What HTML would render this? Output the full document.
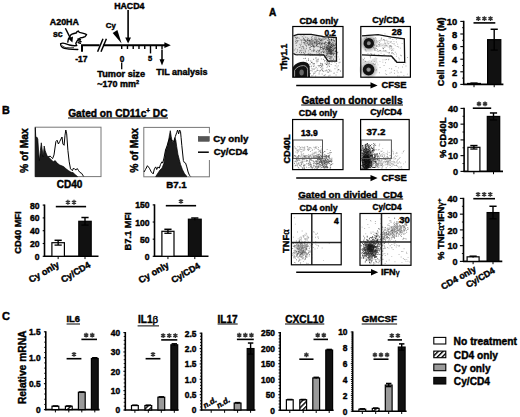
<!DOCTYPE html>
<html><head><meta charset="utf-8"><style>html,body{margin:0;padding:0;background:#fff;}svg{display:block;}text{stroke:#000;stroke-width:0.42px;}</style></head><body>
<svg width="520" height="417" viewBox="0 0 520 417" font-family="&quot;Liberation Sans&quot;, sans-serif" font-weight="bold" fill="#000"><defs>
<radialGradient id="gb"><stop offset="0" stop-color="#000" stop-opacity="0.95"/><stop offset="0.5" stop-color="#000" stop-opacity="0.75"/><stop offset="0.78" stop-color="#000" stop-opacity="0.3"/><stop offset="1" stop-color="#000" stop-opacity="0"/></radialGradient>
<radialGradient id="gh"><stop offset="0" stop-color="#000" stop-opacity="0.55"/><stop offset="0.5" stop-color="#000" stop-opacity="0.35"/><stop offset="1" stop-color="#000" stop-opacity="0"/></radialGradient>
<radialGradient id="gg"><stop offset="0" stop-color="#000" stop-opacity="0.4"/><stop offset="1" stop-color="#000" stop-opacity="0"/></radialGradient>
<pattern id="hatch" patternUnits="userSpaceOnUse" width="3.4" height="3.4" patternTransform="rotate(45)"><rect width="3.4" height="3.4" fill="#fff"/><rect width="1.4" height="3.4" fill="#000"/></pattern>
</defs>
<rect width="520" height="417" fill="#fff"/>
<text id="t_a20ha" x="49.85" y="25.17" font-size="8.88" text-anchor="start">A20HA</text>
<text id="t_sc" x="52.91" y="36.66" font-size="8.70" text-anchor="start">sc</text>
<text id="t_hacd4" x="114.15" y="8.53" font-size="8.82" text-anchor="start">HACD4</text>
<text id="t_cy" x="105.82" y="27.83" font-size="7.81" text-anchor="start">Cy</text>
<text id="t_m17" x="75.28" y="62.08" font-size="8.54" text-anchor="start">-17</text>
<text id="t_z0" x="119.71" y="61.60" font-size="8.23" text-anchor="start">0</text>
<text id="t_z5" x="148.02" y="61.40" font-size="7.47" text-anchor="start">5</text>
<text id="t_tumor" x="97.28" y="76.78" font-size="9.19" text-anchor="start">Tumor size</text>
<text id="t_mm2" x="97.34" y="87.09" font-size="8.99" text-anchor="start">~170 mm<tspan font-size="0.62em" dy="-0.55em">2</tspan></text>
<text id="t_til" x="156.23" y="75.35" font-size="8.98" text-anchor="start">TIL analysis</text>
<path d="M82 51.8 V45.2 H99.6 M103.2 45.2 H166" stroke="#000" stroke-width="2" fill="none"/>
<path d="M164.4 42.3 L170.8 45.2 L164.4 48.1 Z" fill="#000"/>
<line x1="97.60" y1="51.80" x2="103.00" y2="38.80" stroke="#000" stroke-width="1.5"/>
<line x1="101.00" y1="51.80" x2="106.40" y2="38.80" stroke="#000" stroke-width="1.5"/>
<line x1="121.70" y1="45.20" x2="121.70" y2="49.00" stroke="#000" stroke-width="1.4"/>
<line x1="127.46" y1="45.20" x2="127.46" y2="49.00" stroke="#000" stroke-width="1.4"/>
<line x1="133.22" y1="45.20" x2="133.22" y2="49.00" stroke="#000" stroke-width="1.4"/>
<line x1="138.98" y1="45.20" x2="138.98" y2="49.00" stroke="#000" stroke-width="1.4"/>
<line x1="144.74" y1="45.20" x2="144.74" y2="49.00" stroke="#000" stroke-width="1.4"/>
<line x1="150.50" y1="45.20" x2="150.50" y2="53.40" stroke="#000" stroke-width="1.4"/>
<line x1="156.26" y1="45.20" x2="156.26" y2="49.00" stroke="#000" stroke-width="1.4"/>
<line x1="162.02" y1="45.20" x2="162.02" y2="49.00" stroke="#000" stroke-width="1.4"/>
<line x1="121.70" y1="62.60" x2="121.70" y2="69.20" stroke="#000" stroke-width="1.3"/>
<path d="M112.7 33.1 L117.4 30.0 L121.6 43.6 Z" fill="#000"/>
<line x1="128.10" y1="10.00" x2="128.10" y2="38.50" stroke="#000" stroke-width="1.6"/>
<path d="M125.2 37.6 L131.0 37.6 L128.1 43.6 Z" fill="#000"/>
<line x1="162.00" y1="49.50" x2="162.00" y2="60.50" stroke="#000" stroke-width="1.5"/>
<path d="M159.5 59.2 L164.5 59.2 L162 65.6 Z" fill="#000"/>
<line x1="65.40" y1="28.20" x2="70.60" y2="38.60" stroke="#000" stroke-width="1.4"/>
<path d="M68.2 38.4 L73.0 36.4 L72.4 42.4 Z" fill="#000"/>
<g fill="none" stroke="#000" stroke-width="1.35" stroke-linejoin="round" stroke-linecap="round"><path d="M71.2 34.5 C73 33.6 75 33.2 76.6 32.8 L76.9 31.6 L78.3 31.0 L79.3 32.3 C81.2 32.6 83.4 33.1 85.1 33.8 L86.6 34.6 L85.1 36.6 L82.6 37.5 L80.2 37.9 L77.2 40.8 L75.8 43.4 L76.5 45.4"/><path d="M71.2 34.5 L68.4 38.8 L67.8 42.2"/><path d="M60.6 43.8 C60.6 46.2 62.2 47.8 64.4 48.4 C67 49.2 71 49.3 77.8 49.5"/><path d="M60.6 43.8 C61.8 43.0 63.2 43.0 64.4 43.4 C66.4 44.0 68 44.7 69.4 45.0 C71.6 45.6 74 46.0 76.8 45.6"/><path d="M62.6 45.9 C63.8 47.0 65 47.5 66.4 47.7 C68.8 48.0 71 47.9 73.6 47.8" stroke-width="0.9"/></g>
<path d="M78.0 39.0 L80.4 39.8 M78.6 40.9 L81.0 41.6 M78.2 42.6 L80.4 43.3" stroke="#000" stroke-width="1.5" stroke-linecap="round"/>
<text id="t_B" x="1.89" y="113.74" font-size="10.82" text-anchor="start">B</text>
<text id="t_gcd11" x="68.18" y="116.58" font-size="10.20" text-anchor="start">Gated on CD11c<tspan font-size="0.62em" dy="-0.55em">+</tspan><tspan dy="0.34em"> DC</tspan></text>
<line x1="68.00" y1="118.00" x2="168.00" y2="118.00" stroke="#000" stroke-width="1.0"/>
<rect x="35.2" y="127.2" width="65.8" height="49.4" fill="none" stroke="#777" stroke-width="1"/>
<rect x="143.8" y="127.4" width="65.6" height="49.4" fill="none" stroke="#777" stroke-width="1"/>
<path d="M35.3 176.6 L35.3 127.5 L35.8 137.7 L36.8 137 L37.8 139 L38.7 153 L39.4 160.6 L40.4 150.4 L41.3 142.8 L42.1 149 L43.2 156.8 L44.2 146 L45.1 150.4 L46 153 L47 155.5 L48.9 157.4 L50.8 159.3 L53.3 161.8 L55.2 160.6 L57.1 163.1 L59.7 165 L62.9 166.3 L64.1 167 L66 168.8 L68.6 170.7 L71.1 172.3 L73 172.6 L75 174.5 L77.5 176.6 Z" fill="#1c1c1c" stroke="#000" stroke-width="0.7"/>
<path d="M48 157 L50.2 156.1 L51.4 157.4 L52.6 158.6 L54 154.9 L55.9 141.5 L57.1 140.2 L58.4 144 L59.7 141.5 L61 139 L62 137 L62.9 144 L64.1 145.3 L65 135.2 L65.8 130 L66.7 133.9 L67.9 150.4 L69.2 161.8 L70.5 168.8 L72.4 170.7 L73.5 168 L75 169.5 L76.2 169.8 L77.2 168.5 L78.5 170.5 L80 172.5 L81.5 173.2 L83.6 176.4" fill="none" stroke="#000" stroke-width="1"/>
<path d="M155.7 176.6 L158 173 L160 170 L162 168.2 L164 163.1 L165.9 150.4 L167.8 145.3 L169 137.7 L170.3 130.7 L171.2 136.4 L172.2 141.5 L173.5 142.8 L174.8 137.7 L175.8 140.2 L176.7 146.6 L177.9 154.2 L179.2 159.3 L180.5 164.4 L182.4 169.5 L184.3 173.3 L186.2 175.8 L187 176.6 Z" fill="#1c1c1c" stroke="#000" stroke-width="0.7"/>
<path d="M144 172 L145.5 169.5 L147.4 165.7 L149.4 168.2 L151.3 172 L153.2 173.9 L154.4 168.8 L155.7 166.9 L156.7 169.5 L158 166.9 L159.3 168.2 L160.5 164.4 L162 161.8 L162.7 163.1 L164 158 L165.5 150 L167 146 L168.5 141 L170 138 L171.5 140.5 L173 141 L174.1 141.5 L175.4 136.4 L176.7 132.6 L177.6 130 L178.6 133.9 L179.6 130 L180.5 131.4 L181.1 137.7 L181.8 145.3 L182.6 153 L183.4 160.6 L184.3 162.5 L185.6 163.1 L186.8 166.9 L188.1 172 L189.4 175.2 L190.6 176.4" fill="none" stroke="#000" stroke-width="1"/>
<text id="t_pom1" x="28.36" y="150.61" font-size="10.34" text-anchor="middle" transform="rotate(-90 28.36 150.61)">% of Max</text>
<text id="t_pom2" x="137.72" y="150.45" font-size="10.34" text-anchor="middle" transform="rotate(-90 137.72 150.45)">% of Max</text>
<text id="t_cd40" x="69.50" y="187.93" font-size="10.04" text-anchor="middle">CD40</text>
<text id="t_b71" x="176.44" y="188.47" font-size="9.73" text-anchor="middle">B7.1</text>
<rect x="196.5" y="133.2" width="56" height="26.8" fill="#fff"/>
<rect x="198.2" y="136.4" width="11.2" height="5" fill="#555" stroke="#333" stroke-width="0.4"/>
<line x1="198.00" y1="152.20" x2="208.80" y2="152.20" stroke="#000" stroke-width="1.5"/>
<text id="t_lcyo" x="213.26" y="141.71" font-size="9.71" text-anchor="start">Cy only</text>
<text id="t_lcyc" x="213.71" y="155.32" font-size="9.53" text-anchor="start">Cy/CD4</text>
<line x1="44.50" y1="256.90" x2="44.50" y2="204.50" stroke="#000" stroke-width="1.6"/>
<line x1="42.70" y1="256.30" x2="44.50" y2="256.30" stroke="#000" stroke-width="1.1"/>
<text x="39.60" y="259.78" font-size="8.6" text-anchor="end">0</text>
<line x1="42.70" y1="243.50" x2="44.50" y2="243.50" stroke="#000" stroke-width="1.1"/>
<text x="39.60" y="246.98" font-size="8.6" text-anchor="end">20</text>
<line x1="42.70" y1="230.70" x2="44.50" y2="230.70" stroke="#000" stroke-width="1.1"/>
<text x="39.60" y="234.18" font-size="8.6" text-anchor="end">40</text>
<line x1="42.70" y1="217.90" x2="44.50" y2="217.90" stroke="#000" stroke-width="1.1"/>
<text x="39.60" y="221.38" font-size="8.6" text-anchor="end">60</text>
<line x1="42.70" y1="205.10" x2="44.50" y2="205.10" stroke="#000" stroke-width="1.1"/>
<text x="39.60" y="208.58" font-size="8.6" text-anchor="end">80</text>
<line x1="43.90" y1="256.30" x2="98.50" y2="256.30" stroke="#000" stroke-width="1.6"/>
<line x1="58.15" y1="256.30" x2="58.15" y2="259.10" stroke="#000" stroke-width="1"/>
<rect x="51.90" y="242.70" width="12.50" height="13.60" fill="#fff" stroke="#000" stroke-width="1.2"/>
<line x1="58.15" y1="245.10" x2="58.15" y2="240.30" stroke="#000" stroke-width="1.4"/>
<line x1="54.55" y1="240.30" x2="61.75" y2="240.30" stroke="#000" stroke-width="1.5"/>
<line x1="54.55" y1="245.10" x2="61.75" y2="245.10" stroke="#000" stroke-width="1.3"/>
<line x1="85.00" y1="256.30" x2="85.00" y2="259.10" stroke="#000" stroke-width="1"/>
<rect x="78.80" y="221.29" width="12.40" height="35.01" fill="#111" stroke="#000" stroke-width="1.2"/>
<line x1="85.00" y1="225.07" x2="85.00" y2="217.52" stroke="#000" stroke-width="1.4"/>
<line x1="81.40" y1="217.52" x2="88.60" y2="217.52" stroke="#000" stroke-width="1.5"/>
<line x1="81.40" y1="225.07" x2="88.60" y2="225.07" stroke="#000" stroke-width="1.3"/>
<line x1="55.80" y1="206.60" x2="86.10" y2="206.60" stroke="#000" stroke-width="1.6"/>
<path d="M67.90 199.85L67.90 204.75M65.78 201.07L70.02 203.52M65.78 203.52L70.02 201.07M74.00 199.85L74.00 204.75M71.88 201.07L76.12 203.52M71.88 203.52L76.12 201.07" stroke="#333" stroke-width="1.35" fill="none"/>
<text id="t_cd40mfi" x="20.78" y="232.52" font-size="9.28" text-anchor="middle" transform="rotate(-90 20.78 232.52)">CD40 MFI</text>
<text id="t_xb1" x="59.84" y="266.42" font-size="9.22" text-anchor="end" transform="rotate(-30 59.84 266.42)">Cy only</text>
<text id="t_xb2" x="91.09" y="266.82" font-size="9.05" text-anchor="end" transform="rotate(-30 91.09 266.82)">Cy/CD4</text>
<line x1="154.50" y1="256.90" x2="154.50" y2="204.30" stroke="#000" stroke-width="1.6"/>
<line x1="152.70" y1="256.30" x2="154.50" y2="256.30" stroke="#000" stroke-width="1.1"/>
<text x="149.60" y="259.78" font-size="8.6" text-anchor="end">0</text>
<line x1="152.70" y1="239.17" x2="154.50" y2="239.17" stroke="#000" stroke-width="1.1"/>
<text x="149.60" y="242.65" font-size="8.6" text-anchor="end">50</text>
<line x1="152.70" y1="222.03" x2="154.50" y2="222.03" stroke="#000" stroke-width="1.1"/>
<text x="149.60" y="225.51" font-size="8.6" text-anchor="end">100</text>
<line x1="152.70" y1="204.90" x2="154.50" y2="204.90" stroke="#000" stroke-width="1.1"/>
<text x="149.60" y="208.38" font-size="8.6" text-anchor="end">150</text>
<line x1="153.90" y1="256.30" x2="208.50" y2="256.30" stroke="#000" stroke-width="1.6"/>
<line x1="167.95" y1="256.30" x2="167.95" y2="259.10" stroke="#000" stroke-width="1"/>
<rect x="161.90" y="231.29" width="12.10" height="25.01" fill="#fff" stroke="#000" stroke-width="1.2"/>
<line x1="167.95" y1="233.27" x2="167.95" y2="229.30" stroke="#000" stroke-width="1.4"/>
<line x1="164.35" y1="229.30" x2="171.55" y2="229.30" stroke="#000" stroke-width="1.5"/>
<line x1="164.35" y1="233.27" x2="171.55" y2="233.27" stroke="#000" stroke-width="1.3"/>
<line x1="194.80" y1="256.30" x2="194.80" y2="259.10" stroke="#000" stroke-width="1"/>
<rect x="188.40" y="219.19" width="12.80" height="37.11" fill="#111" stroke="#000" stroke-width="1.2"/>
<line x1="194.80" y1="220.35" x2="194.80" y2="218.02" stroke="#000" stroke-width="1.4"/>
<line x1="191.20" y1="218.02" x2="198.40" y2="218.02" stroke="#000" stroke-width="1.5"/>
<line x1="165.80" y1="205.70" x2="196.10" y2="205.70" stroke="#000" stroke-width="1.6"/>
<path d="M180.95 198.95L180.95 203.85M178.83 200.17L183.07 202.62M178.83 202.62L183.07 200.17" stroke="#333" stroke-width="1.35" fill="none"/>
<text id="t_b71mfi" x="131.43" y="231.42" font-size="9.28" text-anchor="middle" transform="rotate(-90 131.43 231.42)">B7.1 MFI</text>
<text id="t_xb3" x="169.67" y="266.84" font-size="9.24" text-anchor="end" transform="rotate(-30 169.67 266.84)">Cy only</text>
<text id="t_xb4" x="200.76" y="267.58" font-size="8.90" text-anchor="end" transform="rotate(-30 200.76 267.58)">Cy/CD4</text>
<text id="t_A" x="268.92" y="15.65" font-size="10.10" text-anchor="start">A</text>
<text id="t_r1a" x="318.82" y="23.82" font-size="8.96" text-anchor="middle">CD4 only</text>
<text id="t_r1b" x="388.18" y="23.22" font-size="9.02" text-anchor="middle">Cy/CD4</text>
<path d="M293.4 35.8 L297.8 34.3 L311.2 34.3 L323.7 36.7 L336.3 37.7 L336.5 61.2 L328 61.2 L323.8 55.0 L295.5 54.6 L293.4 53.5 Z" fill="#e4e4e4"/>
<ellipse cx="330" cy="50" rx="5.5" ry="9" fill="url(#gg)"/>
<ellipse cx="314" cy="42" rx="12" ry="5" fill="url(#gg)" opacity="0.6"/>
<path d="M320.6 42.2h0.9v0.9h-0.9zM331.8 49.7h0.9v0.9h-0.9zM326.8 52.5h0.9v0.9h-0.9zM304.2 53.0h0.9v0.9h-0.9zM307.3 39.1h0.9v0.9h-0.9zM330.8 36.5h0.9v0.9h-0.9zM295.2 48.4h0.9v0.9h-0.9zM328.7 40.1h0.9v0.9h-0.9zM327.7 46.7h0.9v0.9h-0.9zM314.2 54.0h0.9v0.9h-0.9zM307.4 43.2h0.9v0.9h-0.9zM306.4 40.8h0.9v0.9h-0.9zM305.4 44.7h0.9v0.9h-0.9zM313.2 48.5h0.9v0.9h-0.9zM315.7 37.9h0.9v0.9h-0.9zM317.7 43.2h0.9v0.9h-0.9zM335.8 38.5h0.9v0.9h-0.9zM327.5 48.6h0.9v0.9h-0.9zM320.5 51.8h0.9v0.9h-0.9zM335.5 43.2h0.9v0.9h-0.9zM303.8 43.1h0.9v0.9h-0.9zM301.6 46.3h0.9v0.9h-0.9zM320.1 40.1h0.9v0.9h-0.9zM296.8 40.7h0.9v0.9h-0.9zM296.5 42.3h0.9v0.9h-0.9zM316.1 44.7h0.9v0.9h-0.9zM314.1 37.5h0.9v0.9h-0.9zM332.6 50.3h0.9v0.9h-0.9zM320.8 47.0h0.9v0.9h-0.9zM316.1 41.7h0.9v0.9h-0.9zM315.4 37.5h0.9v0.9h-0.9zM305.1 50.5h0.9v0.9h-0.9zM295.5 38.5h0.9v0.9h-0.9zM302.9 38.5h0.9v0.9h-0.9zM323.4 38.5h0.9v0.9h-0.9zM303.2 37.5h0.9v0.9h-0.9zM310.2 53.2h0.9v0.9h-0.9zM295.2 41.1h0.9v0.9h-0.9zM329.0 41.8h0.9v0.9h-0.9zM301.3 51.8h0.9v0.9h-0.9zM306.0 47.8h0.9v0.9h-0.9zM331.1 39.6h0.9v0.9h-0.9zM315.9 44.3h0.9v0.9h-0.9zM329.7 52.8h0.9v0.9h-0.9zM321.2 43.1h0.9v0.9h-0.9zM325.4 49.5h0.9v0.9h-0.9zM298.8 37.8h0.9v0.9h-0.9zM317.2 49.8h0.9v0.9h-0.9zM315.8 50.8h0.9v0.9h-0.9zM330.7 51.7h0.9v0.9h-0.9zM309.8 48.8h0.9v0.9h-0.9zM319.5 43.0h0.9v0.9h-0.9zM297.4 37.2h0.9v0.9h-0.9zM310.9 45.9h0.9v0.9h-0.9zM308.2 50.4h0.9v0.9h-0.9zM301.2 39.6h0.9v0.9h-0.9zM328.5 41.1h0.9v0.9h-0.9zM310.6 46.2h0.9v0.9h-0.9zM335.1 50.2h0.9v0.9h-0.9zM319.2 53.0h0.9v0.9h-0.9zM319.8 38.4h0.9v0.9h-0.9zM321.2 39.5h0.9v0.9h-0.9zM322.7 51.2h0.9v0.9h-0.9zM301.2 48.2h0.9v0.9h-0.9zM313.1 49.7h0.9v0.9h-0.9zM304.8 54.9h0.9v0.9h-0.9zM311.5 53.8h0.9v0.9h-0.9zM299.0 52.0h0.9v0.9h-0.9zM334.7 50.8h0.9v0.9h-0.9zM303.8 43.5h0.9v0.9h-0.9zM322.5 48.2h0.9v0.9h-0.9zM307.3 39.5h0.9v0.9h-0.9zM330.8 50.4h0.9v0.9h-0.9zM322.2 50.4h0.9v0.9h-0.9zM300.4 49.7h0.9v0.9h-0.9zM329.6 44.5h0.9v0.9h-0.9zM333.7 43.2h0.9v0.9h-0.9zM332.1 44.0h0.9v0.9h-0.9zM318.4 36.6h0.9v0.9h-0.9zM301.0 52.0h0.9v0.9h-0.9zM302.9 46.3h0.9v0.9h-0.9zM333.0 43.4h0.9v0.9h-0.9zM317.6 46.4h0.9v0.9h-0.9zM302.4 49.7h0.9v0.9h-0.9zM331.2 43.2h0.9v0.9h-0.9zM321.3 51.8h0.9v0.9h-0.9zM318.4 53.5h0.9v0.9h-0.9zM310.4 43.4h0.9v0.9h-0.9zM311.8 38.6h0.9v0.9h-0.9zM304.8 50.4h0.9v0.9h-0.9zM296.6 54.9h0.9v0.9h-0.9zM330.9 38.8h0.9v0.9h-0.9zM314.2 49.5h0.9v0.9h-0.9zM317.5 51.7h0.9v0.9h-0.9zM308.2 53.5h0.9v0.9h-0.9zM325.8 38.3h0.9v0.9h-0.9zM296.0 37.7h0.9v0.9h-0.9zM310.3 54.8h0.9v0.9h-0.9zM296.2 38.2h0.9v0.9h-0.9zM300.0 39.4h0.9v0.9h-0.9zM334.7 46.9h0.9v0.9h-0.9zM322.0 44.5h0.9v0.9h-0.9zM312.6 50.3h0.9v0.9h-0.9zM316.5 39.6h0.9v0.9h-0.9zM330.8 53.4h0.9v0.9h-0.9zM309.1 40.1h0.9v0.9h-0.9zM319.2 50.6h0.9v0.9h-0.9zM323.0 37.3h0.9v0.9h-0.9zM309.6 45.0h0.9v0.9h-0.9zM316.3 36.6h0.9v0.9h-0.9zM326.4 42.0h0.9v0.9h-0.9zM332.3 41.9h0.9v0.9h-0.9zM301.2 49.7h0.9v0.9h-0.9zM333.3 44.6h0.9v0.9h-0.9zM295.2 37.1h0.9v0.9h-0.9zM325.9 54.9h0.9v0.9h-0.9zM328.2 52.9h0.9v0.9h-0.9zM300.6 53.4h0.9v0.9h-0.9zM312.2 40.7h0.9v0.9h-0.9zM328.4 43.5h0.9v0.9h-0.9zM295.6 40.3h0.9v0.9h-0.9zM320.8 38.4h0.9v0.9h-0.9zM327.5 36.6h0.9v0.9h-0.9zM316.0 45.6h0.9v0.9h-0.9zM324.8 38.3h0.9v0.9h-0.9zM304.3 39.3h0.9v0.9h-0.9zM303.1 52.3h0.9v0.9h-0.9zM309.9 45.2h0.9v0.9h-0.9zM302.4 39.5h0.9v0.9h-0.9zM309.2 48.7h0.9v0.9h-0.9zM333.9 41.1h0.9v0.9h-0.9zM318.5 46.0h0.9v0.9h-0.9zM308.9 41.4h0.9v0.9h-0.9zM306.1 45.8h0.9v0.9h-0.9zM334.0 47.9h0.9v0.9h-0.9zM313.2 46.2h0.9v0.9h-0.9zM335.2 43.5h0.9v0.9h-0.9zM316.1 51.0h0.9v0.9h-0.9zM316.4 52.6h0.9v0.9h-0.9zM331.8 39.4h0.9v0.9h-0.9zM325.5 38.6h0.9v0.9h-0.9zM318.8 38.2h0.9v0.9h-0.9zM312.5 54.6h0.9v0.9h-0.9zM331.0 53.9h0.9v0.9h-0.9zM311.9 40.4h0.9v0.9h-0.9zM332.8 54.4h0.9v0.9h-0.9zM297.8 39.9h0.9v0.9h-0.9zM312.6 45.6h0.9v0.9h-0.9zM316.3 45.5h0.9v0.9h-0.9zM334.0 53.4h0.9v0.9h-0.9zM305.3 36.8h0.9v0.9h-0.9zM328.0 42.0h0.9v0.9h-0.9zM322.7 47.4h0.9v0.9h-0.9zM324.4 37.3h0.9v0.9h-0.9zM320.8 40.5h0.9v0.9h-0.9zM334.8 44.8h0.9v0.9h-0.9zM308.6 52.7h0.9v0.9h-0.9zM311.3 50.5h0.9v0.9h-0.9zM303.3 51.8h0.9v0.9h-0.9zM297.1 50.5h0.9v0.9h-0.9zM303.7 49.4h0.9v0.9h-0.9zM332.5 52.1h0.9v0.9h-0.9zM329.4 48.9h0.9v0.9h-0.9zM299.6 50.0h0.9v0.9h-0.9zM319.8 41.7h0.9v0.9h-0.9zM314.6 39.2h0.9v0.9h-0.9zM319.4 50.4h0.9v0.9h-0.9zM322.0 39.2h0.9v0.9h-0.9zM307.6 53.5h0.9v0.9h-0.9zM334.4 47.3h0.9v0.9h-0.9zM314.1 42.3h0.9v0.9h-0.9zM320.8 53.8h0.9v0.9h-0.9zM321.0 38.9h0.9v0.9h-0.9zM302.5 45.8h0.9v0.9h-0.9zM297.5 37.7h0.9v0.9h-0.9zM311.9 54.3h0.9v0.9h-0.9zM326.3 46.9h0.9v0.9h-0.9zM328.4 51.3h0.9v0.9h-0.9zM324.9 41.4h0.9v0.9h-0.9zM299.6 51.2h0.9v0.9h-0.9zM332.4 49.4h0.9v0.9h-0.9zM327.9 48.2h0.9v0.9h-0.9zM331.0 54.1h0.9v0.9h-0.9zM316.5 44.2h0.9v0.9h-0.9zM332.5 43.9h0.9v0.9h-0.9zM296.9 49.2h0.9v0.9h-0.9zM296.2 51.9h0.9v0.9h-0.9zM295.8 42.4h0.9v0.9h-0.9zM305.4 48.7h0.9v0.9h-0.9zM305.2 40.0h0.9v0.9h-0.9zM302.7 46.5h0.9v0.9h-0.9zM318.2 50.6h0.9v0.9h-0.9zM296.6 37.2h0.9v0.9h-0.9zM319.2 49.8h0.9v0.9h-0.9zM301.8 36.3h0.9v0.9h-0.9zM322.8 54.2h0.9v0.9h-0.9zM295.9 44.9h0.9v0.9h-0.9zM307.7 43.8h0.9v0.9h-0.9zM333.5 49.7h0.9v0.9h-0.9zM317.1 45.9h0.9v0.9h-0.9zM328.3 49.9h0.9v0.9h-0.9zM322.0 37.6h0.9v0.9h-0.9zM320.0 46.7h0.9v0.9h-0.9zM302.8 46.6h0.9v0.9h-0.9zM318.6 53.7h0.9v0.9h-0.9zM296.6 36.8h0.9v0.9h-0.9zM327.9 44.6h0.9v0.9h-0.9zM334.4 48.0h0.9v0.9h-0.9zM330.0 46.5h0.9v0.9h-0.9zM297.1 37.4h0.9v0.9h-0.9zM308.9 47.3h0.9v0.9h-0.9zM308.0 40.2h0.9v0.9h-0.9zM299.6 39.7h0.9v0.9h-0.9zM320.7 52.7h0.9v0.9h-0.9zM327.7 39.8h0.9v0.9h-0.9zM307.9 44.6h0.9v0.9h-0.9zM330.4 50.3h0.9v0.9h-0.9zM327.7 49.4h0.9v0.9h-0.9zM300.3 46.5h0.9v0.9h-0.9zM326.4 51.3h0.9v0.9h-0.9zM331.2 44.9h0.9v0.9h-0.9zM303.1 47.8h0.9v0.9h-0.9zM318.5 51.6h0.9v0.9h-0.9zM321.2 48.9h0.9v0.9h-0.9zM320.0 48.2h0.9v0.9h-0.9zM298.9 43.7h0.9v0.9h-0.9zM322.1 46.6h0.9v0.9h-0.9zM320.9 43.5h0.9v0.9h-0.9zM328.8 50.1h0.9v0.9h-0.9zM327.9 43.2h0.9v0.9h-0.9z" fill="#000" fill-opacity="0.45"/>
<path d="M325.7 44.0h0.9v0.9h-0.9zM329.1 39.1h0.9v0.9h-0.9zM329.7 40.4h0.9v0.9h-0.9zM332.9 53.0h0.9v0.9h-0.9zM326.3 44.4h0.9v0.9h-0.9zM329.4 48.2h0.9v0.9h-0.9zM323.5 50.3h0.9v0.9h-0.9zM331.8 52.7h0.9v0.9h-0.9zM325.7 47.0h0.9v0.9h-0.9zM323.2 52.0h0.9v0.9h-0.9zM329.3 43.7h0.9v0.9h-0.9zM333.4 46.8h0.9v0.9h-0.9zM324.2 42.9h0.9v0.9h-0.9zM325.7 55.8h0.9v0.9h-0.9zM326.9 48.8h0.9v0.9h-0.9zM325.5 44.6h0.9v0.9h-0.9zM330.8 46.9h0.9v0.9h-0.9zM326.7 47.7h0.9v0.9h-0.9zM327.0 53.2h0.9v0.9h-0.9zM331.5 39.4h0.9v0.9h-0.9zM326.9 42.8h0.9v0.9h-0.9zM331.0 46.7h0.9v0.9h-0.9zM326.1 64.2h0.9v0.9h-0.9zM325.3 54.7h0.9v0.9h-0.9zM323.1 48.3h0.9v0.9h-0.9zM336.0 53.3h0.9v0.9h-0.9zM328.4 61.3h0.9v0.9h-0.9zM330.4 47.6h0.9v0.9h-0.9zM329.4 46.8h0.9v0.9h-0.9zM330.1 56.3h0.9v0.9h-0.9zM329.7 52.0h0.9v0.9h-0.9zM336.2 53.0h0.9v0.9h-0.9zM325.9 46.0h0.9v0.9h-0.9zM324.0 60.5h0.9v0.9h-0.9zM326.0 59.3h0.9v0.9h-0.9zM324.8 52.4h0.9v0.9h-0.9zM332.1 53.1h0.9v0.9h-0.9zM332.4 36.8h0.9v0.9h-0.9zM326.1 52.8h0.9v0.9h-0.9zM324.6 47.8h0.9v0.9h-0.9zM328.3 51.6h0.9v0.9h-0.9zM334.4 53.1h0.9v0.9h-0.9zM319.6 47.0h0.9v0.9h-0.9zM331.3 38.9h0.9v0.9h-0.9zM325.7 51.2h0.9v0.9h-0.9zM333.1 44.6h0.9v0.9h-0.9zM325.7 47.0h0.9v0.9h-0.9zM328.5 45.4h0.9v0.9h-0.9zM324.2 47.0h0.9v0.9h-0.9zM326.1 35.1h0.9v0.9h-0.9zM334.4 56.3h0.9v0.9h-0.9zM332.4 50.5h0.9v0.9h-0.9zM328.1 55.7h0.9v0.9h-0.9zM326.5 60.9h0.9v0.9h-0.9zM322.9 49.1h0.9v0.9h-0.9zM328.1 38.2h0.9v0.9h-0.9zM329.4 43.6h0.9v0.9h-0.9zM329.2 41.8h0.9v0.9h-0.9zM329.2 46.0h0.9v0.9h-0.9zM325.6 49.5h0.9v0.9h-0.9zM329.3 37.0h0.9v0.9h-0.9zM329.4 51.1h0.9v0.9h-0.9zM334.0 39.9h0.9v0.9h-0.9zM336.0 50.8h0.9v0.9h-0.9zM329.0 48.3h0.9v0.9h-0.9zM326.8 47.1h0.9v0.9h-0.9zM329.3 48.6h0.9v0.9h-0.9zM327.4 45.8h0.9v0.9h-0.9zM326.9 45.3h0.9v0.9h-0.9zM329.3 38.9h0.9v0.9h-0.9zM325.8 48.8h0.9v0.9h-0.9zM331.6 60.1h0.9v0.9h-0.9zM329.1 60.9h0.9v0.9h-0.9zM330.4 56.9h0.9v0.9h-0.9zM328.9 53.2h0.9v0.9h-0.9zM327.0 44.9h0.9v0.9h-0.9zM326.2 57.7h0.9v0.9h-0.9zM328.7 48.7h0.9v0.9h-0.9zM327.6 48.6h0.9v0.9h-0.9zM330.3 47.3h0.9v0.9h-0.9zM329.5 49.6h0.9v0.9h-0.9zM324.7 46.4h0.9v0.9h-0.9zM329.7 48.5h0.9v0.9h-0.9zM324.8 42.5h0.9v0.9h-0.9zM327.3 46.8h0.9v0.9h-0.9zM328.5 62.7h0.9v0.9h-0.9zM322.2 48.6h0.9v0.9h-0.9zM329.8 47.6h0.9v0.9h-0.9zM330.0 52.2h0.9v0.9h-0.9zM328.9 53.2h0.9v0.9h-0.9zM328.0 42.3h0.9v0.9h-0.9zM328.2 47.8h0.9v0.9h-0.9zM326.1 54.5h0.9v0.9h-0.9zM328.6 50.6h0.9v0.9h-0.9zM327.6 49.7h0.9v0.9h-0.9zM329.8 58.3h0.9v0.9h-0.9zM325.3 44.9h0.9v0.9h-0.9zM330.3 49.5h0.9v0.9h-0.9zM330.0 45.9h0.9v0.9h-0.9zM329.0 57.9h0.9v0.9h-0.9zM328.0 37.3h0.9v0.9h-0.9zM331.4 45.0h0.9v0.9h-0.9zM323.7 45.8h0.9v0.9h-0.9zM331.1 53.0h0.9v0.9h-0.9zM330.4 52.6h0.9v0.9h-0.9zM330.5 57.4h0.9v0.9h-0.9zM330.8 39.6h0.9v0.9h-0.9zM327.2 53.5h0.9v0.9h-0.9zM328.6 47.2h0.9v0.9h-0.9zM331.7 45.0h0.9v0.9h-0.9zM331.0 52.2h0.9v0.9h-0.9zM330.2 43.5h0.9v0.9h-0.9zM324.2 36.5h0.9v0.9h-0.9zM331.4 46.8h0.9v0.9h-0.9zM333.6 40.0h0.9v0.9h-0.9zM333.0 45.1h0.9v0.9h-0.9zM330.3 51.2h0.9v0.9h-0.9zM324.0 50.9h0.9v0.9h-0.9zM332.8 58.5h0.9v0.9h-0.9zM329.0 47.8h0.9v0.9h-0.9zM320.6 39.8h0.9v0.9h-0.9zM330.8 44.5h0.9v0.9h-0.9zM324.3 43.5h0.9v0.9h-0.9zM325.0 41.7h0.9v0.9h-0.9zM327.3 51.6h0.9v0.9h-0.9zM334.0 45.1h0.9v0.9h-0.9zM328.2 37.1h0.9v0.9h-0.9zM330.4 53.2h0.9v0.9h-0.9zM335.6 48.3h0.9v0.9h-0.9zM335.1 51.1h0.9v0.9h-0.9zM329.1 49.6h0.9v0.9h-0.9zM328.7 52.8h0.9v0.9h-0.9zM325.1 49.2h0.9v0.9h-0.9zM327.1 56.4h0.9v0.9h-0.9zM331.0 51.5h0.9v0.9h-0.9zM330.9 51.4h0.9v0.9h-0.9zM329.9 51.5h0.9v0.9h-0.9zM333.0 40.3h0.9v0.9h-0.9zM326.8 48.0h0.9v0.9h-0.9zM329.3 47.4h0.9v0.9h-0.9zM332.1 50.2h0.9v0.9h-0.9zM331.5 40.8h0.9v0.9h-0.9zM333.2 58.8h0.9v0.9h-0.9zM330.9 49.6h0.9v0.9h-0.9zM328.4 41.7h0.9v0.9h-0.9zM330.8 38.7h0.9v0.9h-0.9zM326.0 47.3h0.9v0.9h-0.9zM323.8 48.5h0.9v0.9h-0.9zM331.5 44.7h0.9v0.9h-0.9zM329.3 49.6h0.9v0.9h-0.9zM330.6 45.2h0.9v0.9h-0.9zM323.6 52.3h0.9v0.9h-0.9zM328.2 44.7h0.9v0.9h-0.9zM327.4 48.8h0.9v0.9h-0.9zM326.5 54.9h0.9v0.9h-0.9zM321.6 64.4h0.9v0.9h-0.9zM328.3 43.0h0.9v0.9h-0.9zM332.6 46.2h0.9v0.9h-0.9zM330.8 44.0h0.9v0.9h-0.9zM327.4 53.7h0.9v0.9h-0.9zM329.4 42.1h0.9v0.9h-0.9zM332.1 46.1h0.9v0.9h-0.9zM319.8 48.8h0.9v0.9h-0.9zM329.1 43.1h0.9v0.9h-0.9zM331.4 43.3h0.9v0.9h-0.9zM331.9 46.1h0.9v0.9h-0.9zM335.5 36.4h0.9v0.9h-0.9zM333.5 40.3h0.9v0.9h-0.9zM330.6 46.5h0.9v0.9h-0.9zM330.6 49.9h0.9v0.9h-0.9zM332.3 47.9h0.9v0.9h-0.9zM327.6 38.4h0.9v0.9h-0.9zM329.4 46.2h0.9v0.9h-0.9zM332.7 53.8h0.9v0.9h-0.9zM336.4 52.3h0.9v0.9h-0.9zM328.9 48.5h0.9v0.9h-0.9zM329.3 43.7h0.9v0.9h-0.9zM330.2 52.8h0.9v0.9h-0.9zM334.2 45.5h0.9v0.9h-0.9zM329.4 42.0h0.9v0.9h-0.9zM334.6 44.2h0.9v0.9h-0.9zM326.1 57.7h0.9v0.9h-0.9zM328.8 50.3h0.9v0.9h-0.9zM328.8 56.0h0.9v0.9h-0.9zM332.3 46.1h0.9v0.9h-0.9zM333.2 54.6h0.9v0.9h-0.9zM324.2 45.4h0.9v0.9h-0.9zM326.3 48.1h0.9v0.9h-0.9zM330.7 63.9h0.9v0.9h-0.9zM327.2 53.6h0.9v0.9h-0.9zM324.2 46.0h0.9v0.9h-0.9zM333.1 48.5h0.9v0.9h-0.9zM331.2 51.0h0.9v0.9h-0.9zM331.2 56.3h0.9v0.9h-0.9zM327.8 46.1h0.9v0.9h-0.9zM333.1 38.6h0.9v0.9h-0.9zM328.7 47.3h0.9v0.9h-0.9zM333.3 49.1h0.9v0.9h-0.9zM326.3 49.7h0.9v0.9h-0.9zM326.5 56.9h0.9v0.9h-0.9zM330.2 50.9h0.9v0.9h-0.9zM327.0 53.9h0.9v0.9h-0.9zM331.9 42.4h0.9v0.9h-0.9zM330.4 54.2h0.9v0.9h-0.9zM326.3 61.6h0.9v0.9h-0.9zM329.8 53.6h0.9v0.9h-0.9zM328.3 50.5h0.9v0.9h-0.9zM332.7 49.9h0.9v0.9h-0.9zM327.3 59.7h0.9v0.9h-0.9zM328.0 43.4h0.9v0.9h-0.9zM333.7 48.3h0.9v0.9h-0.9zM337.3 51.8h0.9v0.9h-0.9zM336.5 53.5h0.9v0.9h-0.9zM329.7 46.4h0.9v0.9h-0.9zM330.3 50.8h0.9v0.9h-0.9zM334.9 47.3h0.9v0.9h-0.9zM329.1 49.7h0.9v0.9h-0.9zM326.1 48.2h0.9v0.9h-0.9zM329.9 42.2h0.9v0.9h-0.9zM331.1 48.9h0.9v0.9h-0.9z" fill="#000" fill-opacity="0.55"/>
<path d="M320.9 36.1h0.9v0.9h-0.9zM304.3 42.0h0.9v0.9h-0.9zM310.8 46.1h0.9v0.9h-0.9zM319.0 41.8h0.9v0.9h-0.9zM303.4 40.2h0.9v0.9h-0.9zM314.6 42.1h0.9v0.9h-0.9zM303.5 38.2h0.9v0.9h-0.9zM323.2 43.4h0.9v0.9h-0.9zM333.8 51.5h0.9v0.9h-0.9zM331.2 47.0h0.9v0.9h-0.9zM311.0 39.1h0.9v0.9h-0.9zM319.7 39.9h0.9v0.9h-0.9zM314.1 41.6h0.9v0.9h-0.9zM313.9 46.5h0.9v0.9h-0.9zM326.9 40.1h0.9v0.9h-0.9zM301.1 40.6h0.9v0.9h-0.9zM322.5 46.1h0.9v0.9h-0.9zM312.6 46.0h0.9v0.9h-0.9zM325.7 41.7h0.9v0.9h-0.9zM314.7 39.1h0.9v0.9h-0.9zM306.9 37.6h0.9v0.9h-0.9zM315.5 40.6h0.9v0.9h-0.9zM319.6 35.2h0.9v0.9h-0.9zM313.3 45.6h0.9v0.9h-0.9zM317.4 40.8h0.9v0.9h-0.9zM308.3 44.7h0.9v0.9h-0.9zM293.8 49.5h0.9v0.9h-0.9zM321.1 47.1h0.9v0.9h-0.9zM319.3 39.0h0.9v0.9h-0.9zM314.3 46.0h0.9v0.9h-0.9zM313.6 47.1h0.9v0.9h-0.9zM322.3 40.4h0.9v0.9h-0.9zM308.9 39.7h0.9v0.9h-0.9zM306.6 42.6h0.9v0.9h-0.9zM311.3 37.4h0.9v0.9h-0.9zM323.7 48.1h0.9v0.9h-0.9zM300.5 34.6h0.9v0.9h-0.9zM323.7 39.1h0.9v0.9h-0.9zM307.2 42.1h0.9v0.9h-0.9zM303.1 42.2h0.9v0.9h-0.9zM324.3 43.6h0.9v0.9h-0.9zM312.1 44.0h0.9v0.9h-0.9zM301.3 42.3h0.9v0.9h-0.9zM309.8 47.0h0.9v0.9h-0.9zM321.4 35.5h0.9v0.9h-0.9zM323.7 43.0h0.9v0.9h-0.9zM309.2 40.5h0.9v0.9h-0.9zM316.7 43.5h0.9v0.9h-0.9zM319.4 43.8h0.9v0.9h-0.9zM307.2 39.8h0.9v0.9h-0.9zM316.2 40.8h0.9v0.9h-0.9zM312.7 45.8h0.9v0.9h-0.9zM308.2 44.2h0.9v0.9h-0.9zM308.6 40.6h0.9v0.9h-0.9zM313.6 50.1h0.9v0.9h-0.9zM313.3 51.1h0.9v0.9h-0.9zM307.9 37.9h0.9v0.9h-0.9zM309.2 44.1h0.9v0.9h-0.9zM323.0 51.8h0.9v0.9h-0.9zM314.9 45.7h0.9v0.9h-0.9zM321.0 43.8h0.9v0.9h-0.9zM323.8 42.3h0.9v0.9h-0.9zM318.3 41.1h0.9v0.9h-0.9zM333.4 42.3h0.9v0.9h-0.9zM305.6 41.1h0.9v0.9h-0.9zM320.3 45.6h0.9v0.9h-0.9zM310.1 41.6h0.9v0.9h-0.9zM329.7 41.5h0.9v0.9h-0.9zM328.3 38.8h0.9v0.9h-0.9zM295.4 42.8h0.9v0.9h-0.9zM304.3 39.9h0.9v0.9h-0.9zM319.0 42.4h0.9v0.9h-0.9zM320.1 46.6h0.9v0.9h-0.9zM319.6 44.3h0.9v0.9h-0.9zM312.4 44.8h0.9v0.9h-0.9zM317.1 44.2h0.9v0.9h-0.9zM318.9 43.2h0.9v0.9h-0.9zM312.3 42.6h0.9v0.9h-0.9zM322.2 41.9h0.9v0.9h-0.9zM318.7 39.2h0.9v0.9h-0.9zM303.7 47.7h0.9v0.9h-0.9zM321.6 43.1h0.9v0.9h-0.9zM310.9 40.4h0.9v0.9h-0.9zM305.0 41.3h0.9v0.9h-0.9zM316.4 40.6h0.9v0.9h-0.9zM304.8 43.6h0.9v0.9h-0.9zM304.8 40.5h0.9v0.9h-0.9zM298.9 47.0h0.9v0.9h-0.9zM312.8 40.3h0.9v0.9h-0.9zM317.5 35.0h0.9v0.9h-0.9zM322.2 40.4h0.9v0.9h-0.9zM311.7 36.0h0.9v0.9h-0.9zM322.4 42.9h0.9v0.9h-0.9zM313.2 46.7h0.9v0.9h-0.9zM312.2 45.3h0.9v0.9h-0.9zM318.2 38.3h0.9v0.9h-0.9zM322.5 40.3h0.9v0.9h-0.9zM309.9 49.2h0.9v0.9h-0.9zM310.8 44.1h0.9v0.9h-0.9zM311.6 43.0h0.9v0.9h-0.9zM313.7 46.7h0.9v0.9h-0.9zM304.9 51.6h0.9v0.9h-0.9zM322.3 47.5h0.9v0.9h-0.9zM309.4 43.5h0.9v0.9h-0.9zM317.2 44.2h0.9v0.9h-0.9zM305.6 45.2h0.9v0.9h-0.9zM316.2 40.9h0.9v0.9h-0.9zM316.5 39.3h0.9v0.9h-0.9zM309.2 43.2h0.9v0.9h-0.9zM331.2 39.7h0.9v0.9h-0.9zM316.3 42.8h0.9v0.9h-0.9zM329.0 43.3h0.9v0.9h-0.9zM321.6 51.2h0.9v0.9h-0.9zM307.0 40.0h0.9v0.9h-0.9zM309.6 42.6h0.9v0.9h-0.9zM316.9 42.4h0.9v0.9h-0.9zM313.6 44.5h0.9v0.9h-0.9zM313.4 46.7h0.9v0.9h-0.9zM310.4 41.3h0.9v0.9h-0.9zM296.7 40.1h0.9v0.9h-0.9zM311.0 37.3h0.9v0.9h-0.9zM316.3 44.9h0.9v0.9h-0.9zM306.5 43.2h0.9v0.9h-0.9zM306.6 39.4h0.9v0.9h-0.9zM311.0 41.7h0.9v0.9h-0.9zM315.5 43.1h0.9v0.9h-0.9zM300.1 44.8h0.9v0.9h-0.9zM297.3 40.9h0.9v0.9h-0.9zM303.4 42.1h0.9v0.9h-0.9zM294.6 36.6h0.9v0.9h-0.9zM304.3 39.0h0.9v0.9h-0.9zM327.3 48.7h0.9v0.9h-0.9zM303.5 35.3h0.9v0.9h-0.9zM318.9 41.8h0.9v0.9h-0.9zM300.7 43.8h0.9v0.9h-0.9zM315.7 41.7h0.9v0.9h-0.9zM310.1 40.2h0.9v0.9h-0.9zM312.5 42.8h0.9v0.9h-0.9zM318.1 43.0h0.9v0.9h-0.9zM328.8 42.7h0.9v0.9h-0.9zM314.8 36.4h0.9v0.9h-0.9zM314.1 42.5h0.9v0.9h-0.9zM304.2 40.0h0.9v0.9h-0.9zM318.3 41.1h0.9v0.9h-0.9zM310.8 43.8h0.9v0.9h-0.9zM320.5 45.2h0.9v0.9h-0.9zM312.6 46.1h0.9v0.9h-0.9zM328.7 41.3h0.9v0.9h-0.9z" fill="#000" fill-opacity="0.45"/>
<path d="M333.7 72.6h0.9v0.9h-0.9zM314.3 73.0h0.9v0.9h-0.9zM304.0 70.0h0.9v0.9h-0.9zM329.1 62.8h0.9v0.9h-0.9zM305.5 69.8h0.9v0.9h-0.9zM315.4 57.8h0.9v0.9h-0.9zM339.8 69.9h0.9v0.9h-0.9zM322.4 68.1h0.9v0.9h-0.9zM320.9 69.0h0.9v0.9h-0.9zM337.9 65.4h0.9v0.9h-0.9zM311.4 60.7h0.9v0.9h-0.9zM340.0 71.2h0.9v0.9h-0.9zM336.5 65.7h0.9v0.9h-0.9zM314.6 71.7h0.9v0.9h-0.9zM313.1 63.6h0.9v0.9h-0.9zM305.1 57.8h0.9v0.9h-0.9zM336.6 67.4h0.9v0.9h-0.9zM307.4 69.1h0.9v0.9h-0.9zM300.4 75.4h0.9v0.9h-0.9zM335.6 74.6h0.9v0.9h-0.9zM323.9 57.2h0.9v0.9h-0.9zM326.9 72.2h0.9v0.9h-0.9zM329.3 61.5h0.9v0.9h-0.9zM301.7 70.6h0.9v0.9h-0.9zM303.7 64.0h0.9v0.9h-0.9zM320.0 62.8h0.9v0.9h-0.9zM302.0 66.3h0.9v0.9h-0.9zM320.2 67.1h0.9v0.9h-0.9zM329.5 70.6h0.9v0.9h-0.9zM326.3 69.4h0.9v0.9h-0.9zM324.7 70.2h0.9v0.9h-0.9zM301.9 64.1h0.9v0.9h-0.9zM309.5 70.2h0.9v0.9h-0.9zM335.9 63.3h0.9v0.9h-0.9zM304.9 68.8h0.9v0.9h-0.9zM321.3 65.7h0.9v0.9h-0.9zM302.0 67.8h0.9v0.9h-0.9zM337.6 56.4h0.9v0.9h-0.9zM306.9 66.5h0.9v0.9h-0.9zM316.4 60.6h0.9v0.9h-0.9zM321.9 64.1h0.9v0.9h-0.9zM328.7 57.5h0.9v0.9h-0.9zM337.5 69.8h0.9v0.9h-0.9zM329.5 74.8h0.9v0.9h-0.9zM313.9 63.4h0.9v0.9h-0.9zM303.0 58.2h0.9v0.9h-0.9zM328.3 69.0h0.9v0.9h-0.9zM338.9 58.7h0.9v0.9h-0.9zM300.7 74.7h0.9v0.9h-0.9zM331.0 58.6h0.9v0.9h-0.9zM307.0 63.6h0.9v0.9h-0.9zM318.4 66.4h0.9v0.9h-0.9zM320.9 58.5h0.9v0.9h-0.9zM324.6 62.7h0.9v0.9h-0.9zM339.6 61.8h0.9v0.9h-0.9zM327.5 71.0h0.9v0.9h-0.9zM328.6 63.6h0.9v0.9h-0.9zM318.7 72.6h0.9v0.9h-0.9zM316.5 58.9h0.9v0.9h-0.9zM314.6 68.2h0.9v0.9h-0.9zM319.7 65.1h0.9v0.9h-0.9zM311.2 62.1h0.9v0.9h-0.9zM309.7 73.3h0.9v0.9h-0.9zM305.9 71.7h0.9v0.9h-0.9zM317.6 58.8h0.9v0.9h-0.9zM311.7 62.1h0.9v0.9h-0.9zM333.5 73.2h0.9v0.9h-0.9zM313.8 68.8h0.9v0.9h-0.9zM324.8 74.3h0.9v0.9h-0.9zM314.4 71.6h0.9v0.9h-0.9zM322.2 69.5h0.9v0.9h-0.9zM317.7 60.6h0.9v0.9h-0.9zM326.0 63.8h0.9v0.9h-0.9zM338.4 69.1h0.9v0.9h-0.9zM305.5 75.5h0.9v0.9h-0.9zM338.6 62.3h0.9v0.9h-0.9zM326.6 64.3h0.9v0.9h-0.9zM331.8 56.5h0.9v0.9h-0.9zM325.4 70.6h0.9v0.9h-0.9zM334.8 65.3h0.9v0.9h-0.9zM313.0 72.8h0.9v0.9h-0.9zM328.3 60.9h0.9v0.9h-0.9zM310.6 69.9h0.9v0.9h-0.9zM320.3 70.1h0.9v0.9h-0.9zM327.3 65.8h0.9v0.9h-0.9zM308.0 60.0h0.9v0.9h-0.9zM302.4 64.5h0.9v0.9h-0.9z" fill="#000" fill-opacity="0.4"/>
<path d="M322.0 62.9h0.9v0.9h-0.9zM313.5 63.1h0.9v0.9h-0.9zM322.4 70.5h0.9v0.9h-0.9zM322.0 69.9h0.9v0.9h-0.9zM305.5 62.5h0.9v0.9h-0.9zM315.8 60.6h0.9v0.9h-0.9zM320.9 67.7h0.9v0.9h-0.9zM314.0 65.4h0.9v0.9h-0.9zM303.0 72.2h0.9v0.9h-0.9zM323.3 71.1h0.9v0.9h-0.9zM329.1 65.8h0.9v0.9h-0.9zM302.7 65.0h0.9v0.9h-0.9zM336.3 60.9h0.9v0.9h-0.9zM310.1 60.6h0.9v0.9h-0.9zM324.7 60.0h0.9v0.9h-0.9zM326.6 63.6h0.9v0.9h-0.9zM324.9 63.4h0.9v0.9h-0.9zM319.0 70.5h0.9v0.9h-0.9zM309.9 63.6h0.9v0.9h-0.9zM322.4 64.8h0.9v0.9h-0.9zM313.0 58.7h0.9v0.9h-0.9zM337.8 69.0h0.9v0.9h-0.9zM330.7 70.8h0.9v0.9h-0.9zM311.6 74.9h0.9v0.9h-0.9zM328.3 64.5h0.9v0.9h-0.9zM329.1 70.3h0.9v0.9h-0.9zM317.9 58.7h0.9v0.9h-0.9zM309.6 73.1h0.9v0.9h-0.9zM302.6 68.5h0.9v0.9h-0.9zM306.1 70.6h0.9v0.9h-0.9zM318.6 73.7h0.9v0.9h-0.9zM311.1 62.0h0.9v0.9h-0.9zM316.8 68.5h0.9v0.9h-0.9zM317.2 60.7h0.9v0.9h-0.9zM331.5 61.9h0.9v0.9h-0.9zM327.1 62.2h0.9v0.9h-0.9zM317.7 65.1h0.9v0.9h-0.9zM326.5 66.9h0.9v0.9h-0.9zM312.5 68.8h0.9v0.9h-0.9zM315.6 57.3h0.9v0.9h-0.9zM309.3 73.1h0.9v0.9h-0.9zM316.0 70.5h0.9v0.9h-0.9zM308.8 63.8h0.9v0.9h-0.9zM318.8 65.5h0.9v0.9h-0.9zM329.4 69.4h0.9v0.9h-0.9zM312.7 68.5h0.9v0.9h-0.9zM319.6 55.7h0.9v0.9h-0.9zM311.7 70.6h0.9v0.9h-0.9zM309.3 54.6h0.9v0.9h-0.9zM328.2 72.1h0.9v0.9h-0.9zM334.5 68.3h0.9v0.9h-0.9zM321.4 65.3h0.9v0.9h-0.9zM313.0 74.4h0.9v0.9h-0.9zM322.9 58.7h0.9v0.9h-0.9zM315.7 67.0h0.9v0.9h-0.9zM323.6 75.0h0.9v0.9h-0.9zM320.0 64.8h0.9v0.9h-0.9zM320.0 63.4h0.9v0.9h-0.9zM322.3 66.7h0.9v0.9h-0.9zM313.9 63.3h0.9v0.9h-0.9zM315.2 75.5h0.9v0.9h-0.9zM306.0 60.4h0.9v0.9h-0.9zM314.9 71.4h0.9v0.9h-0.9zM308.0 58.3h0.9v0.9h-0.9zM317.0 70.1h0.9v0.9h-0.9zM311.3 65.4h0.9v0.9h-0.9zM318.7 50.1h0.9v0.9h-0.9zM321.2 66.0h0.9v0.9h-0.9zM308.1 59.4h0.9v0.9h-0.9zM312.3 63.3h0.9v0.9h-0.9zM311.4 75.5h0.9v0.9h-0.9zM323.2 59.1h0.9v0.9h-0.9zM329.9 59.5h0.9v0.9h-0.9zM324.0 74.9h0.9v0.9h-0.9zM315.6 66.7h0.9v0.9h-0.9zM328.3 75.5h0.9v0.9h-0.9zM307.4 68.0h0.9v0.9h-0.9zM328.5 60.6h0.9v0.9h-0.9zM313.4 65.6h0.9v0.9h-0.9zM298.5 73.6h0.9v0.9h-0.9zM336.6 71.8h0.9v0.9h-0.9zM329.0 66.0h0.9v0.9h-0.9zM310.8 66.3h0.9v0.9h-0.9zM319.2 65.3h0.9v0.9h-0.9zM316.5 62.4h0.9v0.9h-0.9zM307.6 66.0h0.9v0.9h-0.9zM313.2 59.0h0.9v0.9h-0.9zM321.3 63.1h0.9v0.9h-0.9zM319.6 70.5h0.9v0.9h-0.9zM326.4 70.0h0.9v0.9h-0.9zM318.6 65.2h0.9v0.9h-0.9zM334.4 61.9h0.9v0.9h-0.9zM313.0 66.1h0.9v0.9h-0.9zM319.8 55.7h0.9v0.9h-0.9zM304.6 58.0h0.9v0.9h-0.9zM309.2 70.9h0.9v0.9h-0.9zM327.3 63.0h0.9v0.9h-0.9zM311.4 68.3h0.9v0.9h-0.9zM321.7 73.5h0.9v0.9h-0.9zM317.6 70.0h0.9v0.9h-0.9zM310.7 66.1h0.9v0.9h-0.9z" fill="#000" fill-opacity="0.4"/>
<path d="M293 66.8 C295.8 63.4 299.8 61.6 303.8 61.8 C306.8 62.0 309.0 63.6 309.6 66.2 L310 77 L293 77 Z" fill="#111"/>
<path d="M294.6 77 L294.6 70.4 C296.4 67.4 299.6 65.6 303.4 65.6 C305.8 65.8 307.4 67.2 307.6 69.6 L307.6 77" fill="none" stroke="#999" stroke-width="1.0"/>
<ellipse cx="301.6" cy="72.6" rx="2.2" ry="3" fill="#666"/>
<path d="M293.4 35.8 L297.8 34.3 L311.2 34.3 L323.7 36.7 L336.3 37.7 L336.5 61.2 L328 61.2 L323.8 55.0 L295.5 54.6 L293.4 53.5" fill="none" stroke="#111" stroke-width="1.3"/>
<path d="M394.8 51.8h0.9v0.9h-0.9zM389.4 45.8h0.9v0.9h-0.9zM391.4 46.4h0.9v0.9h-0.9zM370.0 46.3h0.9v0.9h-0.9zM390.6 45.6h0.9v0.9h-0.9zM373.7 44.7h0.9v0.9h-0.9zM373.8 40.1h0.9v0.9h-0.9zM368.6 42.6h0.9v0.9h-0.9zM379.1 42.0h0.9v0.9h-0.9zM364.8 41.7h0.9v0.9h-0.9zM389.0 51.9h0.9v0.9h-0.9zM392.4 39.2h0.9v0.9h-0.9zM393.5 40.9h0.9v0.9h-0.9zM368.9 47.0h0.9v0.9h-0.9zM388.4 42.9h0.9v0.9h-0.9zM395.9 41.6h0.9v0.9h-0.9zM365.4 44.1h0.9v0.9h-0.9zM371.3 46.5h0.9v0.9h-0.9zM374.2 49.8h0.9v0.9h-0.9zM381.6 55.5h0.9v0.9h-0.9zM370.5 53.2h0.9v0.9h-0.9zM384.5 45.2h0.9v0.9h-0.9zM377.1 45.6h0.9v0.9h-0.9zM388.9 44.9h0.9v0.9h-0.9zM384.2 41.5h0.9v0.9h-0.9zM390.1 55.1h0.9v0.9h-0.9zM373.4 38.3h0.9v0.9h-0.9zM390.9 40.9h0.9v0.9h-0.9zM391.9 49.6h0.9v0.9h-0.9zM391.4 48.2h0.9v0.9h-0.9zM366.6 42.3h0.9v0.9h-0.9zM400.0 54.8h0.9v0.9h-0.9zM385.9 44.8h0.9v0.9h-0.9zM374.3 48.3h0.9v0.9h-0.9zM380.5 38.7h0.9v0.9h-0.9zM383.7 53.9h0.9v0.9h-0.9zM383.7 39.0h0.9v0.9h-0.9zM373.4 44.5h0.9v0.9h-0.9zM374.1 53.8h0.9v0.9h-0.9zM377.8 55.0h0.9v0.9h-0.9zM393.7 54.2h0.9v0.9h-0.9zM380.6 52.7h0.9v0.9h-0.9zM365.5 41.4h0.9v0.9h-0.9zM381.2 37.6h0.9v0.9h-0.9zM371.7 45.6h0.9v0.9h-0.9zM364.5 38.2h0.9v0.9h-0.9zM401.1 55.3h0.9v0.9h-0.9zM375.2 37.2h0.9v0.9h-0.9zM384.4 43.2h0.9v0.9h-0.9zM377.6 40.9h0.9v0.9h-0.9zM366.0 37.3h0.9v0.9h-0.9zM398.2 46.5h0.9v0.9h-0.9zM399.6 38.4h0.9v0.9h-0.9zM371.1 54.1h0.9v0.9h-0.9zM379.9 50.1h0.9v0.9h-0.9zM378.2 44.0h0.9v0.9h-0.9zM370.4 53.0h0.9v0.9h-0.9zM389.1 52.1h0.9v0.9h-0.9zM393.7 43.2h0.9v0.9h-0.9zM392.9 53.1h0.9v0.9h-0.9zM389.7 54.7h0.9v0.9h-0.9zM364.7 48.8h0.9v0.9h-0.9zM372.7 43.7h0.9v0.9h-0.9zM383.6 54.1h0.9v0.9h-0.9zM390.7 54.9h0.9v0.9h-0.9zM378.7 43.6h0.9v0.9h-0.9zM381.1 38.6h0.9v0.9h-0.9zM395.9 53.5h0.9v0.9h-0.9zM364.9 49.6h0.9v0.9h-0.9zM374.2 41.4h0.9v0.9h-0.9zM375.0 47.8h0.9v0.9h-0.9zM401.7 42.9h0.9v0.9h-0.9zM372.6 54.5h0.9v0.9h-0.9zM365.8 43.5h0.9v0.9h-0.9zM379.8 40.7h0.9v0.9h-0.9zM388.7 37.8h0.9v0.9h-0.9zM369.8 43.5h0.9v0.9h-0.9zM395.9 55.8h0.9v0.9h-0.9zM371.5 41.1h0.9v0.9h-0.9zM390.8 45.7h0.9v0.9h-0.9zM370.1 55.5h0.9v0.9h-0.9zM397.5 37.1h0.9v0.9h-0.9zM371.7 42.6h0.9v0.9h-0.9zM391.8 52.6h0.9v0.9h-0.9zM395.9 38.8h0.9v0.9h-0.9zM373.7 54.6h0.9v0.9h-0.9zM367.5 52.9h0.9v0.9h-0.9zM386.3 39.7h0.9v0.9h-0.9zM383.0 48.3h0.9v0.9h-0.9zM382.2 47.6h0.9v0.9h-0.9z" fill="#000" fill-opacity="0.35"/>
<path d="M375.8 41.7h0.9v0.9h-0.9zM390.1 38.2h0.9v0.9h-0.9zM383.1 39.1h0.9v0.9h-0.9zM373.2 46.8h0.9v0.9h-0.9zM379.0 40.2h0.9v0.9h-0.9zM376.0 45.3h0.9v0.9h-0.9zM384.4 50.3h0.9v0.9h-0.9zM382.9 50.2h0.9v0.9h-0.9zM391.2 52.8h0.9v0.9h-0.9zM387.7 43.5h0.9v0.9h-0.9zM369.5 39.6h0.9v0.9h-0.9zM385.3 50.1h0.9v0.9h-0.9zM389.2 46.5h0.9v0.9h-0.9zM385.6 50.6h0.9v0.9h-0.9zM390.2 45.1h0.9v0.9h-0.9zM377.6 51.0h0.9v0.9h-0.9zM374.4 49.2h0.9v0.9h-0.9zM389.4 48.6h0.9v0.9h-0.9zM373.5 47.5h0.9v0.9h-0.9zM364.7 47.0h0.9v0.9h-0.9zM390.2 46.2h0.9v0.9h-0.9zM376.2 46.1h0.9v0.9h-0.9zM379.6 50.0h0.9v0.9h-0.9zM370.8 42.4h0.9v0.9h-0.9zM371.4 53.7h0.9v0.9h-0.9zM372.7 44.5h0.9v0.9h-0.9zM379.1 49.9h0.9v0.9h-0.9zM385.0 44.5h0.9v0.9h-0.9zM363.6 43.8h0.9v0.9h-0.9zM388.0 55.2h0.9v0.9h-0.9zM372.5 43.5h0.9v0.9h-0.9zM373.5 38.6h0.9v0.9h-0.9zM387.4 41.4h0.9v0.9h-0.9zM381.4 43.4h0.9v0.9h-0.9zM369.7 55.8h0.9v0.9h-0.9zM396.8 46.0h0.9v0.9h-0.9zM375.1 49.7h0.9v0.9h-0.9zM384.0 40.0h0.9v0.9h-0.9zM383.6 46.8h0.9v0.9h-0.9zM393.3 48.4h0.9v0.9h-0.9zM378.4 54.0h0.9v0.9h-0.9zM390.1 41.5h0.9v0.9h-0.9zM376.1 48.0h0.9v0.9h-0.9zM391.0 46.5h0.9v0.9h-0.9zM375.9 39.9h0.9v0.9h-0.9zM379.1 44.9h0.9v0.9h-0.9zM397.2 43.7h0.9v0.9h-0.9zM384.5 33.4h0.9v0.9h-0.9zM382.9 48.0h0.9v0.9h-0.9zM399.9 47.7h0.9v0.9h-0.9zM384.9 42.8h0.9v0.9h-0.9zM375.5 38.3h0.9v0.9h-0.9zM387.9 52.4h0.9v0.9h-0.9zM372.5 46.3h0.9v0.9h-0.9zM391.0 50.1h0.9v0.9h-0.9zM391.6 52.1h0.9v0.9h-0.9zM377.4 42.4h0.9v0.9h-0.9zM377.0 49.1h0.9v0.9h-0.9zM383.4 43.8h0.9v0.9h-0.9zM382.1 44.7h0.9v0.9h-0.9zM374.2 44.6h0.9v0.9h-0.9zM386.5 45.0h0.9v0.9h-0.9zM365.7 50.6h0.9v0.9h-0.9zM378.5 45.6h0.9v0.9h-0.9zM378.8 44.2h0.9v0.9h-0.9zM379.8 43.6h0.9v0.9h-0.9zM384.5 46.7h0.9v0.9h-0.9zM372.2 40.5h0.9v0.9h-0.9zM386.7 42.5h0.9v0.9h-0.9zM380.6 44.7h0.9v0.9h-0.9z" fill="#000" fill-opacity="0.35"/>
<path d="M369.6 64.6h0.9v0.9h-0.9zM397.2 75.5h0.9v0.9h-0.9zM376.1 68.9h0.9v0.9h-0.9zM388.9 67.9h0.9v0.9h-0.9zM384.9 73.4h0.9v0.9h-0.9zM368.7 69.5h0.9v0.9h-0.9zM396.7 70.5h0.9v0.9h-0.9zM396.1 60.2h0.9v0.9h-0.9zM368.7 69.1h0.9v0.9h-0.9zM373.9 64.1h0.9v0.9h-0.9zM398.8 58.5h0.9v0.9h-0.9zM404.0 59.7h0.9v0.9h-0.9zM402.0 66.6h0.9v0.9h-0.9zM385.1 62.3h0.9v0.9h-0.9zM378.9 72.3h0.9v0.9h-0.9zM382.5 59.4h0.9v0.9h-0.9zM370.1 57.3h0.9v0.9h-0.9zM372.6 63.3h0.9v0.9h-0.9zM369.4 67.2h0.9v0.9h-0.9zM379.5 61.2h0.9v0.9h-0.9zM364.9 61.2h0.9v0.9h-0.9zM383.6 65.0h0.9v0.9h-0.9zM394.0 72.8h0.9v0.9h-0.9zM392.0 57.8h0.9v0.9h-0.9zM406.9 73.7h0.9v0.9h-0.9zM391.2 68.2h0.9v0.9h-0.9zM403.3 64.2h0.9v0.9h-0.9zM382.4 61.7h0.9v0.9h-0.9zM398.7 60.7h0.9v0.9h-0.9zM375.1 63.5h0.9v0.9h-0.9zM386.2 74.0h0.9v0.9h-0.9zM407.1 57.1h0.9v0.9h-0.9zM389.5 72.7h0.9v0.9h-0.9zM385.3 70.3h0.9v0.9h-0.9zM398.2 57.4h0.9v0.9h-0.9zM376.4 58.4h0.9v0.9h-0.9zM400.2 71.7h0.9v0.9h-0.9zM362.9 70.5h0.9v0.9h-0.9zM373.0 63.3h0.9v0.9h-0.9zM370.2 74.2h0.9v0.9h-0.9zM373.8 61.2h0.9v0.9h-0.9zM405.5 65.5h0.9v0.9h-0.9zM363.1 59.3h0.9v0.9h-0.9zM375.7 69.9h0.9v0.9h-0.9zM388.4 58.7h0.9v0.9h-0.9zM394.3 60.6h0.9v0.9h-0.9zM397.6 72.3h0.9v0.9h-0.9zM379.6 67.0h0.9v0.9h-0.9zM372.1 70.2h0.9v0.9h-0.9zM401.2 71.7h0.9v0.9h-0.9zM367.6 69.1h0.9v0.9h-0.9zM365.0 61.0h0.9v0.9h-0.9zM372.7 71.0h0.9v0.9h-0.9zM384.7 59.3h0.9v0.9h-0.9zM405.3 62.4h0.9v0.9h-0.9zM395.5 66.0h0.9v0.9h-0.9zM387.9 59.3h0.9v0.9h-0.9zM386.0 59.1h0.9v0.9h-0.9zM393.9 70.0h0.9v0.9h-0.9zM390.8 71.8h0.9v0.9h-0.9zM377.5 64.4h0.9v0.9h-0.9zM366.3 64.8h0.9v0.9h-0.9zM371.2 61.2h0.9v0.9h-0.9zM398.0 67.4h0.9v0.9h-0.9zM391.2 68.6h0.9v0.9h-0.9zM398.7 75.7h0.9v0.9h-0.9zM364.0 57.8h0.9v0.9h-0.9zM403.4 75.2h0.9v0.9h-0.9z" fill="#000" fill-opacity="0.35"/>
<path d="M376 42 C382 38 390 41 396 46 M378 47 C384 44 390 47 394 51 M374 50 C380 52 386 50 390 54" fill="none" stroke="#bbb" stroke-width="0.6"/>
<ellipse cx="368.8" cy="43.2" rx="9.5" ry="9.5" fill="url(#gh)"/>
<circle cx="368.8" cy="43.2" r="3.6" fill="none" stroke="#111" stroke-width="3.2"/>
<circle cx="369" cy="43.2" r="1.3" fill="#888"/>
<path d="M362 58 L368 62 L376 57 L378 64 L370 60 L362 64 Z" fill="#000" fill-opacity="0.12"/>
<ellipse cx="368.6" cy="69.6" rx="10" ry="9.5" fill="url(#gh)"/>
<circle cx="368.6" cy="69.6" r="4.0" fill="none" stroke="#111" stroke-width="3.6"/>
<circle cx="368.6" cy="69.8" r="1.4" fill="#999"/>
<path d="M362 35.8 L378.1 34.7 L391.6 37.2 L404.3 38.8 L404.7 62.3 L396.9 62.3 L391.6 56.2 L362 54.9" fill="none" stroke="#111" stroke-width="1.3"/>
<rect x="292.8" y="26.5" width="50.2" height="50.7" fill="none" stroke="#000" stroke-width="1.2"/>
<rect x="360.8" y="26.5" width="49.6" height="50.7" fill="none" stroke="#000" stroke-width="1.2"/>
<text id="t_v02" x="330.20" y="36.26" font-size="8.32" text-anchor="middle">0.2</text>
<text id="t_v28" x="396.77" y="35.38" font-size="9.13" text-anchor="middle">28</text>
<text id="t_thy" x="286.56" y="57.22" font-size="8.40" text-anchor="middle" transform="rotate(-90 286.56 57.22)">Thy1.1</text>
<line x1="296.20" y1="85.40" x2="372.00" y2="85.40" stroke="#000" stroke-width="1.5"/>
<path d="M370.5 82.2 L377.6 85.4 L370.5 88.6 Z" fill="#000"/>
<text id="t_cfse1" x="381.47" y="88.22" font-size="9.38" text-anchor="start">CFSE</text>
<line x1="463.70" y1="85.00" x2="463.70" y2="20.80" stroke="#000" stroke-width="1.6"/>
<line x1="462.10" y1="78.10" x2="463.70" y2="78.10" stroke="#000" stroke-width="0.9"/>
<line x1="462.10" y1="65.50" x2="463.70" y2="65.50" stroke="#000" stroke-width="0.9"/>
<line x1="462.10" y1="52.90" x2="463.70" y2="52.90" stroke="#000" stroke-width="0.9"/>
<line x1="462.10" y1="40.30" x2="463.70" y2="40.30" stroke="#000" stroke-width="0.9"/>
<line x1="462.10" y1="27.70" x2="463.70" y2="27.70" stroke="#000" stroke-width="0.9"/>
<line x1="460.30" y1="84.40" x2="463.70" y2="84.40" stroke="#000" stroke-width="1.1"/>
<text x="457.30" y="88.27" font-size="9.4" text-anchor="end">0</text>
<line x1="460.30" y1="71.80" x2="463.70" y2="71.80" stroke="#000" stroke-width="1.1"/>
<text x="457.30" y="75.67" font-size="9.4" text-anchor="end">2</text>
<line x1="460.30" y1="59.20" x2="463.70" y2="59.20" stroke="#000" stroke-width="1.1"/>
<text x="457.30" y="63.07" font-size="9.4" text-anchor="end">4</text>
<line x1="460.30" y1="46.60" x2="463.70" y2="46.60" stroke="#000" stroke-width="1.1"/>
<text x="457.30" y="50.47" font-size="9.4" text-anchor="end">6</text>
<line x1="460.30" y1="34.00" x2="463.70" y2="34.00" stroke="#000" stroke-width="1.1"/>
<text x="457.30" y="37.87" font-size="9.4" text-anchor="end">8</text>
<line x1="460.30" y1="21.40" x2="463.70" y2="21.40" stroke="#000" stroke-width="1.1"/>
<text x="457.30" y="25.27" font-size="9.4" text-anchor="end">10</text>
<line x1="463.10" y1="84.40" x2="503.40" y2="84.40" stroke="#000" stroke-width="1.6"/>
<line x1="474.00" y1="84.40" x2="474.00" y2="87.20" stroke="#000" stroke-width="1"/>
<rect x="467.60" y="83.46" width="12.80" height="0.94" fill="#fff" stroke="#000" stroke-width="1.2"/>
<line x1="474.00" y1="83.60" x2="474.00" y2="83.14" stroke="#000" stroke-width="1.4"/>
<line x1="470.40" y1="83.14" x2="477.60" y2="83.14" stroke="#000" stroke-width="1.5"/>
<line x1="494.20" y1="84.40" x2="494.20" y2="87.20" stroke="#000" stroke-width="1"/>
<rect x="487.60" y="39.67" width="13.20" height="44.73" fill="#111" stroke="#000" stroke-width="1.2"/>
<line x1="494.20" y1="50.07" x2="494.20" y2="29.27" stroke="#000" stroke-width="1.4"/>
<line x1="490.60" y1="29.27" x2="497.80" y2="29.27" stroke="#000" stroke-width="1.5"/>
<line x1="490.60" y1="50.07" x2="497.80" y2="50.07" stroke="#000" stroke-width="1.3"/>
<line x1="473.50" y1="22.90" x2="495.30" y2="22.90" stroke="#000" stroke-width="1.6"/>
<path d="M478.30 16.15L478.30 21.05M476.18 17.37L480.42 19.82M476.18 19.82L480.42 17.37M484.40 16.15L484.40 21.05M482.28 17.37L486.52 19.82M482.28 19.82L486.52 17.37M490.50 16.15L490.50 21.05M488.38 17.37L492.62 19.82M488.38 19.82L492.62 17.37" stroke="#333" stroke-width="1.35" fill="none"/>
<text id="t_cellno" x="443.61" y="51.78" font-size="9.12" text-anchor="middle" transform="rotate(-90 443.61 51.78)">Cell number (M)</text>
<text id="t_gdon" x="301.39" y="103.84" font-size="10.19" text-anchor="start">Gated on donor cells</text>
<line x1="301.20" y1="105.00" x2="403.00" y2="105.00" stroke="#000" stroke-width="1.0"/>
<text id="t_r2a" x="317.96" y="116.17" font-size="8.85" text-anchor="middle">CD4 only</text>
<text id="t_r2b" x="385.92" y="115.03" font-size="8.88" text-anchor="middle">Cy/CD4</text>
<path d="M321.7 157.6h0.9v0.9h-0.9zM303.7 156.4h0.9v0.9h-0.9zM314.3 152.9h0.9v0.9h-0.9zM317.1 154.2h0.9v0.9h-0.9zM312.2 149.3h0.9v0.9h-0.9zM302.1 157.3h0.9v0.9h-0.9zM311.4 153.7h0.9v0.9h-0.9zM318.6 156.7h0.9v0.9h-0.9zM297.0 149.5h0.9v0.9h-0.9zM307.4 157.8h0.9v0.9h-0.9zM294.6 147.3h0.9v0.9h-0.9zM317.7 152.4h0.9v0.9h-0.9zM315.8 147.3h0.9v0.9h-0.9zM295.3 148.3h0.9v0.9h-0.9zM314.9 155.2h0.9v0.9h-0.9zM313.4 146.8h0.9v0.9h-0.9zM297.5 150.6h0.9v0.9h-0.9zM308.7 148.3h0.9v0.9h-0.9zM313.3 156.2h0.9v0.9h-0.9zM303.4 147.0h0.9v0.9h-0.9zM308.1 150.0h0.9v0.9h-0.9zM321.3 156.3h0.9v0.9h-0.9zM311.8 154.2h0.9v0.9h-0.9zM308.1 154.4h0.9v0.9h-0.9zM295.8 157.9h0.9v0.9h-0.9zM297.4 146.3h0.9v0.9h-0.9zM317.8 154.0h0.9v0.9h-0.9zM314.8 154.9h0.9v0.9h-0.9zM317.4 155.0h0.9v0.9h-0.9zM310.2 154.6h0.9v0.9h-0.9zM310.1 146.9h0.9v0.9h-0.9zM308.9 147.0h0.9v0.9h-0.9zM314.6 155.3h0.9v0.9h-0.9zM303.2 153.3h0.9v0.9h-0.9zM307.9 149.2h0.9v0.9h-0.9zM307.2 146.1h0.9v0.9h-0.9zM312.5 152.4h0.9v0.9h-0.9zM300.1 147.1h0.9v0.9h-0.9zM294.7 155.0h0.9v0.9h-0.9zM296.5 150.1h0.9v0.9h-0.9zM299.0 155.7h0.9v0.9h-0.9zM318.0 147.1h0.9v0.9h-0.9zM314.1 151.9h0.9v0.9h-0.9zM315.0 147.2h0.9v0.9h-0.9zM306.4 155.4h0.9v0.9h-0.9zM296.9 152.7h0.9v0.9h-0.9zM307.0 148.8h0.9v0.9h-0.9zM318.2 157.6h0.9v0.9h-0.9zM308.3 154.2h0.9v0.9h-0.9zM311.7 150.0h0.9v0.9h-0.9zM304.5 156.3h0.9v0.9h-0.9zM298.2 150.6h0.9v0.9h-0.9zM311.5 157.3h0.9v0.9h-0.9zM307.6 149.6h0.9v0.9h-0.9zM303.7 157.8h0.9v0.9h-0.9zM301.2 146.7h0.9v0.9h-0.9zM313.5 154.8h0.9v0.9h-0.9zM302.9 149.5h0.9v0.9h-0.9zM310.1 151.1h0.9v0.9h-0.9zM301.3 153.6h0.9v0.9h-0.9zM315.1 146.5h0.9v0.9h-0.9zM304.5 148.7h0.9v0.9h-0.9zM307.4 147.2h0.9v0.9h-0.9zM320.0 154.9h0.9v0.9h-0.9zM314.1 148.7h0.9v0.9h-0.9zM314.6 152.0h0.9v0.9h-0.9zM303.5 149.9h0.9v0.9h-0.9zM317.5 148.8h0.9v0.9h-0.9zM304.8 157.2h0.9v0.9h-0.9zM321.7 152.1h0.9v0.9h-0.9zM319.1 153.8h0.9v0.9h-0.9zM312.5 154.5h0.9v0.9h-0.9zM317.3 155.9h0.9v0.9h-0.9zM309.2 149.2h0.9v0.9h-0.9zM314.5 146.9h0.9v0.9h-0.9zM297.5 151.6h0.9v0.9h-0.9zM321.7 148.0h0.9v0.9h-0.9zM316.4 146.2h0.9v0.9h-0.9zM298.0 157.0h0.9v0.9h-0.9zM300.8 153.5h0.9v0.9h-0.9zM310.1 151.0h0.9v0.9h-0.9zM315.4 147.6h0.9v0.9h-0.9zM298.2 155.1h0.9v0.9h-0.9zM320.9 152.4h0.9v0.9h-0.9zM303.7 148.1h0.9v0.9h-0.9zM321.9 157.8h0.9v0.9h-0.9zM315.1 157.4h0.9v0.9h-0.9zM307.6 157.1h0.9v0.9h-0.9zM304.2 155.9h0.9v0.9h-0.9zM296.7 152.4h0.9v0.9h-0.9zM296.5 149.6h0.9v0.9h-0.9zM311.6 153.8h0.9v0.9h-0.9zM315.7 147.8h0.9v0.9h-0.9zM319.4 153.4h0.9v0.9h-0.9zM304.2 146.8h0.9v0.9h-0.9zM320.3 146.2h0.9v0.9h-0.9zM302.3 154.6h0.9v0.9h-0.9zM320.3 150.1h0.9v0.9h-0.9zM319.7 154.4h0.9v0.9h-0.9zM298.3 155.4h0.9v0.9h-0.9zM318.1 156.0h0.9v0.9h-0.9zM313.7 153.4h0.9v0.9h-0.9zM313.7 156.2h0.9v0.9h-0.9zM317.5 153.9h0.9v0.9h-0.9zM309.0 157.1h0.9v0.9h-0.9zM308.2 156.8h0.9v0.9h-0.9zM304.3 146.5h0.9v0.9h-0.9zM318.2 149.2h0.9v0.9h-0.9zM319.2 150.7h0.9v0.9h-0.9zM298.5 149.0h0.9v0.9h-0.9zM315.6 148.1h0.9v0.9h-0.9zM301.7 156.5h0.9v0.9h-0.9zM299.1 146.3h0.9v0.9h-0.9zM299.5 148.2h0.9v0.9h-0.9zM310.1 155.1h0.9v0.9h-0.9zM301.8 148.7h0.9v0.9h-0.9zM300.8 149.1h0.9v0.9h-0.9zM296.8 157.6h0.9v0.9h-0.9zM303.1 155.2h0.9v0.9h-0.9zM315.7 151.4h0.9v0.9h-0.9zM294.6 147.6h0.9v0.9h-0.9zM307.5 149.2h0.9v0.9h-0.9zM310.9 157.8h0.9v0.9h-0.9zM295.4 155.5h0.9v0.9h-0.9zM302.2 146.8h0.9v0.9h-0.9zM319.4 154.5h0.9v0.9h-0.9zM321.8 150.5h0.9v0.9h-0.9zM317.8 154.6h0.9v0.9h-0.9zM298.8 149.5h0.9v0.9h-0.9zM315.4 147.6h0.9v0.9h-0.9zM306.6 146.2h0.9v0.9h-0.9zM298.8 149.5h0.9v0.9h-0.9zM307.5 156.3h0.9v0.9h-0.9zM319.8 156.7h0.9v0.9h-0.9zM318.6 154.2h0.9v0.9h-0.9zM305.0 155.0h0.9v0.9h-0.9zM295.8 148.3h0.9v0.9h-0.9zM319.2 150.3h0.9v0.9h-0.9zM321.6 156.8h0.9v0.9h-0.9zM308.3 157.8h0.9v0.9h-0.9zM300.3 151.3h0.9v0.9h-0.9zM309.2 155.3h0.9v0.9h-0.9zM313.5 157.2h0.9v0.9h-0.9zM307.5 158.0h0.9v0.9h-0.9zM303.9 149.5h0.9v0.9h-0.9zM300.9 153.8h0.9v0.9h-0.9zM302.3 150.7h0.9v0.9h-0.9zM295.4 151.6h0.9v0.9h-0.9zM301.1 151.5h0.9v0.9h-0.9zM320.7 149.3h0.9v0.9h-0.9zM294.2 146.2h0.9v0.9h-0.9zM314.4 155.2h0.9v0.9h-0.9zM316.1 154.4h0.9v0.9h-0.9zM305.3 156.1h0.9v0.9h-0.9zM310.7 147.8h0.9v0.9h-0.9zM300.2 148.8h0.9v0.9h-0.9zM312.7 153.2h0.9v0.9h-0.9zM313.8 157.2h0.9v0.9h-0.9zM314.6 151.7h0.9v0.9h-0.9zM307.8 148.4h0.9v0.9h-0.9z" fill="#000" fill-opacity="0.35"/>
<path d="M329.4 161.0h0.9v0.9h-0.9zM326.1 167.1h0.9v0.9h-0.9zM327.3 161.1h0.9v0.9h-0.9zM309.2 159.9h0.9v0.9h-0.9zM303.7 159.0h0.9v0.9h-0.9zM326.2 158.1h0.9v0.9h-0.9zM323.2 161.3h0.9v0.9h-0.9zM325.5 157.3h0.9v0.9h-0.9zM308.5 167.0h0.9v0.9h-0.9zM302.9 156.4h0.9v0.9h-0.9zM326.2 155.8h0.9v0.9h-0.9zM328.0 155.1h0.9v0.9h-0.9zM326.4 156.1h0.9v0.9h-0.9zM308.1 164.9h0.9v0.9h-0.9zM310.6 159.4h0.9v0.9h-0.9zM315.0 157.9h0.9v0.9h-0.9zM302.2 158.6h0.9v0.9h-0.9zM303.9 165.0h0.9v0.9h-0.9zM303.9 155.3h0.9v0.9h-0.9zM303.6 167.5h0.9v0.9h-0.9zM313.1 163.2h0.9v0.9h-0.9zM297.7 158.4h0.9v0.9h-0.9zM322.9 158.0h0.9v0.9h-0.9zM300.5 164.5h0.9v0.9h-0.9zM310.4 164.1h0.9v0.9h-0.9zM317.7 159.6h0.9v0.9h-0.9zM299.1 159.8h0.9v0.9h-0.9zM309.1 161.7h0.9v0.9h-0.9zM314.4 162.8h0.9v0.9h-0.9zM327.0 167.2h0.9v0.9h-0.9zM323.0 164.3h0.9v0.9h-0.9zM298.5 163.2h0.9v0.9h-0.9zM324.8 162.1h0.9v0.9h-0.9zM314.3 164.9h0.9v0.9h-0.9zM319.1 162.1h0.9v0.9h-0.9zM299.9 165.5h0.9v0.9h-0.9zM311.5 157.6h0.9v0.9h-0.9zM319.9 159.7h0.9v0.9h-0.9zM323.5 167.7h0.9v0.9h-0.9zM323.8 160.7h0.9v0.9h-0.9zM302.0 167.2h0.9v0.9h-0.9zM315.0 163.4h0.9v0.9h-0.9zM318.7 156.5h0.9v0.9h-0.9zM325.5 166.0h0.9v0.9h-0.9zM309.0 164.7h0.9v0.9h-0.9zM328.0 159.2h0.9v0.9h-0.9zM326.6 167.5h0.9v0.9h-0.9zM323.9 162.0h0.9v0.9h-0.9zM308.1 155.8h0.9v0.9h-0.9zM313.5 156.0h0.9v0.9h-0.9zM300.4 158.3h0.9v0.9h-0.9zM322.1 163.8h0.9v0.9h-0.9zM327.0 166.8h0.9v0.9h-0.9zM300.0 156.4h0.9v0.9h-0.9zM321.6 155.3h0.9v0.9h-0.9zM319.7 164.0h0.9v0.9h-0.9zM295.4 160.9h0.9v0.9h-0.9zM327.9 161.4h0.9v0.9h-0.9zM311.7 166.9h0.9v0.9h-0.9zM322.9 166.3h0.9v0.9h-0.9zM306.5 155.0h0.9v0.9h-0.9zM313.0 157.2h0.9v0.9h-0.9zM301.2 163.5h0.9v0.9h-0.9zM308.7 156.2h0.9v0.9h-0.9zM323.8 162.5h0.9v0.9h-0.9zM318.7 160.7h0.9v0.9h-0.9zM320.7 160.9h0.9v0.9h-0.9zM303.3 158.9h0.9v0.9h-0.9zM296.4 158.9h0.9v0.9h-0.9zM326.6 158.5h0.9v0.9h-0.9zM328.6 156.5h0.9v0.9h-0.9zM317.8 163.0h0.9v0.9h-0.9zM328.1 161.5h0.9v0.9h-0.9zM320.1 165.3h0.9v0.9h-0.9zM316.4 164.3h0.9v0.9h-0.9zM307.2 159.9h0.9v0.9h-0.9zM312.1 167.8h0.9v0.9h-0.9zM302.2 160.6h0.9v0.9h-0.9zM309.8 164.6h0.9v0.9h-0.9zM312.8 166.7h0.9v0.9h-0.9zM295.2 160.8h0.9v0.9h-0.9zM308.6 161.5h0.9v0.9h-0.9zM304.5 164.2h0.9v0.9h-0.9zM317.5 156.6h0.9v0.9h-0.9zM324.0 162.7h0.9v0.9h-0.9zM316.7 156.4h0.9v0.9h-0.9zM318.6 158.3h0.9v0.9h-0.9zM316.7 164.0h0.9v0.9h-0.9zM325.2 158.8h0.9v0.9h-0.9zM329.0 157.1h0.9v0.9h-0.9zM300.7 162.5h0.9v0.9h-0.9zM294.4 161.4h0.9v0.9h-0.9zM329.6 160.5h0.9v0.9h-0.9zM325.8 166.1h0.9v0.9h-0.9zM316.5 165.3h0.9v0.9h-0.9zM324.2 163.1h0.9v0.9h-0.9zM316.0 164.0h0.9v0.9h-0.9zM327.5 163.4h0.9v0.9h-0.9zM303.0 164.8h0.9v0.9h-0.9zM320.4 167.5h0.9v0.9h-0.9zM303.7 156.5h0.9v0.9h-0.9zM320.3 161.5h0.9v0.9h-0.9zM323.8 166.3h0.9v0.9h-0.9zM309.7 159.3h0.9v0.9h-0.9zM330.6 163.8h0.9v0.9h-0.9zM317.4 155.8h0.9v0.9h-0.9zM322.0 158.0h0.9v0.9h-0.9zM294.8 160.8h0.9v0.9h-0.9zM298.2 156.0h0.9v0.9h-0.9zM320.3 161.2h0.9v0.9h-0.9zM328.9 158.3h0.9v0.9h-0.9zM317.2 167.5h0.9v0.9h-0.9zM327.8 159.6h0.9v0.9h-0.9zM296.2 160.5h0.9v0.9h-0.9zM327.0 166.6h0.9v0.9h-0.9zM326.5 163.1h0.9v0.9h-0.9zM317.3 155.7h0.9v0.9h-0.9zM309.9 158.2h0.9v0.9h-0.9zM320.1 163.9h0.9v0.9h-0.9zM303.0 157.9h0.9v0.9h-0.9zM318.7 158.6h0.9v0.9h-0.9zM319.7 164.0h0.9v0.9h-0.9zM314.0 162.2h0.9v0.9h-0.9zM303.6 158.9h0.9v0.9h-0.9zM294.1 163.1h0.9v0.9h-0.9zM301.2 164.2h0.9v0.9h-0.9zM324.8 155.6h0.9v0.9h-0.9zM301.9 159.0h0.9v0.9h-0.9zM296.8 159.5h0.9v0.9h-0.9zM303.1 167.7h0.9v0.9h-0.9zM313.2 155.7h0.9v0.9h-0.9zM315.7 160.0h0.9v0.9h-0.9zM326.5 157.8h0.9v0.9h-0.9zM325.6 165.1h0.9v0.9h-0.9zM329.8 166.8h0.9v0.9h-0.9zM326.7 155.8h0.9v0.9h-0.9zM310.7 167.5h0.9v0.9h-0.9zM299.2 165.1h0.9v0.9h-0.9zM329.4 158.1h0.9v0.9h-0.9zM317.0 159.2h0.9v0.9h-0.9zM303.8 166.4h0.9v0.9h-0.9zM324.2 156.1h0.9v0.9h-0.9zM301.4 161.6h0.9v0.9h-0.9zM309.6 162.3h0.9v0.9h-0.9zM302.1 168.0h0.9v0.9h-0.9zM325.8 167.1h0.9v0.9h-0.9zM316.9 162.9h0.9v0.9h-0.9zM317.3 155.7h0.9v0.9h-0.9zM305.6 161.2h0.9v0.9h-0.9zM300.5 160.4h0.9v0.9h-0.9zM322.3 164.9h0.9v0.9h-0.9zM321.2 160.9h0.9v0.9h-0.9zM330.9 160.3h0.9v0.9h-0.9zM314.7 166.1h0.9v0.9h-0.9zM300.6 156.4h0.9v0.9h-0.9zM316.6 166.8h0.9v0.9h-0.9zM304.6 164.7h0.9v0.9h-0.9zM313.0 161.3h0.9v0.9h-0.9zM311.0 165.3h0.9v0.9h-0.9zM314.9 160.8h0.9v0.9h-0.9zM328.1 157.1h0.9v0.9h-0.9zM324.0 161.0h0.9v0.9h-0.9zM309.4 155.7h0.9v0.9h-0.9zM324.2 156.3h0.9v0.9h-0.9zM325.8 161.4h0.9v0.9h-0.9zM322.6 167.0h0.9v0.9h-0.9zM314.4 158.0h0.9v0.9h-0.9zM327.3 162.3h0.9v0.9h-0.9zM297.9 167.0h0.9v0.9h-0.9zM304.1 168.1h0.9v0.9h-0.9zM318.3 164.8h0.9v0.9h-0.9zM308.0 163.5h0.9v0.9h-0.9zM309.6 163.4h0.9v0.9h-0.9zM308.9 163.7h0.9v0.9h-0.9zM301.1 161.7h0.9v0.9h-0.9zM297.5 160.2h0.9v0.9h-0.9zM295.8 158.5h0.9v0.9h-0.9zM318.9 155.9h0.9v0.9h-0.9zM306.0 160.4h0.9v0.9h-0.9zM310.9 166.2h0.9v0.9h-0.9zM328.6 163.0h0.9v0.9h-0.9zM317.2 157.4h0.9v0.9h-0.9zM324.0 166.8h0.9v0.9h-0.9zM322.2 155.6h0.9v0.9h-0.9zM296.5 164.5h0.9v0.9h-0.9zM308.2 163.1h0.9v0.9h-0.9zM329.1 161.0h0.9v0.9h-0.9zM311.2 167.0h0.9v0.9h-0.9zM329.1 155.1h0.9v0.9h-0.9zM300.8 155.2h0.9v0.9h-0.9zM296.2 162.5h0.9v0.9h-0.9zM327.1 159.3h0.9v0.9h-0.9zM309.2 160.8h0.9v0.9h-0.9zM312.8 162.8h0.9v0.9h-0.9zM328.6 155.6h0.9v0.9h-0.9zM329.8 164.8h0.9v0.9h-0.9zM308.7 156.4h0.9v0.9h-0.9zM303.2 165.7h0.9v0.9h-0.9zM302.6 162.7h0.9v0.9h-0.9zM313.2 165.0h0.9v0.9h-0.9zM311.3 165.7h0.9v0.9h-0.9zM295.9 156.7h0.9v0.9h-0.9zM299.7 161.9h0.9v0.9h-0.9zM316.4 157.9h0.9v0.9h-0.9zM322.9 160.4h0.9v0.9h-0.9zM311.8 160.3h0.9v0.9h-0.9zM316.7 168.0h0.9v0.9h-0.9zM317.8 162.6h0.9v0.9h-0.9zM294.7 156.0h0.9v0.9h-0.9zM303.1 165.4h0.9v0.9h-0.9zM330.9 162.2h0.9v0.9h-0.9zM306.2 166.8h0.9v0.9h-0.9zM329.0 155.7h0.9v0.9h-0.9zM312.2 167.5h0.9v0.9h-0.9zM302.2 167.9h0.9v0.9h-0.9zM294.1 155.1h0.9v0.9h-0.9zM302.0 161.9h0.9v0.9h-0.9zM305.9 156.8h0.9v0.9h-0.9zM310.3 162.7h0.9v0.9h-0.9zM310.5 156.3h0.9v0.9h-0.9zM314.3 167.9h0.9v0.9h-0.9zM311.5 157.7h0.9v0.9h-0.9zM295.2 164.7h0.9v0.9h-0.9zM303.9 164.5h0.9v0.9h-0.9zM329.6 159.7h0.9v0.9h-0.9zM295.0 158.1h0.9v0.9h-0.9zM311.6 155.6h0.9v0.9h-0.9zM320.2 158.7h0.9v0.9h-0.9zM306.3 159.7h0.9v0.9h-0.9zM307.7 163.5h0.9v0.9h-0.9zM313.1 160.4h0.9v0.9h-0.9zM327.7 156.6h0.9v0.9h-0.9zM306.2 163.3h0.9v0.9h-0.9zM297.2 165.5h0.9v0.9h-0.9zM295.4 165.2h0.9v0.9h-0.9zM326.6 162.1h0.9v0.9h-0.9zM305.6 159.4h0.9v0.9h-0.9zM298.4 155.1h0.9v0.9h-0.9zM316.1 162.7h0.9v0.9h-0.9zM325.3 164.1h0.9v0.9h-0.9zM316.2 161.4h0.9v0.9h-0.9zM309.0 157.9h0.9v0.9h-0.9zM303.9 166.8h0.9v0.9h-0.9zM294.6 165.4h0.9v0.9h-0.9zM329.7 168.0h0.9v0.9h-0.9zM299.0 158.4h0.9v0.9h-0.9zM330.4 160.8h0.9v0.9h-0.9zM324.2 164.8h0.9v0.9h-0.9zM301.1 163.6h0.9v0.9h-0.9zM313.4 163.5h0.9v0.9h-0.9zM315.6 156.0h0.9v0.9h-0.9zM326.5 163.7h0.9v0.9h-0.9zM329.8 158.5h0.9v0.9h-0.9zM327.7 160.6h0.9v0.9h-0.9zM306.7 160.5h0.9v0.9h-0.9zM298.6 164.2h0.9v0.9h-0.9zM313.2 165.5h0.9v0.9h-0.9zM296.6 157.5h0.9v0.9h-0.9zM298.1 159.4h0.9v0.9h-0.9zM298.5 167.7h0.9v0.9h-0.9zM305.2 156.7h0.9v0.9h-0.9zM320.1 161.2h0.9v0.9h-0.9zM296.8 160.7h0.9v0.9h-0.9zM298.1 162.5h0.9v0.9h-0.9zM318.3 161.4h0.9v0.9h-0.9zM318.9 161.8h0.9v0.9h-0.9zM320.3 161.1h0.9v0.9h-0.9zM320.6 165.2h0.9v0.9h-0.9zM318.5 159.0h0.9v0.9h-0.9zM314.4 157.4h0.9v0.9h-0.9zM321.4 161.3h0.9v0.9h-0.9zM297.0 156.3h0.9v0.9h-0.9zM301.8 161.5h0.9v0.9h-0.9zM321.4 162.2h0.9v0.9h-0.9zM301.1 166.4h0.9v0.9h-0.9zM313.6 156.6h0.9v0.9h-0.9zM303.6 160.8h0.9v0.9h-0.9zM310.0 166.3h0.9v0.9h-0.9zM324.9 159.9h0.9v0.9h-0.9zM318.4 167.1h0.9v0.9h-0.9zM310.5 165.4h0.9v0.9h-0.9zM304.1 155.6h0.9v0.9h-0.9zM323.8 160.6h0.9v0.9h-0.9zM318.3 166.1h0.9v0.9h-0.9zM310.3 162.6h0.9v0.9h-0.9zM326.2 164.8h0.9v0.9h-0.9zM330.3 164.8h0.9v0.9h-0.9zM318.6 162.9h0.9v0.9h-0.9zM327.3 167.3h0.9v0.9h-0.9zM314.4 161.2h0.9v0.9h-0.9zM320.3 155.2h0.9v0.9h-0.9zM325.2 159.0h0.9v0.9h-0.9zM297.3 163.6h0.9v0.9h-0.9zM316.4 163.8h0.9v0.9h-0.9zM296.1 159.1h0.9v0.9h-0.9zM320.5 160.8h0.9v0.9h-0.9zM328.6 158.3h0.9v0.9h-0.9zM307.8 163.0h0.9v0.9h-0.9zM311.4 160.0h0.9v0.9h-0.9z" fill="#000" fill-opacity="0.45"/>
<path d="M326.5 162.3h0.9v0.9h-0.9zM318.5 150.8h0.9v0.9h-0.9zM316.9 161.1h0.9v0.9h-0.9zM319.3 164.3h0.9v0.9h-0.9zM321.5 161.8h0.9v0.9h-0.9zM325.2 156.2h0.9v0.9h-0.9zM324.8 167.4h0.9v0.9h-0.9zM321.9 157.5h0.9v0.9h-0.9zM326.2 154.9h0.9v0.9h-0.9zM322.4 155.6h0.9v0.9h-0.9zM326.0 160.9h0.9v0.9h-0.9zM315.7 165.9h0.9v0.9h-0.9zM314.9 166.8h0.9v0.9h-0.9zM325.5 162.1h0.9v0.9h-0.9zM315.7 155.0h0.9v0.9h-0.9zM320.6 157.7h0.9v0.9h-0.9zM321.6 156.5h0.9v0.9h-0.9zM319.8 160.1h0.9v0.9h-0.9zM320.0 152.1h0.9v0.9h-0.9zM328.3 161.6h0.9v0.9h-0.9zM310.6 164.2h0.9v0.9h-0.9zM326.0 160.3h0.9v0.9h-0.9zM332.3 163.3h0.9v0.9h-0.9zM322.1 156.3h0.9v0.9h-0.9zM321.9 153.7h0.9v0.9h-0.9zM325.3 157.8h0.9v0.9h-0.9zM330.2 166.8h0.9v0.9h-0.9zM316.7 166.2h0.9v0.9h-0.9zM322.4 158.7h0.9v0.9h-0.9zM321.2 167.0h0.9v0.9h-0.9zM324.5 159.4h0.9v0.9h-0.9zM325.0 163.4h0.9v0.9h-0.9zM320.1 158.7h0.9v0.9h-0.9zM322.2 165.0h0.9v0.9h-0.9zM319.0 157.1h0.9v0.9h-0.9zM319.0 156.3h0.9v0.9h-0.9zM321.4 153.7h0.9v0.9h-0.9zM321.4 162.3h0.9v0.9h-0.9zM316.7 160.7h0.9v0.9h-0.9zM329.1 160.6h0.9v0.9h-0.9zM321.4 159.0h0.9v0.9h-0.9zM327.0 158.9h0.9v0.9h-0.9zM318.6 157.4h0.9v0.9h-0.9zM324.3 167.2h0.9v0.9h-0.9zM323.1 162.7h0.9v0.9h-0.9zM322.8 152.3h0.9v0.9h-0.9zM319.4 158.0h0.9v0.9h-0.9zM322.2 164.1h0.9v0.9h-0.9zM331.1 161.1h0.9v0.9h-0.9zM322.3 154.2h0.9v0.9h-0.9zM324.0 164.4h0.9v0.9h-0.9zM317.3 157.9h0.9v0.9h-0.9zM315.8 167.6h0.9v0.9h-0.9zM331.7 160.6h0.9v0.9h-0.9zM320.3 166.2h0.9v0.9h-0.9zM331.4 157.8h0.9v0.9h-0.9zM324.4 154.0h0.9v0.9h-0.9zM322.3 155.4h0.9v0.9h-0.9zM324.1 158.0h0.9v0.9h-0.9zM324.9 155.9h0.9v0.9h-0.9zM327.3 167.0h0.9v0.9h-0.9zM324.0 167.7h0.9v0.9h-0.9zM322.7 162.4h0.9v0.9h-0.9zM322.8 155.8h0.9v0.9h-0.9zM328.1 160.4h0.9v0.9h-0.9zM325.7 157.6h0.9v0.9h-0.9zM319.1 162.6h0.9v0.9h-0.9zM323.5 163.4h0.9v0.9h-0.9zM319.2 159.0h0.9v0.9h-0.9zM320.3 150.9h0.9v0.9h-0.9zM317.7 157.1h0.9v0.9h-0.9zM320.8 155.4h0.9v0.9h-0.9zM323.9 162.9h0.9v0.9h-0.9zM326.5 161.5h0.9v0.9h-0.9zM322.0 157.0h0.9v0.9h-0.9zM331.3 159.1h0.9v0.9h-0.9zM326.5 156.4h0.9v0.9h-0.9zM324.2 159.9h0.9v0.9h-0.9zM319.8 157.5h0.9v0.9h-0.9zM309.3 158.9h0.9v0.9h-0.9zM321.3 163.7h0.9v0.9h-0.9zM330.7 152.1h0.9v0.9h-0.9zM315.8 160.9h0.9v0.9h-0.9zM330.6 161.2h0.9v0.9h-0.9zM320.9 160.6h0.9v0.9h-0.9zM325.3 160.1h0.9v0.9h-0.9zM310.6 159.3h0.9v0.9h-0.9zM322.6 166.0h0.9v0.9h-0.9zM320.5 158.7h0.9v0.9h-0.9zM325.1 160.4h0.9v0.9h-0.9zM322.4 161.0h0.9v0.9h-0.9zM316.9 161.5h0.9v0.9h-0.9zM326.3 160.1h0.9v0.9h-0.9zM325.1 166.0h0.9v0.9h-0.9zM324.7 161.0h0.9v0.9h-0.9zM326.5 161.9h0.9v0.9h-0.9zM327.0 160.7h0.9v0.9h-0.9zM321.9 156.0h0.9v0.9h-0.9zM315.9 156.9h0.9v0.9h-0.9zM315.8 155.7h0.9v0.9h-0.9zM328.1 162.0h0.9v0.9h-0.9zM325.2 157.4h0.9v0.9h-0.9zM322.5 155.7h0.9v0.9h-0.9zM320.0 162.2h0.9v0.9h-0.9zM322.1 163.6h0.9v0.9h-0.9zM322.1 152.2h0.9v0.9h-0.9zM318.9 161.2h0.9v0.9h-0.9zM331.7 160.5h0.9v0.9h-0.9zM323.0 166.3h0.9v0.9h-0.9zM319.3 161.3h0.9v0.9h-0.9zM316.1 158.0h0.9v0.9h-0.9zM325.2 155.6h0.9v0.9h-0.9zM325.4 160.5h0.9v0.9h-0.9zM321.0 165.2h0.9v0.9h-0.9zM322.2 155.7h0.9v0.9h-0.9zM320.6 160.5h0.9v0.9h-0.9zM317.0 162.9h0.9v0.9h-0.9zM323.7 156.5h0.9v0.9h-0.9zM318.6 164.3h0.9v0.9h-0.9zM321.4 161.4h0.9v0.9h-0.9zM326.0 155.0h0.9v0.9h-0.9zM320.9 163.0h0.9v0.9h-0.9zM315.8 161.5h0.9v0.9h-0.9zM317.7 163.2h0.9v0.9h-0.9zM322.5 166.7h0.9v0.9h-0.9zM323.5 166.1h0.9v0.9h-0.9zM321.6 163.0h0.9v0.9h-0.9zM326.5 162.6h0.9v0.9h-0.9zM326.5 155.5h0.9v0.9h-0.9zM323.5 160.3h0.9v0.9h-0.9zM322.1 162.1h0.9v0.9h-0.9zM320.9 159.0h0.9v0.9h-0.9zM324.5 161.5h0.9v0.9h-0.9zM326.1 156.9h0.9v0.9h-0.9zM320.5 159.1h0.9v0.9h-0.9zM315.6 163.0h0.9v0.9h-0.9zM317.5 159.8h0.9v0.9h-0.9zM325.4 167.3h0.9v0.9h-0.9zM324.0 163.2h0.9v0.9h-0.9zM329.2 161.4h0.9v0.9h-0.9zM322.3 159.9h0.9v0.9h-0.9zM325.9 161.6h0.9v0.9h-0.9zM328.0 156.0h0.9v0.9h-0.9zM326.5 164.4h0.9v0.9h-0.9zM319.3 157.4h0.9v0.9h-0.9zM321.2 163.7h0.9v0.9h-0.9zM322.6 161.6h0.9v0.9h-0.9zM317.6 166.5h0.9v0.9h-0.9zM324.1 160.9h0.9v0.9h-0.9zM326.6 166.1h0.9v0.9h-0.9zM319.8 156.4h0.9v0.9h-0.9zM330.9 164.0h0.9v0.9h-0.9zM320.7 159.9h0.9v0.9h-0.9zM321.1 162.0h0.9v0.9h-0.9zM320.9 161.4h0.9v0.9h-0.9zM318.8 165.7h0.9v0.9h-0.9zM323.9 150.9h0.9v0.9h-0.9zM322.1 162.6h0.9v0.9h-0.9zM329.5 153.5h0.9v0.9h-0.9zM324.7 167.0h0.9v0.9h-0.9zM324.4 151.1h0.9v0.9h-0.9zM321.0 156.0h0.9v0.9h-0.9zM315.6 152.6h0.9v0.9h-0.9zM318.2 154.6h0.9v0.9h-0.9zM326.3 161.6h0.9v0.9h-0.9zM321.9 158.3h0.9v0.9h-0.9zM329.5 152.0h0.9v0.9h-0.9zM325.3 159.3h0.9v0.9h-0.9zM325.8 164.3h0.9v0.9h-0.9zM323.0 160.1h0.9v0.9h-0.9zM322.9 165.7h0.9v0.9h-0.9zM324.9 159.2h0.9v0.9h-0.9zM326.2 161.0h0.9v0.9h-0.9zM318.8 159.1h0.9v0.9h-0.9zM324.2 162.7h0.9v0.9h-0.9zM321.6 162.8h0.9v0.9h-0.9zM320.9 162.0h0.9v0.9h-0.9zM318.9 157.9h0.9v0.9h-0.9zM315.5 157.2h0.9v0.9h-0.9zM322.3 155.4h0.9v0.9h-0.9zM323.3 156.4h0.9v0.9h-0.9zM330.3 160.5h0.9v0.9h-0.9zM326.7 149.2h0.9v0.9h-0.9zM324.8 162.8h0.9v0.9h-0.9zM323.8 164.6h0.9v0.9h-0.9zM324.2 155.4h0.9v0.9h-0.9zM321.9 157.8h0.9v0.9h-0.9zM329.2 163.2h0.9v0.9h-0.9zM323.6 156.4h0.9v0.9h-0.9zM327.6 153.1h0.9v0.9h-0.9zM326.0 165.9h0.9v0.9h-0.9zM323.5 159.3h0.9v0.9h-0.9zM329.9 149.9h0.9v0.9h-0.9zM321.6 160.0h0.9v0.9h-0.9zM318.2 166.6h0.9v0.9h-0.9zM320.5 160.8h0.9v0.9h-0.9zM317.3 159.1h0.9v0.9h-0.9zM322.5 158.7h0.9v0.9h-0.9z" fill="#000" fill-opacity="0.5"/>
<path d="M371.3 165.5h0.9v0.9h-0.9zM371.2 163.2h0.9v0.9h-0.9zM362.6 149.9h0.9v0.9h-0.9zM372.4 151.4h0.9v0.9h-0.9zM364.7 157.2h0.9v0.9h-0.9zM366.0 165.2h0.9v0.9h-0.9zM365.6 157.6h0.9v0.9h-0.9zM364.9 165.8h0.9v0.9h-0.9zM364.4 157.1h0.9v0.9h-0.9zM367.2 164.6h0.9v0.9h-0.9zM363.1 166.1h0.9v0.9h-0.9zM365.0 152.0h0.9v0.9h-0.9zM365.5 162.6h0.9v0.9h-0.9zM370.7 165.3h0.9v0.9h-0.9zM367.3 161.6h0.9v0.9h-0.9zM367.5 153.8h0.9v0.9h-0.9zM369.9 160.9h0.9v0.9h-0.9zM367.8 153.7h0.9v0.9h-0.9zM372.5 164.3h0.9v0.9h-0.9zM370.8 153.5h0.9v0.9h-0.9zM365.9 166.9h0.9v0.9h-0.9zM364.5 162.9h0.9v0.9h-0.9zM369.2 167.3h0.9v0.9h-0.9zM367.9 158.9h0.9v0.9h-0.9zM365.7 149.1h0.9v0.9h-0.9zM368.8 163.2h0.9v0.9h-0.9zM368.9 165.1h0.9v0.9h-0.9zM369.7 162.6h0.9v0.9h-0.9zM367.4 148.9h0.9v0.9h-0.9zM367.5 166.5h0.9v0.9h-0.9zM363.1 158.2h0.9v0.9h-0.9zM363.9 159.0h0.9v0.9h-0.9zM362.7 162.6h0.9v0.9h-0.9zM367.6 146.1h0.9v0.9h-0.9zM366.2 160.3h0.9v0.9h-0.9zM369.3 154.6h0.9v0.9h-0.9zM363.7 156.8h0.9v0.9h-0.9zM367.2 163.4h0.9v0.9h-0.9zM364.6 157.0h0.9v0.9h-0.9zM368.2 165.0h0.9v0.9h-0.9zM367.1 167.6h0.9v0.9h-0.9zM362.4 157.0h0.9v0.9h-0.9zM366.0 160.4h0.9v0.9h-0.9zM366.2 149.3h0.9v0.9h-0.9zM364.9 162.3h0.9v0.9h-0.9zM369.2 166.4h0.9v0.9h-0.9zM372.2 155.8h0.9v0.9h-0.9zM364.7 144.5h0.9v0.9h-0.9zM365.5 149.6h0.9v0.9h-0.9zM364.4 156.4h0.9v0.9h-0.9zM367.0 159.4h0.9v0.9h-0.9zM368.1 159.5h0.9v0.9h-0.9zM363.4 165.4h0.9v0.9h-0.9zM364.7 156.5h0.9v0.9h-0.9zM362.5 150.5h0.9v0.9h-0.9zM368.7 150.7h0.9v0.9h-0.9zM373.0 158.7h0.9v0.9h-0.9zM367.7 163.6h0.9v0.9h-0.9zM365.5 153.8h0.9v0.9h-0.9zM361.8 160.0h0.9v0.9h-0.9zM365.9 166.5h0.9v0.9h-0.9zM362.3 153.3h0.9v0.9h-0.9zM367.2 165.7h0.9v0.9h-0.9zM370.5 161.9h0.9v0.9h-0.9zM362.5 157.4h0.9v0.9h-0.9zM369.9 163.0h0.9v0.9h-0.9zM368.5 165.1h0.9v0.9h-0.9zM362.8 161.7h0.9v0.9h-0.9zM366.3 152.2h0.9v0.9h-0.9zM366.4 166.8h0.9v0.9h-0.9zM362.9 155.7h0.9v0.9h-0.9zM366.5 160.4h0.9v0.9h-0.9zM368.3 160.7h0.9v0.9h-0.9zM362.3 153.0h0.9v0.9h-0.9zM365.1 148.1h0.9v0.9h-0.9zM366.6 163.7h0.9v0.9h-0.9zM365.1 156.6h0.9v0.9h-0.9zM364.5 163.2h0.9v0.9h-0.9zM363.5 152.0h0.9v0.9h-0.9zM368.6 157.3h0.9v0.9h-0.9zM365.8 167.8h0.9v0.9h-0.9zM366.4 158.7h0.9v0.9h-0.9zM362.5 164.7h0.9v0.9h-0.9zM363.8 164.0h0.9v0.9h-0.9zM366.6 157.4h0.9v0.9h-0.9zM362.4 148.3h0.9v0.9h-0.9zM361.5 167.4h0.9v0.9h-0.9zM364.8 161.3h0.9v0.9h-0.9zM370.3 167.4h0.9v0.9h-0.9zM366.7 144.9h0.9v0.9h-0.9zM371.3 147.6h0.9v0.9h-0.9zM365.5 143.9h0.9v0.9h-0.9zM364.9 153.4h0.9v0.9h-0.9zM363.9 164.2h0.9v0.9h-0.9zM371.2 159.7h0.9v0.9h-0.9zM367.2 161.0h0.9v0.9h-0.9zM368.6 165.7h0.9v0.9h-0.9zM368.5 157.7h0.9v0.9h-0.9zM366.0 163.0h0.9v0.9h-0.9zM365.3 161.0h0.9v0.9h-0.9zM366.4 143.6h0.9v0.9h-0.9zM368.4 157.1h0.9v0.9h-0.9zM367.8 157.0h0.9v0.9h-0.9zM366.6 158.9h0.9v0.9h-0.9zM363.2 155.4h0.9v0.9h-0.9zM365.1 156.4h0.9v0.9h-0.9zM369.6 158.0h0.9v0.9h-0.9zM374.6 155.7h0.9v0.9h-0.9zM364.8 145.2h0.9v0.9h-0.9zM361.9 146.3h0.9v0.9h-0.9zM365.9 166.0h0.9v0.9h-0.9zM370.6 165.3h0.9v0.9h-0.9zM365.4 145.6h0.9v0.9h-0.9zM368.2 166.4h0.9v0.9h-0.9zM366.4 163.4h0.9v0.9h-0.9zM364.7 154.1h0.9v0.9h-0.9zM377.3 165.5h0.9v0.9h-0.9zM366.3 147.8h0.9v0.9h-0.9zM364.1 151.0h0.9v0.9h-0.9zM364.2 149.2h0.9v0.9h-0.9zM367.4 151.7h0.9v0.9h-0.9zM367.5 166.6h0.9v0.9h-0.9zM368.8 150.0h0.9v0.9h-0.9zM366.5 151.4h0.9v0.9h-0.9zM367.9 161.5h0.9v0.9h-0.9zM364.9 157.5h0.9v0.9h-0.9zM365.0 166.5h0.9v0.9h-0.9zM363.9 150.3h0.9v0.9h-0.9zM363.4 156.2h0.9v0.9h-0.9zM365.9 160.3h0.9v0.9h-0.9zM366.2 162.1h0.9v0.9h-0.9zM362.0 155.6h0.9v0.9h-0.9zM363.8 160.3h0.9v0.9h-0.9zM369.3 155.1h0.9v0.9h-0.9zM364.8 151.7h0.9v0.9h-0.9zM364.4 163.8h0.9v0.9h-0.9zM369.0 158.8h0.9v0.9h-0.9zM363.7 160.2h0.9v0.9h-0.9zM363.0 166.4h0.9v0.9h-0.9zM373.0 149.3h0.9v0.9h-0.9zM369.3 159.8h0.9v0.9h-0.9zM370.1 160.6h0.9v0.9h-0.9zM361.2 165.2h0.9v0.9h-0.9zM362.0 158.2h0.9v0.9h-0.9zM369.9 155.0h0.9v0.9h-0.9zM365.3 156.4h0.9v0.9h-0.9zM365.1 146.5h0.9v0.9h-0.9zM367.2 159.6h0.9v0.9h-0.9zM361.5 155.3h0.9v0.9h-0.9zM368.8 163.3h0.9v0.9h-0.9zM366.1 152.1h0.9v0.9h-0.9zM367.7 156.5h0.9v0.9h-0.9zM363.6 152.4h0.9v0.9h-0.9zM367.8 151.8h0.9v0.9h-0.9zM363.5 165.0h0.9v0.9h-0.9zM369.4 156.3h0.9v0.9h-0.9zM370.1 163.1h0.9v0.9h-0.9zM369.3 151.3h0.9v0.9h-0.9zM367.9 160.5h0.9v0.9h-0.9zM368.3 147.1h0.9v0.9h-0.9zM369.0 155.9h0.9v0.9h-0.9zM365.0 164.1h0.9v0.9h-0.9zM366.3 161.1h0.9v0.9h-0.9zM365.0 158.4h0.9v0.9h-0.9zM364.1 161.1h0.9v0.9h-0.9zM368.4 163.7h0.9v0.9h-0.9zM371.1 165.4h0.9v0.9h-0.9zM363.8 159.2h0.9v0.9h-0.9zM362.7 157.5h0.9v0.9h-0.9zM371.2 162.1h0.9v0.9h-0.9zM362.8 156.5h0.9v0.9h-0.9zM373.5 162.6h0.9v0.9h-0.9zM366.2 168.0h0.9v0.9h-0.9zM362.8 166.1h0.9v0.9h-0.9zM369.5 156.8h0.9v0.9h-0.9zM372.1 150.0h0.9v0.9h-0.9zM371.6 158.7h0.9v0.9h-0.9zM365.0 167.9h0.9v0.9h-0.9zM371.4 156.8h0.9v0.9h-0.9zM364.6 158.1h0.9v0.9h-0.9zM367.8 156.1h0.9v0.9h-0.9zM369.3 158.5h0.9v0.9h-0.9zM368.5 164.4h0.9v0.9h-0.9zM365.1 161.7h0.9v0.9h-0.9zM364.1 152.4h0.9v0.9h-0.9zM364.9 163.8h0.9v0.9h-0.9zM363.0 160.1h0.9v0.9h-0.9zM365.0 161.3h0.9v0.9h-0.9zM366.6 159.6h0.9v0.9h-0.9zM365.9 158.3h0.9v0.9h-0.9zM375.2 162.0h0.9v0.9h-0.9zM364.3 162.4h0.9v0.9h-0.9zM368.0 147.2h0.9v0.9h-0.9zM361.6 152.4h0.9v0.9h-0.9zM363.8 147.8h0.9v0.9h-0.9zM371.2 163.8h0.9v0.9h-0.9zM368.1 162.6h0.9v0.9h-0.9zM361.8 155.2h0.9v0.9h-0.9zM365.8 161.6h0.9v0.9h-0.9zM369.4 154.0h0.9v0.9h-0.9zM367.8 149.0h0.9v0.9h-0.9zM367.4 149.1h0.9v0.9h-0.9zM362.9 153.2h0.9v0.9h-0.9zM366.3 149.6h0.9v0.9h-0.9zM362.0 158.3h0.9v0.9h-0.9zM370.1 159.3h0.9v0.9h-0.9zM362.7 155.0h0.9v0.9h-0.9zM369.9 159.4h0.9v0.9h-0.9zM366.9 164.6h0.9v0.9h-0.9zM369.2 159.7h0.9v0.9h-0.9zM372.3 167.1h0.9v0.9h-0.9zM368.8 162.2h0.9v0.9h-0.9zM362.7 162.1h0.9v0.9h-0.9zM363.5 159.2h0.9v0.9h-0.9zM368.3 162.2h0.9v0.9h-0.9zM371.5 151.3h0.9v0.9h-0.9zM371.0 162.6h0.9v0.9h-0.9zM374.3 161.2h0.9v0.9h-0.9zM367.1 153.2h0.9v0.9h-0.9zM369.6 152.3h0.9v0.9h-0.9zM366.1 153.1h0.9v0.9h-0.9zM365.8 161.7h0.9v0.9h-0.9zM362.2 145.1h0.9v0.9h-0.9zM369.6 153.7h0.9v0.9h-0.9zM362.1 148.2h0.9v0.9h-0.9zM367.8 152.4h0.9v0.9h-0.9zM369.9 162.0h0.9v0.9h-0.9zM362.3 167.9h0.9v0.9h-0.9zM369.0 165.6h0.9v0.9h-0.9zM364.4 164.0h0.9v0.9h-0.9zM370.2 156.1h0.9v0.9h-0.9zM363.1 167.9h0.9v0.9h-0.9zM366.2 155.9h0.9v0.9h-0.9zM364.3 155.0h0.9v0.9h-0.9zM367.1 165.5h0.9v0.9h-0.9zM367.6 161.2h0.9v0.9h-0.9zM362.0 165.2h0.9v0.9h-0.9zM368.1 166.2h0.9v0.9h-0.9zM363.1 149.4h0.9v0.9h-0.9zM362.4 158.9h0.9v0.9h-0.9zM366.0 150.8h0.9v0.9h-0.9zM363.5 160.5h0.9v0.9h-0.9zM374.3 154.6h0.9v0.9h-0.9zM368.7 163.5h0.9v0.9h-0.9zM369.6 153.5h0.9v0.9h-0.9zM368.0 159.9h0.9v0.9h-0.9zM364.3 163.7h0.9v0.9h-0.9zM367.4 161.6h0.9v0.9h-0.9zM370.1 145.1h0.9v0.9h-0.9zM364.7 157.1h0.9v0.9h-0.9zM362.2 163.4h0.9v0.9h-0.9zM362.7 149.9h0.9v0.9h-0.9zM367.1 163.5h0.9v0.9h-0.9zM366.8 154.7h0.9v0.9h-0.9zM372.2 162.6h0.9v0.9h-0.9zM369.9 164.7h0.9v0.9h-0.9zM369.1 155.2h0.9v0.9h-0.9zM361.7 161.0h0.9v0.9h-0.9zM364.5 150.8h0.9v0.9h-0.9zM364.0 149.0h0.9v0.9h-0.9zM364.5 163.7h0.9v0.9h-0.9zM362.0 159.2h0.9v0.9h-0.9zM367.6 147.4h0.9v0.9h-0.9zM366.8 153.2h0.9v0.9h-0.9zM367.3 159.7h0.9v0.9h-0.9zM370.6 167.4h0.9v0.9h-0.9zM366.7 165.6h0.9v0.9h-0.9zM363.7 158.8h0.9v0.9h-0.9zM365.8 163.1h0.9v0.9h-0.9zM369.5 162.5h0.9v0.9h-0.9zM364.9 162.7h0.9v0.9h-0.9zM365.1 157.8h0.9v0.9h-0.9zM364.4 158.9h0.9v0.9h-0.9zM363.8 152.2h0.9v0.9h-0.9zM368.0 155.4h0.9v0.9h-0.9zM368.2 152.5h0.9v0.9h-0.9zM363.5 161.7h0.9v0.9h-0.9zM367.3 157.0h0.9v0.9h-0.9zM367.3 163.4h0.9v0.9h-0.9zM370.3 162.0h0.9v0.9h-0.9zM363.9 164.0h0.9v0.9h-0.9zM365.4 159.5h0.9v0.9h-0.9zM361.4 168.0h0.9v0.9h-0.9zM372.0 157.5h0.9v0.9h-0.9zM367.6 156.8h0.9v0.9h-0.9zM364.9 153.4h0.9v0.9h-0.9zM371.5 159.9h0.9v0.9h-0.9zM366.3 151.6h0.9v0.9h-0.9zM366.5 143.7h0.9v0.9h-0.9zM366.2 167.5h0.9v0.9h-0.9zM368.3 153.7h0.9v0.9h-0.9zM367.9 155.5h0.9v0.9h-0.9zM369.9 152.2h0.9v0.9h-0.9zM364.1 151.5h0.9v0.9h-0.9zM364.3 160.8h0.9v0.9h-0.9zM369.3 165.1h0.9v0.9h-0.9zM364.8 165.2h0.9v0.9h-0.9zM366.6 159.4h0.9v0.9h-0.9zM367.9 150.7h0.9v0.9h-0.9zM365.7 165.3h0.9v0.9h-0.9zM361.5 157.8h0.9v0.9h-0.9zM363.2 159.8h0.9v0.9h-0.9zM361.5 158.9h0.9v0.9h-0.9zM366.8 155.2h0.9v0.9h-0.9zM368.9 148.1h0.9v0.9h-0.9zM369.7 163.9h0.9v0.9h-0.9zM363.4 149.2h0.9v0.9h-0.9zM366.8 150.7h0.9v0.9h-0.9zM368.0 157.3h0.9v0.9h-0.9zM364.2 154.3h0.9v0.9h-0.9zM365.5 161.5h0.9v0.9h-0.9zM373.6 167.1h0.9v0.9h-0.9zM366.7 161.4h0.9v0.9h-0.9zM369.2 161.0h0.9v0.9h-0.9zM364.4 159.7h0.9v0.9h-0.9zM366.2 166.0h0.9v0.9h-0.9zM365.9 162.3h0.9v0.9h-0.9zM370.3 152.6h0.9v0.9h-0.9zM373.6 150.3h0.9v0.9h-0.9zM370.3 159.6h0.9v0.9h-0.9zM368.5 156.7h0.9v0.9h-0.9zM366.2 163.9h0.9v0.9h-0.9zM363.8 167.8h0.9v0.9h-0.9zM368.2 159.0h0.9v0.9h-0.9zM369.4 166.1h0.9v0.9h-0.9zM362.4 148.8h0.9v0.9h-0.9zM370.1 166.7h0.9v0.9h-0.9zM365.3 154.1h0.9v0.9h-0.9zM366.8 157.5h0.9v0.9h-0.9zM370.2 161.5h0.9v0.9h-0.9zM370.5 146.4h0.9v0.9h-0.9zM364.2 156.9h0.9v0.9h-0.9zM366.0 158.7h0.9v0.9h-0.9zM363.2 153.5h0.9v0.9h-0.9zM368.2 166.7h0.9v0.9h-0.9zM364.7 156.8h0.9v0.9h-0.9zM369.5 162.0h0.9v0.9h-0.9zM371.1 161.0h0.9v0.9h-0.9zM368.8 146.0h0.9v0.9h-0.9zM364.5 156.8h0.9v0.9h-0.9zM364.9 158.4h0.9v0.9h-0.9zM367.1 143.0h0.9v0.9h-0.9zM364.9 166.5h0.9v0.9h-0.9zM364.2 167.0h0.9v0.9h-0.9zM371.9 155.0h0.9v0.9h-0.9zM365.3 160.3h0.9v0.9h-0.9zM362.5 162.5h0.9v0.9h-0.9zM367.8 166.8h0.9v0.9h-0.9zM372.6 160.4h0.9v0.9h-0.9zM370.4 157.8h0.9v0.9h-0.9zM364.4 155.0h0.9v0.9h-0.9zM364.2 156.1h0.9v0.9h-0.9zM365.5 153.5h0.9v0.9h-0.9zM372.6 167.1h0.9v0.9h-0.9zM361.8 161.6h0.9v0.9h-0.9zM371.9 153.4h0.9v0.9h-0.9zM362.4 162.2h0.9v0.9h-0.9zM365.2 144.4h0.9v0.9h-0.9zM369.0 157.4h0.9v0.9h-0.9zM368.3 163.5h0.9v0.9h-0.9zM367.0 164.8h0.9v0.9h-0.9zM367.3 166.4h0.9v0.9h-0.9zM375.2 156.4h0.9v0.9h-0.9zM365.2 165.2h0.9v0.9h-0.9zM366.7 147.9h0.9v0.9h-0.9zM361.9 144.9h0.9v0.9h-0.9zM364.3 164.2h0.9v0.9h-0.9zM361.4 159.9h0.9v0.9h-0.9zM369.5 161.1h0.9v0.9h-0.9zM365.1 155.2h0.9v0.9h-0.9zM368.0 157.4h0.9v0.9h-0.9zM363.5 165.7h0.9v0.9h-0.9zM370.6 158.0h0.9v0.9h-0.9zM362.5 147.2h0.9v0.9h-0.9zM367.5 164.1h0.9v0.9h-0.9zM361.9 164.7h0.9v0.9h-0.9zM364.4 161.0h0.9v0.9h-0.9zM363.1 160.2h0.9v0.9h-0.9zM369.2 163.5h0.9v0.9h-0.9zM363.5 145.7h0.9v0.9h-0.9zM371.4 155.3h0.9v0.9h-0.9zM370.8 154.5h0.9v0.9h-0.9zM364.3 159.4h0.9v0.9h-0.9zM365.2 162.2h0.9v0.9h-0.9zM363.0 154.0h0.9v0.9h-0.9zM370.1 151.6h0.9v0.9h-0.9zM369.3 161.4h0.9v0.9h-0.9zM361.2 150.2h0.9v0.9h-0.9zM362.9 163.9h0.9v0.9h-0.9zM373.6 157.4h0.9v0.9h-0.9zM366.9 160.2h0.9v0.9h-0.9zM363.6 161.7h0.9v0.9h-0.9zM369.8 152.4h0.9v0.9h-0.9zM366.1 154.9h0.9v0.9h-0.9zM373.9 157.2h0.9v0.9h-0.9zM364.6 156.2h0.9v0.9h-0.9zM366.1 165.4h0.9v0.9h-0.9zM363.1 151.1h0.9v0.9h-0.9zM366.1 145.9h0.9v0.9h-0.9zM366.7 155.4h0.9v0.9h-0.9zM367.3 155.8h0.9v0.9h-0.9zM364.7 151.3h0.9v0.9h-0.9zM367.1 166.4h0.9v0.9h-0.9zM366.2 156.5h0.9v0.9h-0.9zM371.2 161.3h0.9v0.9h-0.9zM368.6 144.3h0.9v0.9h-0.9zM368.6 163.8h0.9v0.9h-0.9zM362.7 158.2h0.9v0.9h-0.9zM361.9 165.0h0.9v0.9h-0.9zM369.3 162.8h0.9v0.9h-0.9zM362.2 157.8h0.9v0.9h-0.9zM364.3 160.0h0.9v0.9h-0.9zM366.8 155.8h0.9v0.9h-0.9zM370.4 165.0h0.9v0.9h-0.9zM365.9 166.6h0.9v0.9h-0.9zM365.6 159.7h0.9v0.9h-0.9zM371.9 148.1h0.9v0.9h-0.9zM369.8 157.9h0.9v0.9h-0.9zM363.2 147.6h0.9v0.9h-0.9zM363.4 163.7h0.9v0.9h-0.9zM369.2 150.7h0.9v0.9h-0.9zM367.3 165.5h0.9v0.9h-0.9zM367.1 152.0h0.9v0.9h-0.9zM368.4 149.6h0.9v0.9h-0.9zM367.8 158.5h0.9v0.9h-0.9zM362.9 156.0h0.9v0.9h-0.9zM364.8 151.4h0.9v0.9h-0.9zM374.4 156.9h0.9v0.9h-0.9zM361.7 152.1h0.9v0.9h-0.9zM364.3 160.1h0.9v0.9h-0.9zM369.8 159.5h0.9v0.9h-0.9zM365.4 165.2h0.9v0.9h-0.9zM363.1 156.2h0.9v0.9h-0.9zM361.2 149.6h0.9v0.9h-0.9zM367.9 149.7h0.9v0.9h-0.9zM369.7 157.8h0.9v0.9h-0.9zM366.2 166.0h0.9v0.9h-0.9zM369.8 154.8h0.9v0.9h-0.9zM362.3 166.7h0.9v0.9h-0.9zM366.6 150.9h0.9v0.9h-0.9zM363.6 167.3h0.9v0.9h-0.9zM366.6 156.8h0.9v0.9h-0.9zM368.7 165.4h0.9v0.9h-0.9zM369.9 164.3h0.9v0.9h-0.9zM362.4 157.6h0.9v0.9h-0.9zM370.6 162.1h0.9v0.9h-0.9zM364.3 151.6h0.9v0.9h-0.9zM362.3 159.1h0.9v0.9h-0.9zM365.4 167.8h0.9v0.9h-0.9zM366.0 164.9h0.9v0.9h-0.9zM367.0 160.3h0.9v0.9h-0.9zM365.3 152.0h0.9v0.9h-0.9zM367.9 167.6h0.9v0.9h-0.9zM364.9 147.2h0.9v0.9h-0.9zM366.0 153.6h0.9v0.9h-0.9zM366.2 150.6h0.9v0.9h-0.9zM364.4 167.9h0.9v0.9h-0.9zM365.7 155.4h0.9v0.9h-0.9zM366.7 155.5h0.9v0.9h-0.9zM364.9 163.0h0.9v0.9h-0.9zM367.7 164.3h0.9v0.9h-0.9zM367.3 162.3h0.9v0.9h-0.9zM369.2 161.7h0.9v0.9h-0.9zM370.7 155.4h0.9v0.9h-0.9zM367.8 162.4h0.9v0.9h-0.9zM365.9 148.6h0.9v0.9h-0.9zM362.3 159.7h0.9v0.9h-0.9zM367.0 156.2h0.9v0.9h-0.9zM366.8 157.1h0.9v0.9h-0.9zM368.3 148.4h0.9v0.9h-0.9zM366.7 156.4h0.9v0.9h-0.9zM367.1 161.4h0.9v0.9h-0.9zM364.0 153.3h0.9v0.9h-0.9zM362.3 164.5h0.9v0.9h-0.9zM367.8 157.4h0.9v0.9h-0.9zM365.2 162.9h0.9v0.9h-0.9zM364.5 158.6h0.9v0.9h-0.9zM374.2 157.1h0.9v0.9h-0.9zM363.3 167.6h0.9v0.9h-0.9zM365.2 164.8h0.9v0.9h-0.9zM367.0 151.5h0.9v0.9h-0.9zM361.8 161.3h0.9v0.9h-0.9zM366.4 149.6h0.9v0.9h-0.9zM372.5 154.0h0.9v0.9h-0.9zM369.4 149.9h0.9v0.9h-0.9zM368.3 149.7h0.9v0.9h-0.9zM368.1 154.5h0.9v0.9h-0.9zM366.4 152.3h0.9v0.9h-0.9zM369.5 163.6h0.9v0.9h-0.9zM365.4 165.7h0.9v0.9h-0.9zM364.5 157.9h0.9v0.9h-0.9zM366.4 151.2h0.9v0.9h-0.9zM369.3 165.7h0.9v0.9h-0.9zM367.2 144.4h0.9v0.9h-0.9zM368.4 145.1h0.9v0.9h-0.9zM370.3 164.6h0.9v0.9h-0.9zM374.4 167.0h0.9v0.9h-0.9zM370.8 158.0h0.9v0.9h-0.9zM364.9 150.2h0.9v0.9h-0.9zM362.9 155.8h0.9v0.9h-0.9zM367.0 163.9h0.9v0.9h-0.9zM362.4 153.9h0.9v0.9h-0.9zM368.6 154.4h0.9v0.9h-0.9zM364.1 149.2h0.9v0.9h-0.9zM369.5 150.9h0.9v0.9h-0.9zM370.9 166.0h0.9v0.9h-0.9zM367.1 150.9h0.9v0.9h-0.9zM363.5 151.5h0.9v0.9h-0.9zM363.8 163.8h0.9v0.9h-0.9zM365.2 150.9h0.9v0.9h-0.9zM369.7 158.4h0.9v0.9h-0.9zM369.8 150.2h0.9v0.9h-0.9zM373.3 162.8h0.9v0.9h-0.9zM368.2 166.4h0.9v0.9h-0.9zM368.0 151.0h0.9v0.9h-0.9zM366.0 153.8h0.9v0.9h-0.9zM361.8 165.7h0.9v0.9h-0.9zM367.9 156.7h0.9v0.9h-0.9zM367.4 155.6h0.9v0.9h-0.9zM368.6 163.6h0.9v0.9h-0.9zM375.2 161.1h0.9v0.9h-0.9z" fill="#000" fill-opacity="0.8"/>
<path d="M374.9 165.7h0.9v0.9h-0.9zM373.1 157.5h0.9v0.9h-0.9zM365.6 143.8h0.9v0.9h-0.9zM368.1 155.9h0.9v0.9h-0.9zM368.4 162.3h0.9v0.9h-0.9zM361.3 153.0h0.9v0.9h-0.9zM363.4 162.8h0.9v0.9h-0.9zM374.1 159.4h0.9v0.9h-0.9zM374.3 153.2h0.9v0.9h-0.9zM370.3 151.5h0.9v0.9h-0.9zM368.0 153.3h0.9v0.9h-0.9zM371.7 155.5h0.9v0.9h-0.9zM371.4 158.7h0.9v0.9h-0.9zM375.4 158.0h0.9v0.9h-0.9zM366.6 153.0h0.9v0.9h-0.9zM367.5 155.5h0.9v0.9h-0.9zM367.4 157.8h0.9v0.9h-0.9zM379.2 143.7h0.9v0.9h-0.9zM374.0 149.7h0.9v0.9h-0.9zM363.7 149.5h0.9v0.9h-0.9zM366.9 153.7h0.9v0.9h-0.9zM364.9 153.2h0.9v0.9h-0.9zM368.8 153.3h0.9v0.9h-0.9zM370.0 149.0h0.9v0.9h-0.9zM381.4 159.8h0.9v0.9h-0.9zM374.5 143.6h0.9v0.9h-0.9zM371.2 155.2h0.9v0.9h-0.9zM364.9 147.2h0.9v0.9h-0.9zM368.0 167.0h0.9v0.9h-0.9zM366.0 151.9h0.9v0.9h-0.9zM369.1 152.3h0.9v0.9h-0.9zM374.3 155.7h0.9v0.9h-0.9zM376.0 154.7h0.9v0.9h-0.9zM366.7 165.9h0.9v0.9h-0.9zM377.1 156.7h0.9v0.9h-0.9zM371.1 161.0h0.9v0.9h-0.9zM375.6 163.0h0.9v0.9h-0.9zM371.9 148.3h0.9v0.9h-0.9zM374.8 166.9h0.9v0.9h-0.9zM369.1 159.9h0.9v0.9h-0.9zM364.2 161.8h0.9v0.9h-0.9zM372.5 149.1h0.9v0.9h-0.9zM372.7 160.8h0.9v0.9h-0.9zM380.4 158.0h0.9v0.9h-0.9zM374.7 159.1h0.9v0.9h-0.9zM361.9 153.5h0.9v0.9h-0.9zM367.6 156.5h0.9v0.9h-0.9zM380.5 161.5h0.9v0.9h-0.9zM376.6 163.0h0.9v0.9h-0.9zM364.0 159.2h0.9v0.9h-0.9zM376.7 163.7h0.9v0.9h-0.9zM375.3 165.4h0.9v0.9h-0.9zM373.1 146.5h0.9v0.9h-0.9zM370.9 151.7h0.9v0.9h-0.9zM370.1 148.6h0.9v0.9h-0.9zM364.0 155.8h0.9v0.9h-0.9zM366.0 165.2h0.9v0.9h-0.9zM372.9 159.7h0.9v0.9h-0.9zM369.6 147.8h0.9v0.9h-0.9zM379.0 153.1h0.9v0.9h-0.9zM367.0 162.3h0.9v0.9h-0.9zM367.0 154.5h0.9v0.9h-0.9zM370.4 157.3h0.9v0.9h-0.9zM369.2 160.6h0.9v0.9h-0.9zM364.3 157.5h0.9v0.9h-0.9zM377.1 159.1h0.9v0.9h-0.9zM365.2 148.3h0.9v0.9h-0.9zM372.8 149.8h0.9v0.9h-0.9zM367.3 151.0h0.9v0.9h-0.9zM362.3 156.9h0.9v0.9h-0.9zM376.6 155.6h0.9v0.9h-0.9zM364.2 167.7h0.9v0.9h-0.9zM371.2 164.3h0.9v0.9h-0.9zM366.9 150.1h0.9v0.9h-0.9zM373.0 150.6h0.9v0.9h-0.9zM368.3 167.2h0.9v0.9h-0.9zM366.4 152.9h0.9v0.9h-0.9zM380.8 164.8h0.9v0.9h-0.9zM367.7 166.3h0.9v0.9h-0.9zM368.0 151.3h0.9v0.9h-0.9zM362.9 153.3h0.9v0.9h-0.9zM364.8 155.7h0.9v0.9h-0.9zM372.4 149.1h0.9v0.9h-0.9zM372.0 148.3h0.9v0.9h-0.9zM368.9 152.3h0.9v0.9h-0.9zM365.0 161.1h0.9v0.9h-0.9zM372.7 152.0h0.9v0.9h-0.9zM367.0 151.9h0.9v0.9h-0.9zM367.5 145.6h0.9v0.9h-0.9zM364.2 165.5h0.9v0.9h-0.9zM365.2 150.6h0.9v0.9h-0.9zM364.5 159.1h0.9v0.9h-0.9zM378.8 145.4h0.9v0.9h-0.9zM373.0 159.4h0.9v0.9h-0.9zM375.5 163.9h0.9v0.9h-0.9zM369.2 149.1h0.9v0.9h-0.9zM374.2 156.6h0.9v0.9h-0.9zM373.2 147.4h0.9v0.9h-0.9zM375.6 158.7h0.9v0.9h-0.9zM382.0 155.8h0.9v0.9h-0.9zM367.7 156.6h0.9v0.9h-0.9zM370.4 164.7h0.9v0.9h-0.9zM368.7 158.4h0.9v0.9h-0.9zM361.3 159.6h0.9v0.9h-0.9zM369.1 146.7h0.9v0.9h-0.9zM372.4 157.0h0.9v0.9h-0.9zM365.8 158.6h0.9v0.9h-0.9zM375.2 145.0h0.9v0.9h-0.9zM376.0 164.5h0.9v0.9h-0.9zM366.7 155.6h0.9v0.9h-0.9zM376.8 157.7h0.9v0.9h-0.9zM378.6 148.9h0.9v0.9h-0.9zM371.5 155.6h0.9v0.9h-0.9zM363.6 157.2h0.9v0.9h-0.9zM377.1 152.9h0.9v0.9h-0.9zM368.1 155.7h0.9v0.9h-0.9zM369.6 164.7h0.9v0.9h-0.9zM366.0 147.3h0.9v0.9h-0.9zM373.3 148.4h0.9v0.9h-0.9zM375.7 149.3h0.9v0.9h-0.9zM372.2 158.9h0.9v0.9h-0.9zM364.6 148.7h0.9v0.9h-0.9zM368.1 157.1h0.9v0.9h-0.9zM373.8 148.4h0.9v0.9h-0.9zM385.1 158.9h0.9v0.9h-0.9zM365.8 148.0h0.9v0.9h-0.9zM375.3 159.8h0.9v0.9h-0.9zM373.1 148.4h0.9v0.9h-0.9zM368.8 159.2h0.9v0.9h-0.9zM367.7 159.9h0.9v0.9h-0.9zM371.3 144.0h0.9v0.9h-0.9zM373.6 147.2h0.9v0.9h-0.9zM373.2 147.0h0.9v0.9h-0.9zM367.3 144.6h0.9v0.9h-0.9zM371.4 150.0h0.9v0.9h-0.9zM373.6 148.4h0.9v0.9h-0.9zM373.2 145.0h0.9v0.9h-0.9zM364.1 158.9h0.9v0.9h-0.9zM364.7 145.9h0.9v0.9h-0.9zM367.7 151.2h0.9v0.9h-0.9zM370.0 155.2h0.9v0.9h-0.9zM374.1 153.5h0.9v0.9h-0.9zM372.4 150.2h0.9v0.9h-0.9zM368.3 160.8h0.9v0.9h-0.9zM369.1 161.0h0.9v0.9h-0.9zM378.7 159.8h0.9v0.9h-0.9zM365.6 153.6h0.9v0.9h-0.9zM377.6 167.3h0.9v0.9h-0.9zM370.9 152.3h0.9v0.9h-0.9zM371.1 163.4h0.9v0.9h-0.9zM366.9 149.5h0.9v0.9h-0.9zM368.4 157.9h0.9v0.9h-0.9zM374.8 155.4h0.9v0.9h-0.9zM371.6 150.2h0.9v0.9h-0.9zM367.5 153.5h0.9v0.9h-0.9zM373.9 144.1h0.9v0.9h-0.9zM371.4 151.3h0.9v0.9h-0.9zM370.4 165.6h0.9v0.9h-0.9zM367.1 163.7h0.9v0.9h-0.9zM366.5 157.2h0.9v0.9h-0.9zM369.1 162.1h0.9v0.9h-0.9zM363.8 164.0h0.9v0.9h-0.9zM362.1 162.2h0.9v0.9h-0.9zM376.2 161.5h0.9v0.9h-0.9zM367.7 148.7h0.9v0.9h-0.9zM368.9 158.1h0.9v0.9h-0.9zM368.3 151.3h0.9v0.9h-0.9zM369.1 146.8h0.9v0.9h-0.9zM369.1 147.1h0.9v0.9h-0.9zM369.4 158.0h0.9v0.9h-0.9zM364.6 162.4h0.9v0.9h-0.9zM374.1 145.5h0.9v0.9h-0.9zM365.2 167.3h0.9v0.9h-0.9zM374.7 165.3h0.9v0.9h-0.9zM363.2 151.8h0.9v0.9h-0.9zM374.5 154.5h0.9v0.9h-0.9zM368.2 161.9h0.9v0.9h-0.9zM365.3 152.3h0.9v0.9h-0.9zM371.1 147.3h0.9v0.9h-0.9zM363.2 157.4h0.9v0.9h-0.9zM366.5 163.1h0.9v0.9h-0.9zM365.4 157.1h0.9v0.9h-0.9zM372.0 160.5h0.9v0.9h-0.9zM373.8 158.5h0.9v0.9h-0.9zM364.3 160.1h0.9v0.9h-0.9zM377.8 156.0h0.9v0.9h-0.9zM365.7 149.2h0.9v0.9h-0.9zM377.5 163.8h0.9v0.9h-0.9zM368.5 166.4h0.9v0.9h-0.9zM365.4 157.9h0.9v0.9h-0.9zM364.9 149.7h0.9v0.9h-0.9zM363.0 149.9h0.9v0.9h-0.9zM376.4 153.7h0.9v0.9h-0.9zM368.5 164.7h0.9v0.9h-0.9zM378.8 157.3h0.9v0.9h-0.9zM367.9 154.6h0.9v0.9h-0.9zM373.6 161.2h0.9v0.9h-0.9zM367.0 157.0h0.9v0.9h-0.9zM367.7 154.6h0.9v0.9h-0.9zM377.6 155.7h0.9v0.9h-0.9zM367.6 166.8h0.9v0.9h-0.9zM375.4 153.9h0.9v0.9h-0.9zM369.0 166.8h0.9v0.9h-0.9zM364.9 163.7h0.9v0.9h-0.9zM371.8 155.4h0.9v0.9h-0.9zM365.7 161.2h0.9v0.9h-0.9zM375.8 154.1h0.9v0.9h-0.9zM374.3 149.2h0.9v0.9h-0.9zM369.3 153.1h0.9v0.9h-0.9zM372.4 148.6h0.9v0.9h-0.9zM372.1 158.6h0.9v0.9h-0.9zM367.5 155.1h0.9v0.9h-0.9zM373.9 159.0h0.9v0.9h-0.9zM367.7 160.8h0.9v0.9h-0.9zM363.8 157.2h0.9v0.9h-0.9zM371.3 156.2h0.9v0.9h-0.9zM364.7 148.9h0.9v0.9h-0.9zM366.7 155.7h0.9v0.9h-0.9zM366.1 164.6h0.9v0.9h-0.9zM373.0 143.0h0.9v0.9h-0.9zM365.1 156.3h0.9v0.9h-0.9zM371.4 154.5h0.9v0.9h-0.9z" fill="#000" fill-opacity="0.5"/>
<path d="M365.0 167.6h0.9v0.9h-0.9zM387.8 163.7h0.9v0.9h-0.9zM382.3 147.9h0.9v0.9h-0.9zM377.4 160.3h0.9v0.9h-0.9zM375.5 162.9h0.9v0.9h-0.9zM378.5 160.7h0.9v0.9h-0.9zM373.6 159.9h0.9v0.9h-0.9zM378.7 156.2h0.9v0.9h-0.9zM378.5 162.2h0.9v0.9h-0.9zM381.3 159.4h0.9v0.9h-0.9zM372.6 159.5h0.9v0.9h-0.9zM386.9 160.6h0.9v0.9h-0.9zM377.6 164.9h0.9v0.9h-0.9zM369.8 162.2h0.9v0.9h-0.9zM374.7 155.0h0.9v0.9h-0.9zM378.5 160.3h0.9v0.9h-0.9zM389.6 163.4h0.9v0.9h-0.9zM386.4 158.7h0.9v0.9h-0.9zM379.0 166.7h0.9v0.9h-0.9zM382.2 164.9h0.9v0.9h-0.9zM383.9 156.0h0.9v0.9h-0.9zM400.3 162.6h0.9v0.9h-0.9zM388.5 160.7h0.9v0.9h-0.9zM373.4 165.5h0.9v0.9h-0.9zM383.7 157.6h0.9v0.9h-0.9zM383.5 153.8h0.9v0.9h-0.9zM377.8 163.8h0.9v0.9h-0.9zM387.1 162.2h0.9v0.9h-0.9zM391.3 163.6h0.9v0.9h-0.9zM392.2 160.9h0.9v0.9h-0.9zM380.3 162.6h0.9v0.9h-0.9zM383.7 158.4h0.9v0.9h-0.9zM403.2 163.4h0.9v0.9h-0.9zM372.1 165.2h0.9v0.9h-0.9zM384.0 160.7h0.9v0.9h-0.9zM390.0 165.1h0.9v0.9h-0.9zM383.4 152.1h0.9v0.9h-0.9zM387.9 157.1h0.9v0.9h-0.9zM393.5 162.3h0.9v0.9h-0.9zM380.0 160.5h0.9v0.9h-0.9zM383.8 154.7h0.9v0.9h-0.9zM381.5 162.8h0.9v0.9h-0.9zM378.4 164.9h0.9v0.9h-0.9zM381.8 153.6h0.9v0.9h-0.9zM371.8 163.8h0.9v0.9h-0.9zM388.7 163.5h0.9v0.9h-0.9zM397.3 163.2h0.9v0.9h-0.9zM397.3 155.4h0.9v0.9h-0.9zM393.5 163.7h0.9v0.9h-0.9zM373.3 153.5h0.9v0.9h-0.9zM375.6 161.7h0.9v0.9h-0.9zM381.5 155.2h0.9v0.9h-0.9zM398.6 167.7h0.9v0.9h-0.9zM372.4 166.8h0.9v0.9h-0.9zM389.6 157.7h0.9v0.9h-0.9zM380.6 156.0h0.9v0.9h-0.9zM374.1 162.6h0.9v0.9h-0.9zM385.8 166.9h0.9v0.9h-0.9zM377.8 149.6h0.9v0.9h-0.9zM391.4 166.0h0.9v0.9h-0.9zM393.0 160.7h0.9v0.9h-0.9zM369.6 160.9h0.9v0.9h-0.9zM377.5 155.6h0.9v0.9h-0.9zM379.1 162.7h0.9v0.9h-0.9zM371.4 155.5h0.9v0.9h-0.9zM371.9 156.2h0.9v0.9h-0.9zM382.8 158.8h0.9v0.9h-0.9zM380.1 154.9h0.9v0.9h-0.9zM377.2 154.4h0.9v0.9h-0.9zM386.7 157.2h0.9v0.9h-0.9zM371.1 159.4h0.9v0.9h-0.9zM373.7 161.0h0.9v0.9h-0.9zM396.3 165.0h0.9v0.9h-0.9zM393.9 165.1h0.9v0.9h-0.9zM367.4 159.5h0.9v0.9h-0.9zM369.8 159.1h0.9v0.9h-0.9zM385.4 161.2h0.9v0.9h-0.9zM371.3 165.1h0.9v0.9h-0.9zM379.7 164.5h0.9v0.9h-0.9zM377.9 158.4h0.9v0.9h-0.9zM387.0 150.7h0.9v0.9h-0.9zM362.2 165.8h0.9v0.9h-0.9zM371.0 162.3h0.9v0.9h-0.9zM391.1 162.7h0.9v0.9h-0.9zM380.6 158.4h0.9v0.9h-0.9zM366.6 156.0h0.9v0.9h-0.9zM386.4 159.3h0.9v0.9h-0.9zM388.4 159.9h0.9v0.9h-0.9zM379.8 157.9h0.9v0.9h-0.9zM379.0 153.7h0.9v0.9h-0.9zM385.9 159.4h0.9v0.9h-0.9zM392.9 163.9h0.9v0.9h-0.9zM383.4 158.5h0.9v0.9h-0.9zM386.8 161.1h0.9v0.9h-0.9zM381.6 150.6h0.9v0.9h-0.9zM378.6 160.0h0.9v0.9h-0.9zM373.8 160.4h0.9v0.9h-0.9zM384.3 154.9h0.9v0.9h-0.9zM379.3 152.4h0.9v0.9h-0.9zM379.8 163.1h0.9v0.9h-0.9zM390.4 157.0h0.9v0.9h-0.9zM386.4 163.4h0.9v0.9h-0.9zM389.8 158.9h0.9v0.9h-0.9zM367.8 164.1h0.9v0.9h-0.9zM387.0 159.3h0.9v0.9h-0.9zM376.7 153.5h0.9v0.9h-0.9zM374.7 160.6h0.9v0.9h-0.9zM374.3 159.4h0.9v0.9h-0.9zM392.9 164.3h0.9v0.9h-0.9zM389.5 158.7h0.9v0.9h-0.9zM375.5 159.0h0.9v0.9h-0.9zM371.8 165.3h0.9v0.9h-0.9zM382.1 166.8h0.9v0.9h-0.9zM377.9 164.8h0.9v0.9h-0.9zM396.9 166.2h0.9v0.9h-0.9zM368.8 163.3h0.9v0.9h-0.9zM365.5 164.9h0.9v0.9h-0.9zM379.7 165.4h0.9v0.9h-0.9zM382.1 163.0h0.9v0.9h-0.9zM383.2 161.3h0.9v0.9h-0.9zM388.8 161.7h0.9v0.9h-0.9zM378.9 161.1h0.9v0.9h-0.9zM377.1 159.8h0.9v0.9h-0.9zM366.2 159.2h0.9v0.9h-0.9zM384.2 160.8h0.9v0.9h-0.9zM389.7 162.2h0.9v0.9h-0.9zM379.7 155.3h0.9v0.9h-0.9zM392.6 151.1h0.9v0.9h-0.9zM382.3 162.5h0.9v0.9h-0.9zM395.6 153.0h0.9v0.9h-0.9zM385.0 162.3h0.9v0.9h-0.9zM372.5 161.7h0.9v0.9h-0.9zM376.3 166.8h0.9v0.9h-0.9zM366.4 162.8h0.9v0.9h-0.9zM384.4 158.2h0.9v0.9h-0.9zM389.8 155.1h0.9v0.9h-0.9zM399.6 157.0h0.9v0.9h-0.9zM381.5 161.2h0.9v0.9h-0.9zM379.9 150.7h0.9v0.9h-0.9zM372.0 161.4h0.9v0.9h-0.9zM390.9 160.9h0.9v0.9h-0.9zM385.5 164.2h0.9v0.9h-0.9zM376.6 159.3h0.9v0.9h-0.9zM388.2 161.5h0.9v0.9h-0.9zM387.1 157.3h0.9v0.9h-0.9zM365.2 158.7h0.9v0.9h-0.9zM388.7 152.1h0.9v0.9h-0.9zM383.2 161.6h0.9v0.9h-0.9zM378.2 161.8h0.9v0.9h-0.9zM397.7 162.8h0.9v0.9h-0.9zM395.8 156.1h0.9v0.9h-0.9zM371.7 157.2h0.9v0.9h-0.9zM376.1 165.0h0.9v0.9h-0.9zM390.1 161.5h0.9v0.9h-0.9zM371.1 156.2h0.9v0.9h-0.9zM375.5 166.1h0.9v0.9h-0.9zM365.8 161.1h0.9v0.9h-0.9zM398.7 161.9h0.9v0.9h-0.9zM391.6 163.3h0.9v0.9h-0.9zM386.1 160.9h0.9v0.9h-0.9zM384.0 159.1h0.9v0.9h-0.9zM378.2 163.3h0.9v0.9h-0.9zM378.4 159.0h0.9v0.9h-0.9zM387.5 161.3h0.9v0.9h-0.9zM375.6 157.7h0.9v0.9h-0.9zM393.0 153.5h0.9v0.9h-0.9zM377.6 157.6h0.9v0.9h-0.9zM374.1 158.5h0.9v0.9h-0.9zM393.7 161.1h0.9v0.9h-0.9zM380.7 166.9h0.9v0.9h-0.9zM387.0 152.6h0.9v0.9h-0.9zM378.3 161.6h0.9v0.9h-0.9zM361.7 149.9h0.9v0.9h-0.9zM386.9 155.8h0.9v0.9h-0.9zM369.9 158.5h0.9v0.9h-0.9zM391.7 149.7h0.9v0.9h-0.9zM368.0 151.7h0.9v0.9h-0.9zM365.2 161.8h0.9v0.9h-0.9zM384.8 161.4h0.9v0.9h-0.9zM385.8 160.4h0.9v0.9h-0.9zM383.0 157.0h0.9v0.9h-0.9zM390.0 160.2h0.9v0.9h-0.9zM368.8 156.7h0.9v0.9h-0.9zM374.9 164.1h0.9v0.9h-0.9zM378.6 159.1h0.9v0.9h-0.9zM389.7 167.0h0.9v0.9h-0.9zM376.3 161.8h0.9v0.9h-0.9zM387.1 164.2h0.9v0.9h-0.9zM388.2 162.2h0.9v0.9h-0.9zM366.6 155.9h0.9v0.9h-0.9zM371.5 165.9h0.9v0.9h-0.9zM378.5 161.8h0.9v0.9h-0.9zM376.7 156.0h0.9v0.9h-0.9zM384.8 157.2h0.9v0.9h-0.9zM364.6 165.8h0.9v0.9h-0.9zM388.5 159.2h0.9v0.9h-0.9zM388.7 161.2h0.9v0.9h-0.9zM380.5 164.3h0.9v0.9h-0.9zM369.6 161.6h0.9v0.9h-0.9zM382.1 153.4h0.9v0.9h-0.9zM377.2 164.2h0.9v0.9h-0.9zM387.1 165.7h0.9v0.9h-0.9zM381.2 165.3h0.9v0.9h-0.9zM378.1 162.8h0.9v0.9h-0.9zM395.0 164.9h0.9v0.9h-0.9zM372.9 159.5h0.9v0.9h-0.9zM388.6 164.9h0.9v0.9h-0.9zM382.8 165.3h0.9v0.9h-0.9zM373.8 156.6h0.9v0.9h-0.9zM378.0 166.7h0.9v0.9h-0.9zM383.6 162.6h0.9v0.9h-0.9zM381.1 163.1h0.9v0.9h-0.9zM378.6 161.8h0.9v0.9h-0.9zM401.4 167.8h0.9v0.9h-0.9zM382.1 163.8h0.9v0.9h-0.9zM373.3 157.5h0.9v0.9h-0.9zM390.3 163.4h0.9v0.9h-0.9zM389.4 164.6h0.9v0.9h-0.9zM393.0 157.4h0.9v0.9h-0.9zM398.1 158.8h0.9v0.9h-0.9zM373.5 159.1h0.9v0.9h-0.9zM391.5 158.0h0.9v0.9h-0.9zM392.3 162.7h0.9v0.9h-0.9zM382.0 166.1h0.9v0.9h-0.9zM376.8 166.1h0.9v0.9h-0.9zM398.1 166.7h0.9v0.9h-0.9zM365.9 167.7h0.9v0.9h-0.9zM377.2 159.1h0.9v0.9h-0.9zM384.6 164.5h0.9v0.9h-0.9zM387.2 162.6h0.9v0.9h-0.9zM396.7 160.4h0.9v0.9h-0.9zM366.1 158.7h0.9v0.9h-0.9zM382.4 158.5h0.9v0.9h-0.9zM389.7 159.7h0.9v0.9h-0.9zM370.2 154.8h0.9v0.9h-0.9zM381.6 163.6h0.9v0.9h-0.9zM399.0 160.9h0.9v0.9h-0.9z" fill="#000" fill-opacity="0.3"/>
<path d="M393.9 156.5h0.9v0.9h-0.9zM403.6 150.2h0.9v0.9h-0.9zM399.5 166.4h0.9v0.9h-0.9zM394.2 161.7h0.9v0.9h-0.9zM377.7 155.2h0.9v0.9h-0.9zM393.7 158.6h0.9v0.9h-0.9zM400.5 167.3h0.9v0.9h-0.9zM396.0 161.4h0.9v0.9h-0.9zM378.6 163.2h0.9v0.9h-0.9zM387.7 163.3h0.9v0.9h-0.9zM394.8 162.4h0.9v0.9h-0.9zM396.3 152.1h0.9v0.9h-0.9zM397.1 159.6h0.9v0.9h-0.9zM385.7 167.5h0.9v0.9h-0.9zM392.9 152.5h0.9v0.9h-0.9zM381.2 151.0h0.9v0.9h-0.9zM402.9 151.0h0.9v0.9h-0.9zM403.1 151.3h0.9v0.9h-0.9zM375.9 153.1h0.9v0.9h-0.9zM391.9 164.6h0.9v0.9h-0.9zM396.5 161.4h0.9v0.9h-0.9zM381.9 163.9h0.9v0.9h-0.9zM376.0 160.6h0.9v0.9h-0.9zM375.1 156.7h0.9v0.9h-0.9zM396.2 164.9h0.9v0.9h-0.9zM375.4 153.2h0.9v0.9h-0.9zM386.6 156.8h0.9v0.9h-0.9zM399.0 157.9h0.9v0.9h-0.9zM376.6 162.9h0.9v0.9h-0.9zM396.2 164.5h0.9v0.9h-0.9zM387.9 160.8h0.9v0.9h-0.9zM386.7 161.6h0.9v0.9h-0.9zM389.5 155.3h0.9v0.9h-0.9zM385.6 161.3h0.9v0.9h-0.9zM400.9 166.0h0.9v0.9h-0.9zM395.1 158.3h0.9v0.9h-0.9zM386.6 164.3h0.9v0.9h-0.9zM378.6 159.7h0.9v0.9h-0.9zM390.1 159.7h0.9v0.9h-0.9zM405.0 161.6h0.9v0.9h-0.9zM401.7 152.7h0.9v0.9h-0.9zM377.0 154.1h0.9v0.9h-0.9zM385.7 153.3h0.9v0.9h-0.9zM389.1 160.2h0.9v0.9h-0.9zM387.2 162.7h0.9v0.9h-0.9zM378.4 163.4h0.9v0.9h-0.9zM380.6 154.0h0.9v0.9h-0.9zM391.0 156.3h0.9v0.9h-0.9zM396.6 152.8h0.9v0.9h-0.9zM396.5 162.4h0.9v0.9h-0.9zM395.2 158.0h0.9v0.9h-0.9zM395.2 155.2h0.9v0.9h-0.9zM375.3 154.3h0.9v0.9h-0.9zM381.5 168.0h0.9v0.9h-0.9zM385.1 159.2h0.9v0.9h-0.9zM386.6 156.1h0.9v0.9h-0.9zM387.0 154.1h0.9v0.9h-0.9z" fill="#000" fill-opacity="0.3"/>
<ellipse cx="366" cy="162" rx="4" ry="8" fill="#000" fill-opacity="0.6"/>
<rect x="293" y="140" width="29.5" height="18.4" fill="none" stroke="#555" stroke-width="1"/>
<rect x="361" y="140" width="30.4" height="18.6" fill="none" stroke="#555" stroke-width="1"/>
<rect x="292.6" y="119.5" width="50.4" height="50.1" fill="none" stroke="#000" stroke-width="1.2"/>
<rect x="360.6" y="119.5" width="48.6" height="50.1" fill="none" stroke="#000" stroke-width="1.2"/>
<text id="t_v139" x="309.38" y="135.88" font-size="8.53" text-anchor="middle">13.9</text>
<text id="t_v372" x="375.87" y="135.16" font-size="9.75" text-anchor="middle">37.2</text>
<text id="t_cd40l" x="289.51" y="148.97" font-size="9.19" text-anchor="middle" transform="rotate(-90 289.51 148.97)">CD40L</text>
<line x1="296.20" y1="178.10" x2="372.00" y2="178.10" stroke="#000" stroke-width="1.5"/>
<path d="M370.5 174.9 L377.6 178.1 L370.5 181.3 Z" fill="#000"/>
<text id="t_cfse2" x="381.55" y="180.86" font-size="9.46" text-anchor="start">CFSE</text>
<line x1="464.10" y1="172.00" x2="464.10" y2="107.80" stroke="#000" stroke-width="1.6"/>
<line x1="462.50" y1="163.53" x2="464.10" y2="163.53" stroke="#000" stroke-width="0.9"/>
<line x1="462.50" y1="147.78" x2="464.10" y2="147.78" stroke="#000" stroke-width="0.9"/>
<line x1="462.50" y1="132.03" x2="464.10" y2="132.03" stroke="#000" stroke-width="0.9"/>
<line x1="462.50" y1="116.28" x2="464.10" y2="116.28" stroke="#000" stroke-width="0.9"/>
<line x1="460.50" y1="171.40" x2="464.10" y2="171.40" stroke="#000" stroke-width="1.1"/>
<text x="458.10" y="175.06" font-size="9.1" text-anchor="end">0</text>
<line x1="460.50" y1="155.65" x2="464.10" y2="155.65" stroke="#000" stroke-width="1.1"/>
<text x="458.10" y="159.31" font-size="9.1" text-anchor="end">10</text>
<line x1="460.50" y1="139.90" x2="464.10" y2="139.90" stroke="#000" stroke-width="1.1"/>
<text x="458.10" y="143.56" font-size="9.1" text-anchor="end">20</text>
<line x1="460.50" y1="124.15" x2="464.10" y2="124.15" stroke="#000" stroke-width="1.1"/>
<text x="458.10" y="127.81" font-size="9.1" text-anchor="end">30</text>
<line x1="460.50" y1="108.40" x2="464.10" y2="108.40" stroke="#000" stroke-width="1.1"/>
<text x="458.10" y="112.06" font-size="9.1" text-anchor="end">40</text>
<line x1="463.50" y1="171.40" x2="503.00" y2="171.40" stroke="#000" stroke-width="1.6"/>
<line x1="473.90" y1="171.40" x2="473.90" y2="174.20" stroke="#000" stroke-width="1"/>
<rect x="467.90" y="147.30" width="12.00" height="24.10" fill="#fff" stroke="#000" stroke-width="1.2"/>
<line x1="473.90" y1="149.04" x2="473.90" y2="145.57" stroke="#000" stroke-width="1.4"/>
<line x1="470.30" y1="145.57" x2="477.50" y2="145.57" stroke="#000" stroke-width="1.5"/>
<line x1="470.30" y1="149.04" x2="477.50" y2="149.04" stroke="#000" stroke-width="1.3"/>
<line x1="493.50" y1="171.40" x2="493.50" y2="174.20" stroke="#000" stroke-width="1"/>
<rect x="487.30" y="116.43" width="12.40" height="54.97" fill="#111" stroke="#000" stroke-width="1.2"/>
<line x1="493.50" y1="119.90" x2="493.50" y2="112.97" stroke="#000" stroke-width="1.4"/>
<line x1="489.90" y1="112.97" x2="497.10" y2="112.97" stroke="#000" stroke-width="1.5"/>
<line x1="489.90" y1="119.90" x2="497.10" y2="119.90" stroke="#000" stroke-width="1.3"/>
<line x1="472.80" y1="108.20" x2="491.20" y2="108.20" stroke="#000" stroke-width="1.6"/>
<path d="M478.95 101.45L478.95 106.35M476.83 102.68L481.07 105.12M476.83 105.12L481.07 102.68M485.05 101.45L485.05 106.35M482.93 102.68L487.17 105.12M482.93 105.12L487.17 102.68" stroke="#333" stroke-width="1.35" fill="none"/>
<text id="t_pcd40l" x="445.75" y="137.79" font-size="9.40" text-anchor="middle" transform="rotate(-90 445.75 137.79)">% CD40L</text>
<text id="t_gdiv" x="298.18" y="198.03" font-size="9.79" text-anchor="start" xml:space="preserve">Gated on divided  CD4</text>
<line x1="298.00" y1="199.00" x2="403.20" y2="199.00" stroke="#000" stroke-width="1.0"/>
<text id="t_r3a" x="318.60" y="210.61" font-size="8.81" text-anchor="middle">CD4 only</text>
<text id="t_r3b" x="386.98" y="210.36" font-size="8.14" text-anchor="middle">Cy/CD4</text>
<path d="M309.5 249.8h0.9v0.9h-0.9zM300.8 243.5h0.9v0.9h-0.9zM292.9 236.7h0.9v0.9h-0.9zM303.3 249.4h0.9v0.9h-0.9zM298.0 242.2h0.9v0.9h-0.9zM292.6 245.4h0.9v0.9h-0.9zM297.9 244.2h0.9v0.9h-0.9zM305.4 252.5h0.9v0.9h-0.9zM306.1 244.2h0.9v0.9h-0.9zM303.9 250.9h0.9v0.9h-0.9zM295.9 247.5h0.9v0.9h-0.9zM312.0 244.1h0.9v0.9h-0.9zM295.4 242.6h0.9v0.9h-0.9zM300.3 251.7h0.9v0.9h-0.9zM294.2 251.4h0.9v0.9h-0.9zM306.6 253.1h0.9v0.9h-0.9zM302.7 257.9h0.9v0.9h-0.9zM304.7 250.8h0.9v0.9h-0.9zM301.1 250.9h0.9v0.9h-0.9zM300.4 249.1h0.9v0.9h-0.9zM301.5 250.1h0.9v0.9h-0.9zM292.2 248.0h0.9v0.9h-0.9zM305.1 245.6h0.9v0.9h-0.9zM304.8 258.6h0.9v0.9h-0.9zM298.9 241.2h0.9v0.9h-0.9zM300.6 250.7h0.9v0.9h-0.9zM302.0 251.6h0.9v0.9h-0.9zM307.7 250.2h0.9v0.9h-0.9zM302.6 245.2h0.9v0.9h-0.9zM300.9 248.7h0.9v0.9h-0.9zM298.4 247.5h0.9v0.9h-0.9zM293.9 244.7h0.9v0.9h-0.9zM298.0 249.3h0.9v0.9h-0.9zM301.0 247.7h0.9v0.9h-0.9zM299.6 247.1h0.9v0.9h-0.9zM301.0 252.6h0.9v0.9h-0.9zM304.0 244.8h0.9v0.9h-0.9zM302.7 251.5h0.9v0.9h-0.9zM301.9 246.8h0.9v0.9h-0.9zM303.7 251.4h0.9v0.9h-0.9zM301.5 249.8h0.9v0.9h-0.9zM300.6 250.6h0.9v0.9h-0.9zM302.8 245.1h0.9v0.9h-0.9zM292.9 246.0h0.9v0.9h-0.9zM306.3 245.6h0.9v0.9h-0.9zM294.9 250.3h0.9v0.9h-0.9zM304.5 252.8h0.9v0.9h-0.9zM300.8 254.3h0.9v0.9h-0.9zM305.7 247.2h0.9v0.9h-0.9zM300.9 249.9h0.9v0.9h-0.9zM296.5 242.2h0.9v0.9h-0.9zM305.5 239.5h0.9v0.9h-0.9zM301.5 245.6h0.9v0.9h-0.9zM301.3 246.5h0.9v0.9h-0.9zM301.1 242.5h0.9v0.9h-0.9zM305.2 241.5h0.9v0.9h-0.9zM304.4 251.9h0.9v0.9h-0.9zM301.8 245.8h0.9v0.9h-0.9zM293.7 241.9h0.9v0.9h-0.9zM298.9 259.9h0.9v0.9h-0.9zM301.2 250.2h0.9v0.9h-0.9zM308.8 248.0h0.9v0.9h-0.9zM302.5 252.5h0.9v0.9h-0.9zM300.3 246.0h0.9v0.9h-0.9zM306.1 256.6h0.9v0.9h-0.9zM300.2 242.5h0.9v0.9h-0.9zM300.6 243.6h0.9v0.9h-0.9zM301.4 248.8h0.9v0.9h-0.9zM294.0 246.0h0.9v0.9h-0.9zM305.1 255.7h0.9v0.9h-0.9zM302.7 242.2h0.9v0.9h-0.9zM299.5 246.1h0.9v0.9h-0.9zM295.6 250.5h0.9v0.9h-0.9zM301.7 251.9h0.9v0.9h-0.9zM307.0 253.9h0.9v0.9h-0.9zM297.9 250.9h0.9v0.9h-0.9zM296.0 259.3h0.9v0.9h-0.9zM302.6 247.2h0.9v0.9h-0.9zM293.6 250.2h0.9v0.9h-0.9zM298.8 247.9h0.9v0.9h-0.9zM297.6 248.0h0.9v0.9h-0.9zM299.5 247.3h0.9v0.9h-0.9zM298.3 246.5h0.9v0.9h-0.9zM302.2 244.3h0.9v0.9h-0.9zM299.8 246.9h0.9v0.9h-0.9zM298.1 242.4h0.9v0.9h-0.9zM298.7 251.0h0.9v0.9h-0.9zM303.6 242.2h0.9v0.9h-0.9zM305.1 258.6h0.9v0.9h-0.9zM304.8 256.9h0.9v0.9h-0.9zM303.9 254.3h0.9v0.9h-0.9zM296.3 246.7h0.9v0.9h-0.9zM299.3 254.8h0.9v0.9h-0.9zM301.7 250.1h0.9v0.9h-0.9zM293.5 251.8h0.9v0.9h-0.9zM307.2 246.1h0.9v0.9h-0.9zM302.1 254.1h0.9v0.9h-0.9zM298.0 245.7h0.9v0.9h-0.9zM301.5 249.8h0.9v0.9h-0.9zM299.2 241.5h0.9v0.9h-0.9zM297.3 246.4h0.9v0.9h-0.9zM303.0 251.5h0.9v0.9h-0.9zM298.7 247.3h0.9v0.9h-0.9zM294.4 247.3h0.9v0.9h-0.9zM297.9 252.8h0.9v0.9h-0.9zM300.3 249.0h0.9v0.9h-0.9zM295.9 254.8h0.9v0.9h-0.9zM306.4 238.4h0.9v0.9h-0.9zM295.9 251.8h0.9v0.9h-0.9zM308.7 251.5h0.9v0.9h-0.9zM304.8 242.4h0.9v0.9h-0.9zM296.5 243.5h0.9v0.9h-0.9zM301.4 253.2h0.9v0.9h-0.9zM306.1 244.5h0.9v0.9h-0.9zM299.9 246.4h0.9v0.9h-0.9zM295.4 251.9h0.9v0.9h-0.9zM301.3 247.8h0.9v0.9h-0.9zM309.7 251.4h0.9v0.9h-0.9zM294.1 245.4h0.9v0.9h-0.9zM303.3 250.6h0.9v0.9h-0.9zM300.8 254.1h0.9v0.9h-0.9zM300.3 250.7h0.9v0.9h-0.9zM299.0 239.4h0.9v0.9h-0.9zM299.4 252.2h0.9v0.9h-0.9zM305.5 249.5h0.9v0.9h-0.9zM303.5 245.2h0.9v0.9h-0.9zM296.3 255.5h0.9v0.9h-0.9zM307.8 241.4h0.9v0.9h-0.9zM295.0 257.7h0.9v0.9h-0.9zM303.8 246.4h0.9v0.9h-0.9zM301.6 256.3h0.9v0.9h-0.9zM306.2 249.1h0.9v0.9h-0.9zM302.4 243.3h0.9v0.9h-0.9zM305.6 249.7h0.9v0.9h-0.9zM300.7 250.7h0.9v0.9h-0.9zM305.2 251.7h0.9v0.9h-0.9zM302.4 254.0h0.9v0.9h-0.9zM310.5 245.2h0.9v0.9h-0.9zM297.7 251.5h0.9v0.9h-0.9zM306.2 252.6h0.9v0.9h-0.9zM302.9 248.0h0.9v0.9h-0.9zM301.6 245.1h0.9v0.9h-0.9zM298.3 245.0h0.9v0.9h-0.9zM302.8 252.6h0.9v0.9h-0.9zM294.2 252.8h0.9v0.9h-0.9zM294.7 245.5h0.9v0.9h-0.9zM304.0 243.3h0.9v0.9h-0.9zM293.8 254.8h0.9v0.9h-0.9zM307.3 242.3h0.9v0.9h-0.9zM299.6 250.0h0.9v0.9h-0.9zM302.0 245.6h0.9v0.9h-0.9zM301.2 241.4h0.9v0.9h-0.9zM302.7 249.8h0.9v0.9h-0.9zM299.6 248.4h0.9v0.9h-0.9zM299.2 255.7h0.9v0.9h-0.9zM300.3 259.4h0.9v0.9h-0.9zM305.6 248.4h0.9v0.9h-0.9zM305.9 253.8h0.9v0.9h-0.9zM306.6 253.9h0.9v0.9h-0.9zM302.5 246.9h0.9v0.9h-0.9zM299.9 245.4h0.9v0.9h-0.9zM293.3 256.5h0.9v0.9h-0.9zM303.7 247.6h0.9v0.9h-0.9zM304.6 249.1h0.9v0.9h-0.9zM299.0 247.9h0.9v0.9h-0.9zM304.5 248.7h0.9v0.9h-0.9zM306.6 246.5h0.9v0.9h-0.9zM301.3 252.6h0.9v0.9h-0.9zM305.6 254.9h0.9v0.9h-0.9zM302.2 247.6h0.9v0.9h-0.9zM293.0 243.1h0.9v0.9h-0.9zM298.7 249.5h0.9v0.9h-0.9zM299.0 242.6h0.9v0.9h-0.9zM303.2 246.4h0.9v0.9h-0.9zM297.0 254.8h0.9v0.9h-0.9zM298.9 259.6h0.9v0.9h-0.9zM296.5 250.9h0.9v0.9h-0.9zM300.7 244.5h0.9v0.9h-0.9zM301.2 252.7h0.9v0.9h-0.9zM305.2 239.2h0.9v0.9h-0.9zM304.4 246.1h0.9v0.9h-0.9zM301.6 256.1h0.9v0.9h-0.9zM301.9 252.6h0.9v0.9h-0.9zM301.3 243.1h0.9v0.9h-0.9zM301.4 241.8h0.9v0.9h-0.9zM307.8 253.1h0.9v0.9h-0.9zM300.1 246.6h0.9v0.9h-0.9zM302.3 251.1h0.9v0.9h-0.9zM305.9 246.7h0.9v0.9h-0.9zM295.9 240.6h0.9v0.9h-0.9zM302.4 252.9h0.9v0.9h-0.9zM304.7 246.3h0.9v0.9h-0.9zM298.8 244.8h0.9v0.9h-0.9zM292.3 243.3h0.9v0.9h-0.9zM299.2 250.4h0.9v0.9h-0.9zM295.4 245.6h0.9v0.9h-0.9zM303.8 252.0h0.9v0.9h-0.9zM297.0 248.1h0.9v0.9h-0.9zM308.9 254.1h0.9v0.9h-0.9zM301.5 247.5h0.9v0.9h-0.9zM297.2 246.3h0.9v0.9h-0.9zM298.6 240.4h0.9v0.9h-0.9zM295.9 244.3h0.9v0.9h-0.9zM302.6 252.5h0.9v0.9h-0.9zM307.6 262.9h0.9v0.9h-0.9zM299.9 243.6h0.9v0.9h-0.9zM305.0 244.6h0.9v0.9h-0.9zM296.6 250.8h0.9v0.9h-0.9zM302.2 251.4h0.9v0.9h-0.9zM311.2 246.2h0.9v0.9h-0.9zM294.5 249.6h0.9v0.9h-0.9zM306.4 242.1h0.9v0.9h-0.9zM306.1 247.9h0.9v0.9h-0.9zM292.4 253.3h0.9v0.9h-0.9zM294.4 256.6h0.9v0.9h-0.9zM296.5 248.5h0.9v0.9h-0.9zM305.2 248.1h0.9v0.9h-0.9zM298.9 251.3h0.9v0.9h-0.9zM300.1 254.2h0.9v0.9h-0.9zM304.0 251.4h0.9v0.9h-0.9zM301.4 245.9h0.9v0.9h-0.9zM301.9 250.8h0.9v0.9h-0.9zM299.4 253.6h0.9v0.9h-0.9zM305.9 246.1h0.9v0.9h-0.9zM297.3 243.3h0.9v0.9h-0.9zM308.4 251.5h0.9v0.9h-0.9zM299.3 250.9h0.9v0.9h-0.9zM297.3 253.6h0.9v0.9h-0.9zM303.8 249.7h0.9v0.9h-0.9zM302.9 246.4h0.9v0.9h-0.9zM301.8 244.7h0.9v0.9h-0.9zM294.8 245.0h0.9v0.9h-0.9zM297.1 246.7h0.9v0.9h-0.9zM304.4 247.1h0.9v0.9h-0.9zM297.0 254.3h0.9v0.9h-0.9zM302.4 243.8h0.9v0.9h-0.9zM299.1 249.1h0.9v0.9h-0.9zM309.5 246.6h0.9v0.9h-0.9zM300.4 255.9h0.9v0.9h-0.9zM295.5 250.4h0.9v0.9h-0.9zM295.9 247.6h0.9v0.9h-0.9zM296.7 252.9h0.9v0.9h-0.9zM301.4 249.6h0.9v0.9h-0.9zM300.8 247.1h0.9v0.9h-0.9zM305.2 256.1h0.9v0.9h-0.9zM301.6 252.5h0.9v0.9h-0.9zM301.4 257.0h0.9v0.9h-0.9zM302.3 254.5h0.9v0.9h-0.9zM300.2 252.8h0.9v0.9h-0.9zM302.1 249.9h0.9v0.9h-0.9zM304.3 244.4h0.9v0.9h-0.9zM304.3 252.5h0.9v0.9h-0.9zM298.3 249.6h0.9v0.9h-0.9zM292.8 252.3h0.9v0.9h-0.9zM297.2 249.3h0.9v0.9h-0.9zM302.1 246.2h0.9v0.9h-0.9zM298.6 252.4h0.9v0.9h-0.9zM302.8 255.1h0.9v0.9h-0.9zM298.2 248.0h0.9v0.9h-0.9zM295.8 251.3h0.9v0.9h-0.9zM308.7 255.5h0.9v0.9h-0.9zM307.0 245.6h0.9v0.9h-0.9zM299.6 247.8h0.9v0.9h-0.9zM306.7 244.3h0.9v0.9h-0.9zM306.6 254.6h0.9v0.9h-0.9zM295.7 250.5h0.9v0.9h-0.9zM312.8 247.2h0.9v0.9h-0.9zM296.6 241.9h0.9v0.9h-0.9zM299.6 248.5h0.9v0.9h-0.9zM295.8 253.8h0.9v0.9h-0.9zM301.1 248.0h0.9v0.9h-0.9zM294.8 247.4h0.9v0.9h-0.9zM300.7 252.2h0.9v0.9h-0.9zM305.6 243.8h0.9v0.9h-0.9zM301.7 249.6h0.9v0.9h-0.9zM299.6 252.0h0.9v0.9h-0.9zM307.7 245.8h0.9v0.9h-0.9zM296.7 245.6h0.9v0.9h-0.9zM305.1 250.4h0.9v0.9h-0.9zM299.4 248.9h0.9v0.9h-0.9zM301.7 248.3h0.9v0.9h-0.9zM300.9 250.3h0.9v0.9h-0.9zM301.3 250.3h0.9v0.9h-0.9zM300.5 245.2h0.9v0.9h-0.9zM297.2 246.3h0.9v0.9h-0.9zM298.2 251.3h0.9v0.9h-0.9zM302.7 254.3h0.9v0.9h-0.9zM300.2 255.4h0.9v0.9h-0.9zM295.5 245.5h0.9v0.9h-0.9zM297.5 254.2h0.9v0.9h-0.9zM297.6 252.7h0.9v0.9h-0.9zM300.5 249.2h0.9v0.9h-0.9zM301.5 251.5h0.9v0.9h-0.9zM301.1 253.0h0.9v0.9h-0.9zM297.8 257.3h0.9v0.9h-0.9z" fill="#000" fill-opacity="0.45"/>
<path d="M295.6 256.1h0.9v0.9h-0.9zM303.8 259.3h0.9v0.9h-0.9zM300.1 253.7h0.9v0.9h-0.9zM299.8 243.7h0.9v0.9h-0.9zM306.5 248.5h0.9v0.9h-0.9zM304.9 258.3h0.9v0.9h-0.9zM295.8 251.3h0.9v0.9h-0.9zM299.4 248.1h0.9v0.9h-0.9zM302.0 252.3h0.9v0.9h-0.9zM293.8 255.9h0.9v0.9h-0.9zM305.1 254.4h0.9v0.9h-0.9zM300.5 256.7h0.9v0.9h-0.9zM301.6 248.0h0.9v0.9h-0.9zM302.5 251.2h0.9v0.9h-0.9zM309.8 251.4h0.9v0.9h-0.9zM301.0 252.7h0.9v0.9h-0.9zM299.1 240.4h0.9v0.9h-0.9zM309.5 251.5h0.9v0.9h-0.9zM298.4 244.9h0.9v0.9h-0.9zM298.2 261.1h0.9v0.9h-0.9zM294.0 262.1h0.9v0.9h-0.9zM306.2 262.8h0.9v0.9h-0.9zM302.2 257.7h0.9v0.9h-0.9zM303.2 250.0h0.9v0.9h-0.9zM301.7 258.6h0.9v0.9h-0.9zM300.2 251.7h0.9v0.9h-0.9zM297.0 256.5h0.9v0.9h-0.9zM297.0 247.5h0.9v0.9h-0.9zM303.0 249.4h0.9v0.9h-0.9zM301.5 255.6h0.9v0.9h-0.9zM297.1 252.7h0.9v0.9h-0.9zM307.7 245.3h0.9v0.9h-0.9zM294.8 252.7h0.9v0.9h-0.9zM304.7 247.2h0.9v0.9h-0.9zM308.0 252.1h0.9v0.9h-0.9zM300.2 249.7h0.9v0.9h-0.9zM304.4 252.5h0.9v0.9h-0.9zM298.9 258.5h0.9v0.9h-0.9zM292.7 254.4h0.9v0.9h-0.9zM301.7 252.9h0.9v0.9h-0.9zM300.9 253.6h0.9v0.9h-0.9zM297.1 253.7h0.9v0.9h-0.9zM305.5 256.3h0.9v0.9h-0.9zM302.6 252.9h0.9v0.9h-0.9zM298.3 255.9h0.9v0.9h-0.9zM298.3 245.1h0.9v0.9h-0.9zM293.6 257.6h0.9v0.9h-0.9zM300.0 263.3h0.9v0.9h-0.9zM311.3 254.0h0.9v0.9h-0.9zM297.4 244.5h0.9v0.9h-0.9zM302.9 260.9h0.9v0.9h-0.9zM298.2 251.0h0.9v0.9h-0.9zM304.8 235.2h0.9v0.9h-0.9zM303.0 251.6h0.9v0.9h-0.9zM299.7 256.5h0.9v0.9h-0.9zM292.1 255.2h0.9v0.9h-0.9zM298.3 260.3h0.9v0.9h-0.9zM306.8 256.6h0.9v0.9h-0.9zM299.7 253.7h0.9v0.9h-0.9zM304.0 241.2h0.9v0.9h-0.9zM298.5 246.3h0.9v0.9h-0.9zM303.0 256.9h0.9v0.9h-0.9zM302.5 246.8h0.9v0.9h-0.9zM298.0 249.3h0.9v0.9h-0.9zM299.0 255.7h0.9v0.9h-0.9zM302.3 241.6h0.9v0.9h-0.9zM297.9 241.4h0.9v0.9h-0.9zM302.6 251.6h0.9v0.9h-0.9zM299.9 254.4h0.9v0.9h-0.9zM300.2 239.3h0.9v0.9h-0.9zM297.9 253.1h0.9v0.9h-0.9zM296.7 245.0h0.9v0.9h-0.9zM302.9 256.8h0.9v0.9h-0.9zM298.5 252.3h0.9v0.9h-0.9z" fill="#000" fill-opacity="0.35"/>
<path d="M304.0 242.3h0.9v0.9h-0.9zM305.5 232.7h0.9v0.9h-0.9zM300.9 238.2h0.9v0.9h-0.9zM306.2 233.5h0.9v0.9h-0.9zM307.9 237.5h0.9v0.9h-0.9zM304.5 233.9h0.9v0.9h-0.9zM308.2 237.1h0.9v0.9h-0.9zM300.5 236.5h0.9v0.9h-0.9zM306.6 235.6h0.9v0.9h-0.9zM304.0 238.5h0.9v0.9h-0.9zM299.0 241.4h0.9v0.9h-0.9zM302.6 235.2h0.9v0.9h-0.9zM300.9 239.6h0.9v0.9h-0.9zM300.8 237.2h0.9v0.9h-0.9zM303.3 236.9h0.9v0.9h-0.9zM307.2 243.5h0.9v0.9h-0.9zM301.7 230.5h0.9v0.9h-0.9zM303.4 234.9h0.9v0.9h-0.9zM297.1 231.6h0.9v0.9h-0.9zM303.4 236.0h0.9v0.9h-0.9zM307.5 236.3h0.9v0.9h-0.9zM306.2 248.3h0.9v0.9h-0.9zM304.8 238.0h0.9v0.9h-0.9zM300.9 242.3h0.9v0.9h-0.9zM299.1 240.8h0.9v0.9h-0.9zM302.6 235.7h0.9v0.9h-0.9zM297.7 238.4h0.9v0.9h-0.9zM298.1 241.9h0.9v0.9h-0.9zM306.7 237.5h0.9v0.9h-0.9zM299.3 237.6h0.9v0.9h-0.9z" fill="#000" fill-opacity="0.35"/>
<path d="M317.5 236.3h0.9v0.9h-0.9zM311.5 236.5h0.9v0.9h-0.9zM313.6 231.8h0.9v0.9h-0.9zM317.0 232.8h0.9v0.9h-0.9zM317.6 236.9h0.9v0.9h-0.9zM313.2 231.2h0.9v0.9h-0.9zM315.0 236.8h0.9v0.9h-0.9zM315.6 234.0h0.9v0.9h-0.9zM315.5 233.5h0.9v0.9h-0.9zM318.0 237.9h0.9v0.9h-0.9z" fill="#000" fill-opacity="0.35"/>
<path d="M315.3 241.1h0.9v0.9h-0.9zM314.5 248.6h0.9v0.9h-0.9zM315.3 243.8h0.9v0.9h-0.9zM318.2 245.8h0.9v0.9h-0.9zM328.8 243.2h0.9v0.9h-0.9zM309.5 243.8h0.9v0.9h-0.9zM317.9 245.0h0.9v0.9h-0.9zM317.0 247.7h0.9v0.9h-0.9zM321.7 247.6h0.9v0.9h-0.9zM316.5 244.8h0.9v0.9h-0.9z" fill="#000" fill-opacity="0.3"/>
<path d="M311.7 257.4h0.9v0.9h-0.9zM295.1 262.4h0.9v0.9h-0.9zM299.8 244.5h0.9v0.9h-0.9zM293.9 217.3h0.9v0.9h-0.9zM294.9 223.7h0.9v0.9h-0.9zM307.0 239.5h0.9v0.9h-0.9zM323.0 259.9h0.9v0.9h-0.9zM300.2 262.1h0.9v0.9h-0.9z" fill="#000" fill-opacity="0.3"/>
<path d="M379.5 254.1h0.9v0.9h-0.9zM369.4 245.5h0.9v0.9h-0.9zM364.9 241.5h0.9v0.9h-0.9zM371.0 248.1h0.9v0.9h-0.9zM380.5 243.1h0.9v0.9h-0.9zM372.6 249.5h0.9v0.9h-0.9zM364.9 242.2h0.9v0.9h-0.9zM368.3 246.9h0.9v0.9h-0.9zM376.3 246.4h0.9v0.9h-0.9zM364.1 247.3h0.9v0.9h-0.9zM369.6 245.0h0.9v0.9h-0.9zM369.1 243.6h0.9v0.9h-0.9zM380.1 247.2h0.9v0.9h-0.9zM369.1 244.7h0.9v0.9h-0.9zM376.2 248.3h0.9v0.9h-0.9zM367.3 246.2h0.9v0.9h-0.9zM366.8 236.6h0.9v0.9h-0.9zM374.9 247.2h0.9v0.9h-0.9zM373.1 254.3h0.9v0.9h-0.9zM362.6 249.0h0.9v0.9h-0.9zM373.2 250.4h0.9v0.9h-0.9zM373.2 249.7h0.9v0.9h-0.9zM367.6 245.2h0.9v0.9h-0.9zM371.3 241.0h0.9v0.9h-0.9zM371.6 251.4h0.9v0.9h-0.9zM368.2 252.6h0.9v0.9h-0.9zM367.7 250.3h0.9v0.9h-0.9zM367.4 249.6h0.9v0.9h-0.9zM369.1 249.4h0.9v0.9h-0.9zM364.4 247.4h0.9v0.9h-0.9zM370.2 248.8h0.9v0.9h-0.9zM363.7 247.6h0.9v0.9h-0.9zM370.7 249.1h0.9v0.9h-0.9zM370.0 242.9h0.9v0.9h-0.9zM365.7 244.5h0.9v0.9h-0.9zM374.2 250.3h0.9v0.9h-0.9zM379.0 245.9h0.9v0.9h-0.9zM376.3 235.8h0.9v0.9h-0.9zM364.2 248.1h0.9v0.9h-0.9zM376.0 236.5h0.9v0.9h-0.9zM371.3 256.7h0.9v0.9h-0.9zM370.1 251.0h0.9v0.9h-0.9zM367.7 250.8h0.9v0.9h-0.9zM370.3 244.3h0.9v0.9h-0.9zM376.6 242.1h0.9v0.9h-0.9zM372.8 246.5h0.9v0.9h-0.9zM368.5 247.6h0.9v0.9h-0.9zM367.4 243.8h0.9v0.9h-0.9zM368.5 248.3h0.9v0.9h-0.9zM373.0 250.8h0.9v0.9h-0.9zM378.7 250.4h0.9v0.9h-0.9zM365.6 242.5h0.9v0.9h-0.9zM370.3 237.1h0.9v0.9h-0.9zM368.6 247.5h0.9v0.9h-0.9zM367.0 244.4h0.9v0.9h-0.9zM372.1 249.7h0.9v0.9h-0.9zM372.8 255.4h0.9v0.9h-0.9zM364.0 255.4h0.9v0.9h-0.9zM365.7 248.9h0.9v0.9h-0.9zM375.7 252.9h0.9v0.9h-0.9zM371.8 255.4h0.9v0.9h-0.9zM372.7 247.8h0.9v0.9h-0.9zM368.1 248.9h0.9v0.9h-0.9zM368.6 251.6h0.9v0.9h-0.9zM372.4 247.4h0.9v0.9h-0.9zM368.1 245.2h0.9v0.9h-0.9zM365.4 244.0h0.9v0.9h-0.9zM370.3 247.6h0.9v0.9h-0.9zM374.4 244.6h0.9v0.9h-0.9zM365.7 251.4h0.9v0.9h-0.9zM375.1 246.0h0.9v0.9h-0.9zM373.5 254.6h0.9v0.9h-0.9zM366.5 253.4h0.9v0.9h-0.9zM370.4 241.7h0.9v0.9h-0.9zM370.2 252.8h0.9v0.9h-0.9zM373.2 245.7h0.9v0.9h-0.9zM373.3 254.1h0.9v0.9h-0.9zM364.5 250.0h0.9v0.9h-0.9zM364.3 247.4h0.9v0.9h-0.9zM374.9 250.8h0.9v0.9h-0.9zM370.9 244.9h0.9v0.9h-0.9zM372.2 249.2h0.9v0.9h-0.9zM371.8 249.5h0.9v0.9h-0.9zM377.2 246.9h0.9v0.9h-0.9zM365.0 249.5h0.9v0.9h-0.9zM375.2 242.9h0.9v0.9h-0.9zM366.7 250.3h0.9v0.9h-0.9zM373.6 241.9h0.9v0.9h-0.9zM376.3 250.6h0.9v0.9h-0.9zM364.2 249.9h0.9v0.9h-0.9zM372.1 251.0h0.9v0.9h-0.9zM369.1 245.0h0.9v0.9h-0.9zM369.1 262.1h0.9v0.9h-0.9zM370.5 246.6h0.9v0.9h-0.9zM365.7 248.4h0.9v0.9h-0.9zM366.1 244.1h0.9v0.9h-0.9zM373.3 254.5h0.9v0.9h-0.9zM374.1 245.4h0.9v0.9h-0.9zM367.8 252.4h0.9v0.9h-0.9zM363.9 243.2h0.9v0.9h-0.9zM380.7 249.2h0.9v0.9h-0.9zM375.2 245.9h0.9v0.9h-0.9zM371.9 252.1h0.9v0.9h-0.9zM365.8 246.3h0.9v0.9h-0.9zM367.8 243.6h0.9v0.9h-0.9zM371.4 249.9h0.9v0.9h-0.9zM366.1 242.0h0.9v0.9h-0.9zM377.5 243.2h0.9v0.9h-0.9zM371.0 251.4h0.9v0.9h-0.9zM372.1 238.8h0.9v0.9h-0.9zM365.8 251.3h0.9v0.9h-0.9zM366.3 245.8h0.9v0.9h-0.9zM366.8 243.4h0.9v0.9h-0.9zM371.6 248.9h0.9v0.9h-0.9zM369.2 250.7h0.9v0.9h-0.9zM369.1 245.0h0.9v0.9h-0.9zM371.7 246.9h0.9v0.9h-0.9zM371.3 251.5h0.9v0.9h-0.9zM376.9 251.3h0.9v0.9h-0.9zM369.5 247.5h0.9v0.9h-0.9zM365.9 244.1h0.9v0.9h-0.9zM370.3 243.3h0.9v0.9h-0.9zM376.8 245.0h0.9v0.9h-0.9zM367.9 251.0h0.9v0.9h-0.9zM370.6 250.5h0.9v0.9h-0.9zM368.8 249.2h0.9v0.9h-0.9zM372.1 254.4h0.9v0.9h-0.9zM371.5 246.4h0.9v0.9h-0.9zM366.8 246.0h0.9v0.9h-0.9zM369.3 246.0h0.9v0.9h-0.9zM374.5 256.8h0.9v0.9h-0.9zM375.2 238.1h0.9v0.9h-0.9zM374.4 249.2h0.9v0.9h-0.9zM374.2 249.9h0.9v0.9h-0.9zM368.9 248.1h0.9v0.9h-0.9zM368.7 258.9h0.9v0.9h-0.9zM374.5 253.4h0.9v0.9h-0.9zM365.2 251.5h0.9v0.9h-0.9zM370.1 243.6h0.9v0.9h-0.9zM362.1 250.2h0.9v0.9h-0.9zM368.7 246.1h0.9v0.9h-0.9zM367.2 248.1h0.9v0.9h-0.9zM365.0 248.8h0.9v0.9h-0.9zM372.9 245.6h0.9v0.9h-0.9zM367.1 250.8h0.9v0.9h-0.9zM368.7 255.6h0.9v0.9h-0.9zM369.2 252.8h0.9v0.9h-0.9zM367.1 248.9h0.9v0.9h-0.9zM376.6 238.8h0.9v0.9h-0.9zM368.2 253.0h0.9v0.9h-0.9zM371.2 253.0h0.9v0.9h-0.9zM364.6 247.0h0.9v0.9h-0.9zM368.3 245.7h0.9v0.9h-0.9zM368.9 251.0h0.9v0.9h-0.9zM369.0 244.1h0.9v0.9h-0.9zM367.8 251.7h0.9v0.9h-0.9zM371.0 242.8h0.9v0.9h-0.9zM377.2 243.6h0.9v0.9h-0.9zM369.8 248.0h0.9v0.9h-0.9zM369.7 241.1h0.9v0.9h-0.9zM368.6 247.9h0.9v0.9h-0.9zM381.6 250.4h0.9v0.9h-0.9zM377.5 241.7h0.9v0.9h-0.9zM372.8 252.3h0.9v0.9h-0.9zM373.5 245.3h0.9v0.9h-0.9zM367.2 250.5h0.9v0.9h-0.9zM369.7 248.9h0.9v0.9h-0.9zM371.3 245.8h0.9v0.9h-0.9zM370.9 245.5h0.9v0.9h-0.9zM366.6 239.9h0.9v0.9h-0.9zM366.9 244.7h0.9v0.9h-0.9zM372.6 244.3h0.9v0.9h-0.9zM371.7 255.7h0.9v0.9h-0.9zM361.1 252.7h0.9v0.9h-0.9zM370.8 241.5h0.9v0.9h-0.9zM376.0 251.7h0.9v0.9h-0.9zM367.5 249.0h0.9v0.9h-0.9zM371.4 246.2h0.9v0.9h-0.9zM363.9 250.1h0.9v0.9h-0.9zM374.0 251.7h0.9v0.9h-0.9zM365.4 245.3h0.9v0.9h-0.9zM364.8 246.7h0.9v0.9h-0.9zM369.0 248.7h0.9v0.9h-0.9zM380.8 243.4h0.9v0.9h-0.9zM367.7 248.8h0.9v0.9h-0.9zM364.8 247.6h0.9v0.9h-0.9zM372.4 244.8h0.9v0.9h-0.9zM371.4 244.0h0.9v0.9h-0.9zM377.7 249.4h0.9v0.9h-0.9zM364.8 252.1h0.9v0.9h-0.9zM363.3 249.5h0.9v0.9h-0.9zM369.0 244.0h0.9v0.9h-0.9zM372.0 251.5h0.9v0.9h-0.9zM371.9 248.8h0.9v0.9h-0.9zM375.1 250.8h0.9v0.9h-0.9zM363.8 253.4h0.9v0.9h-0.9zM366.7 243.8h0.9v0.9h-0.9zM369.8 247.3h0.9v0.9h-0.9zM374.1 245.2h0.9v0.9h-0.9zM372.5 243.9h0.9v0.9h-0.9zM368.5 257.4h0.9v0.9h-0.9zM365.9 252.4h0.9v0.9h-0.9zM374.3 239.7h0.9v0.9h-0.9zM374.6 250.0h0.9v0.9h-0.9zM382.3 245.4h0.9v0.9h-0.9zM369.6 253.4h0.9v0.9h-0.9zM377.5 248.4h0.9v0.9h-0.9zM365.0 247.2h0.9v0.9h-0.9zM368.0 248.7h0.9v0.9h-0.9zM367.4 249.8h0.9v0.9h-0.9zM368.3 248.1h0.9v0.9h-0.9zM366.5 247.0h0.9v0.9h-0.9zM368.0 247.3h0.9v0.9h-0.9zM370.1 250.4h0.9v0.9h-0.9zM368.4 242.7h0.9v0.9h-0.9zM373.3 248.0h0.9v0.9h-0.9zM370.0 247.4h0.9v0.9h-0.9zM370.4 245.7h0.9v0.9h-0.9zM376.9 251.4h0.9v0.9h-0.9zM371.8 242.0h0.9v0.9h-0.9zM371.0 246.3h0.9v0.9h-0.9zM370.3 244.0h0.9v0.9h-0.9zM370.6 250.5h0.9v0.9h-0.9zM372.9 245.8h0.9v0.9h-0.9zM366.8 248.2h0.9v0.9h-0.9zM375.4 249.8h0.9v0.9h-0.9zM377.3 240.5h0.9v0.9h-0.9zM375.5 250.1h0.9v0.9h-0.9zM368.2 244.5h0.9v0.9h-0.9zM363.3 246.8h0.9v0.9h-0.9zM368.4 247.5h0.9v0.9h-0.9zM371.0 251.8h0.9v0.9h-0.9zM374.0 251.4h0.9v0.9h-0.9zM369.6 256.2h0.9v0.9h-0.9zM369.0 248.8h0.9v0.9h-0.9zM377.1 245.8h0.9v0.9h-0.9zM367.4 245.7h0.9v0.9h-0.9zM375.1 251.1h0.9v0.9h-0.9zM374.4 255.5h0.9v0.9h-0.9zM364.5 249.6h0.9v0.9h-0.9zM371.6 245.3h0.9v0.9h-0.9zM367.9 249.3h0.9v0.9h-0.9zM366.2 249.2h0.9v0.9h-0.9zM362.2 248.2h0.9v0.9h-0.9zM363.5 244.5h0.9v0.9h-0.9zM372.2 236.1h0.9v0.9h-0.9zM368.7 245.5h0.9v0.9h-0.9zM371.6 252.9h0.9v0.9h-0.9zM365.7 249.0h0.9v0.9h-0.9zM369.0 237.7h0.9v0.9h-0.9zM369.2 248.0h0.9v0.9h-0.9zM363.6 239.4h0.9v0.9h-0.9zM363.0 257.3h0.9v0.9h-0.9zM372.3 248.9h0.9v0.9h-0.9zM371.0 242.4h0.9v0.9h-0.9zM366.3 251.7h0.9v0.9h-0.9zM369.9 244.3h0.9v0.9h-0.9zM373.3 250.6h0.9v0.9h-0.9zM378.4 248.1h0.9v0.9h-0.9zM366.5 242.5h0.9v0.9h-0.9zM373.1 251.1h0.9v0.9h-0.9zM379.7 241.7h0.9v0.9h-0.9zM370.7 254.3h0.9v0.9h-0.9zM376.8 248.3h0.9v0.9h-0.9zM376.8 239.5h0.9v0.9h-0.9zM370.3 255.5h0.9v0.9h-0.9zM362.1 254.8h0.9v0.9h-0.9zM373.8 242.1h0.9v0.9h-0.9zM375.0 255.7h0.9v0.9h-0.9zM375.7 248.8h0.9v0.9h-0.9zM375.7 247.0h0.9v0.9h-0.9zM370.2 247.6h0.9v0.9h-0.9zM367.1 246.7h0.9v0.9h-0.9zM368.3 254.7h0.9v0.9h-0.9zM370.2 248.7h0.9v0.9h-0.9zM372.2 239.4h0.9v0.9h-0.9zM368.2 257.8h0.9v0.9h-0.9zM370.6 252.1h0.9v0.9h-0.9zM374.2 242.9h0.9v0.9h-0.9zM371.8 246.3h0.9v0.9h-0.9zM380.5 243.8h0.9v0.9h-0.9zM379.9 248.2h0.9v0.9h-0.9zM365.3 249.8h0.9v0.9h-0.9zM367.9 249.1h0.9v0.9h-0.9zM364.6 245.2h0.9v0.9h-0.9zM365.2 244.3h0.9v0.9h-0.9zM372.8 252.0h0.9v0.9h-0.9zM366.0 247.5h0.9v0.9h-0.9zM365.7 258.5h0.9v0.9h-0.9zM369.2 244.2h0.9v0.9h-0.9zM373.9 251.7h0.9v0.9h-0.9zM368.8 248.2h0.9v0.9h-0.9zM368.8 244.5h0.9v0.9h-0.9zM374.4 254.4h0.9v0.9h-0.9zM372.5 248.6h0.9v0.9h-0.9zM372.4 243.8h0.9v0.9h-0.9zM374.6 246.5h0.9v0.9h-0.9zM365.9 252.8h0.9v0.9h-0.9zM371.3 242.3h0.9v0.9h-0.9zM367.6 254.4h0.9v0.9h-0.9zM374.9 251.2h0.9v0.9h-0.9zM374.0 246.7h0.9v0.9h-0.9zM365.8 254.3h0.9v0.9h-0.9zM376.3 256.2h0.9v0.9h-0.9zM365.2 250.8h0.9v0.9h-0.9zM375.5 248.8h0.9v0.9h-0.9zM371.3 256.6h0.9v0.9h-0.9zM366.5 255.0h0.9v0.9h-0.9zM365.4 243.7h0.9v0.9h-0.9zM369.0 247.0h0.9v0.9h-0.9zM370.3 247.0h0.9v0.9h-0.9zM367.2 246.1h0.9v0.9h-0.9zM372.9 241.0h0.9v0.9h-0.9zM364.2 252.2h0.9v0.9h-0.9zM370.3 248.4h0.9v0.9h-0.9zM370.4 248.5h0.9v0.9h-0.9zM362.1 254.6h0.9v0.9h-0.9zM371.7 245.4h0.9v0.9h-0.9zM364.8 247.7h0.9v0.9h-0.9zM367.6 246.0h0.9v0.9h-0.9zM369.4 247.5h0.9v0.9h-0.9zM374.4 251.6h0.9v0.9h-0.9zM368.2 248.0h0.9v0.9h-0.9zM376.9 254.2h0.9v0.9h-0.9zM376.7 244.5h0.9v0.9h-0.9zM375.2 248.9h0.9v0.9h-0.9zM376.2 241.3h0.9v0.9h-0.9zM371.9 247.4h0.9v0.9h-0.9zM367.9 244.7h0.9v0.9h-0.9zM373.2 254.4h0.9v0.9h-0.9zM374.7 251.5h0.9v0.9h-0.9zM371.4 250.4h0.9v0.9h-0.9zM369.3 256.7h0.9v0.9h-0.9zM363.4 254.8h0.9v0.9h-0.9zM373.4 251.4h0.9v0.9h-0.9zM371.9 244.8h0.9v0.9h-0.9zM364.6 241.2h0.9v0.9h-0.9zM370.8 247.9h0.9v0.9h-0.9zM373.6 246.3h0.9v0.9h-0.9zM369.9 245.0h0.9v0.9h-0.9zM373.8 246.6h0.9v0.9h-0.9zM373.7 240.2h0.9v0.9h-0.9zM363.8 255.0h0.9v0.9h-0.9zM369.0 242.6h0.9v0.9h-0.9zM372.5 244.8h0.9v0.9h-0.9zM374.4 250.7h0.9v0.9h-0.9zM376.6 240.3h0.9v0.9h-0.9zM361.9 252.3h0.9v0.9h-0.9zM370.1 252.4h0.9v0.9h-0.9zM373.5 246.5h0.9v0.9h-0.9zM375.8 242.9h0.9v0.9h-0.9zM377.9 245.8h0.9v0.9h-0.9zM366.2 239.3h0.9v0.9h-0.9zM368.7 254.5h0.9v0.9h-0.9zM365.7 248.3h0.9v0.9h-0.9zM374.0 244.5h0.9v0.9h-0.9zM364.5 243.7h0.9v0.9h-0.9zM375.6 250.7h0.9v0.9h-0.9zM374.5 255.1h0.9v0.9h-0.9zM372.5 242.0h0.9v0.9h-0.9zM360.7 245.3h0.9v0.9h-0.9zM367.4 239.7h0.9v0.9h-0.9zM373.7 251.2h0.9v0.9h-0.9zM364.1 248.7h0.9v0.9h-0.9zM369.3 258.7h0.9v0.9h-0.9zM369.9 247.4h0.9v0.9h-0.9zM374.3 245.9h0.9v0.9h-0.9zM371.6 244.6h0.9v0.9h-0.9zM371.6 252.0h0.9v0.9h-0.9zM368.4 240.3h0.9v0.9h-0.9zM370.4 251.5h0.9v0.9h-0.9zM369.8 249.2h0.9v0.9h-0.9zM373.6 245.6h0.9v0.9h-0.9zM369.6 243.7h0.9v0.9h-0.9zM375.0 253.0h0.9v0.9h-0.9zM362.8 256.8h0.9v0.9h-0.9zM375.7 245.9h0.9v0.9h-0.9zM369.6 250.5h0.9v0.9h-0.9zM375.4 256.3h0.9v0.9h-0.9zM370.7 245.1h0.9v0.9h-0.9zM374.2 246.8h0.9v0.9h-0.9zM377.0 242.2h0.9v0.9h-0.9zM367.9 247.3h0.9v0.9h-0.9zM370.7 247.6h0.9v0.9h-0.9zM369.6 246.0h0.9v0.9h-0.9zM371.3 244.5h0.9v0.9h-0.9zM363.2 240.5h0.9v0.9h-0.9zM369.6 241.6h0.9v0.9h-0.9zM369.2 243.4h0.9v0.9h-0.9zM366.9 251.0h0.9v0.9h-0.9zM369.5 245.6h0.9v0.9h-0.9zM363.5 244.0h0.9v0.9h-0.9zM376.6 251.1h0.9v0.9h-0.9zM372.3 250.7h0.9v0.9h-0.9zM378.7 244.4h0.9v0.9h-0.9zM366.5 245.0h0.9v0.9h-0.9zM365.2 251.1h0.9v0.9h-0.9zM371.6 249.7h0.9v0.9h-0.9zM362.9 244.0h0.9v0.9h-0.9zM371.4 249.1h0.9v0.9h-0.9zM367.2 247.9h0.9v0.9h-0.9zM368.9 253.3h0.9v0.9h-0.9zM371.5 243.9h0.9v0.9h-0.9zM370.6 252.2h0.9v0.9h-0.9zM378.6 250.1h0.9v0.9h-0.9zM373.2 243.2h0.9v0.9h-0.9zM364.6 253.0h0.9v0.9h-0.9zM374.7 252.3h0.9v0.9h-0.9zM364.4 241.7h0.9v0.9h-0.9zM370.7 257.4h0.9v0.9h-0.9zM364.8 242.5h0.9v0.9h-0.9zM366.7 243.6h0.9v0.9h-0.9zM376.2 246.5h0.9v0.9h-0.9zM367.9 251.7h0.9v0.9h-0.9zM367.5 250.8h0.9v0.9h-0.9zM367.8 247.5h0.9v0.9h-0.9zM368.9 254.5h0.9v0.9h-0.9zM376.7 249.9h0.9v0.9h-0.9zM365.1 254.7h0.9v0.9h-0.9zM364.8 261.5h0.9v0.9h-0.9zM372.9 248.9h0.9v0.9h-0.9zM363.2 235.7h0.9v0.9h-0.9zM368.7 245.8h0.9v0.9h-0.9zM375.4 242.8h0.9v0.9h-0.9zM370.3 248.4h0.9v0.9h-0.9zM368.2 248.5h0.9v0.9h-0.9zM367.2 242.1h0.9v0.9h-0.9zM366.2 242.5h0.9v0.9h-0.9zM367.7 246.7h0.9v0.9h-0.9zM370.9 247.1h0.9v0.9h-0.9zM375.8 235.5h0.9v0.9h-0.9zM374.6 252.7h0.9v0.9h-0.9zM367.8 248.1h0.9v0.9h-0.9zM367.1 248.0h0.9v0.9h-0.9zM373.4 249.4h0.9v0.9h-0.9zM362.2 243.1h0.9v0.9h-0.9zM368.3 247.8h0.9v0.9h-0.9zM368.9 253.0h0.9v0.9h-0.9zM365.4 253.2h0.9v0.9h-0.9zM365.9 250.2h0.9v0.9h-0.9zM371.8 246.7h0.9v0.9h-0.9zM362.9 244.0h0.9v0.9h-0.9zM366.2 254.4h0.9v0.9h-0.9zM367.4 250.5h0.9v0.9h-0.9zM370.6 246.0h0.9v0.9h-0.9zM364.2 237.5h0.9v0.9h-0.9zM375.1 243.8h0.9v0.9h-0.9zM368.9 238.6h0.9v0.9h-0.9zM369.1 254.0h0.9v0.9h-0.9zM368.6 248.9h0.9v0.9h-0.9zM367.3 244.4h0.9v0.9h-0.9zM365.9 246.7h0.9v0.9h-0.9zM375.3 260.6h0.9v0.9h-0.9zM371.1 253.9h0.9v0.9h-0.9zM369.7 241.5h0.9v0.9h-0.9zM374.6 247.4h0.9v0.9h-0.9zM367.1 242.0h0.9v0.9h-0.9zM373.0 239.6h0.9v0.9h-0.9zM370.3 248.8h0.9v0.9h-0.9zM366.3 259.8h0.9v0.9h-0.9zM373.6 255.6h0.9v0.9h-0.9zM363.6 248.2h0.9v0.9h-0.9zM373.1 246.2h0.9v0.9h-0.9zM366.3 249.0h0.9v0.9h-0.9zM372.0 253.1h0.9v0.9h-0.9zM376.3 240.8h0.9v0.9h-0.9zM372.7 238.8h0.9v0.9h-0.9zM367.5 257.2h0.9v0.9h-0.9zM370.1 249.4h0.9v0.9h-0.9zM368.6 255.9h0.9v0.9h-0.9zM365.0 249.2h0.9v0.9h-0.9zM365.3 255.3h0.9v0.9h-0.9zM370.4 245.0h0.9v0.9h-0.9zM372.5 250.4h0.9v0.9h-0.9zM362.3 255.6h0.9v0.9h-0.9zM369.8 253.0h0.9v0.9h-0.9zM372.4 245.7h0.9v0.9h-0.9zM370.6 252.4h0.9v0.9h-0.9zM365.7 244.7h0.9v0.9h-0.9zM374.7 241.0h0.9v0.9h-0.9zM364.8 250.6h0.9v0.9h-0.9zM373.0 254.9h0.9v0.9h-0.9zM377.2 252.2h0.9v0.9h-0.9zM361.1 241.8h0.9v0.9h-0.9zM371.3 252.3h0.9v0.9h-0.9zM371.5 251.4h0.9v0.9h-0.9zM371.1 245.7h0.9v0.9h-0.9zM366.7 235.7h0.9v0.9h-0.9zM368.7 253.0h0.9v0.9h-0.9zM363.9 252.4h0.9v0.9h-0.9zM370.7 250.5h0.9v0.9h-0.9zM372.5 239.4h0.9v0.9h-0.9zM367.2 240.6h0.9v0.9h-0.9zM366.0 253.0h0.9v0.9h-0.9zM368.0 252.0h0.9v0.9h-0.9zM370.1 250.5h0.9v0.9h-0.9zM370.4 246.8h0.9v0.9h-0.9zM369.6 250.0h0.9v0.9h-0.9zM370.4 245.3h0.9v0.9h-0.9zM364.3 246.4h0.9v0.9h-0.9zM372.8 249.3h0.9v0.9h-0.9zM376.4 245.9h0.9v0.9h-0.9zM363.8 252.7h0.9v0.9h-0.9zM367.1 251.6h0.9v0.9h-0.9zM371.4 244.0h0.9v0.9h-0.9zM374.3 257.1h0.9v0.9h-0.9zM372.9 242.4h0.9v0.9h-0.9zM375.7 250.2h0.9v0.9h-0.9zM369.8 253.4h0.9v0.9h-0.9zM371.9 254.4h0.9v0.9h-0.9zM371.9 237.0h0.9v0.9h-0.9zM368.2 253.0h0.9v0.9h-0.9zM375.4 254.1h0.9v0.9h-0.9zM372.8 255.2h0.9v0.9h-0.9zM374.4 236.9h0.9v0.9h-0.9zM368.3 244.6h0.9v0.9h-0.9zM374.6 247.5h0.9v0.9h-0.9zM365.4 245.8h0.9v0.9h-0.9zM371.8 254.7h0.9v0.9h-0.9zM365.6 254.1h0.9v0.9h-0.9zM373.3 250.8h0.9v0.9h-0.9zM368.1 240.7h0.9v0.9h-0.9zM370.8 243.0h0.9v0.9h-0.9zM362.9 245.7h0.9v0.9h-0.9zM376.9 248.5h0.9v0.9h-0.9zM372.7 253.0h0.9v0.9h-0.9zM369.9 247.1h0.9v0.9h-0.9zM371.9 252.5h0.9v0.9h-0.9zM371.5 240.1h0.9v0.9h-0.9zM376.3 232.8h0.9v0.9h-0.9zM371.0 246.3h0.9v0.9h-0.9zM363.6 250.3h0.9v0.9h-0.9zM368.9 246.2h0.9v0.9h-0.9zM375.7 243.0h0.9v0.9h-0.9zM372.6 250.1h0.9v0.9h-0.9zM368.2 257.7h0.9v0.9h-0.9zM372.7 247.5h0.9v0.9h-0.9zM370.6 244.4h0.9v0.9h-0.9zM372.7 243.8h0.9v0.9h-0.9zM363.1 257.8h0.9v0.9h-0.9zM366.1 247.8h0.9v0.9h-0.9zM373.0 251.1h0.9v0.9h-0.9zM369.1 254.1h0.9v0.9h-0.9zM371.6 253.4h0.9v0.9h-0.9zM378.7 243.4h0.9v0.9h-0.9zM368.7 252.8h0.9v0.9h-0.9zM371.1 252.2h0.9v0.9h-0.9zM367.6 250.4h0.9v0.9h-0.9zM367.3 253.0h0.9v0.9h-0.9zM369.7 245.2h0.9v0.9h-0.9zM363.7 247.6h0.9v0.9h-0.9zM360.8 245.4h0.9v0.9h-0.9zM376.1 251.8h0.9v0.9h-0.9zM369.6 244.7h0.9v0.9h-0.9zM375.0 250.0h0.9v0.9h-0.9zM370.6 242.5h0.9v0.9h-0.9zM370.7 247.4h0.9v0.9h-0.9zM373.0 246.2h0.9v0.9h-0.9zM373.2 247.4h0.9v0.9h-0.9zM364.8 248.7h0.9v0.9h-0.9zM375.4 247.1h0.9v0.9h-0.9zM365.8 246.9h0.9v0.9h-0.9zM370.9 237.6h0.9v0.9h-0.9zM381.3 253.5h0.9v0.9h-0.9zM370.4 244.9h0.9v0.9h-0.9zM377.4 246.8h0.9v0.9h-0.9zM368.5 243.9h0.9v0.9h-0.9zM372.8 253.0h0.9v0.9h-0.9zM370.3 243.5h0.9v0.9h-0.9zM371.9 250.5h0.9v0.9h-0.9zM366.3 253.9h0.9v0.9h-0.9zM366.0 256.2h0.9v0.9h-0.9zM371.5 253.9h0.9v0.9h-0.9zM363.2 251.1h0.9v0.9h-0.9zM366.3 242.0h0.9v0.9h-0.9zM372.9 254.5h0.9v0.9h-0.9zM367.4 253.9h0.9v0.9h-0.9zM366.2 252.2h0.9v0.9h-0.9zM365.2 252.0h0.9v0.9h-0.9zM370.7 248.4h0.9v0.9h-0.9zM368.5 245.4h0.9v0.9h-0.9zM370.7 253.4h0.9v0.9h-0.9zM369.2 254.4h0.9v0.9h-0.9zM378.2 242.8h0.9v0.9h-0.9zM368.1 252.6h0.9v0.9h-0.9zM361.5 249.3h0.9v0.9h-0.9zM370.6 252.5h0.9v0.9h-0.9zM370.1 249.4h0.9v0.9h-0.9zM370.7 253.6h0.9v0.9h-0.9zM363.0 253.2h0.9v0.9h-0.9zM375.0 252.5h0.9v0.9h-0.9zM369.9 241.2h0.9v0.9h-0.9zM369.9 252.2h0.9v0.9h-0.9zM363.1 248.3h0.9v0.9h-0.9zM372.1 242.5h0.9v0.9h-0.9zM369.8 251.6h0.9v0.9h-0.9z" fill="#000" fill-opacity="0.7"/>
<path d="M364.3 249.1h0.9v0.9h-0.9zM375.5 240.1h0.9v0.9h-0.9zM379.5 259.8h0.9v0.9h-0.9zM368.6 245.7h0.9v0.9h-0.9zM375.7 251.8h0.9v0.9h-0.9zM373.3 263.8h0.9v0.9h-0.9zM374.3 251.7h0.9v0.9h-0.9zM364.4 257.7h0.9v0.9h-0.9zM374.1 252.9h0.9v0.9h-0.9zM371.8 258.2h0.9v0.9h-0.9zM374.8 254.3h0.9v0.9h-0.9zM371.1 251.2h0.9v0.9h-0.9zM376.5 262.0h0.9v0.9h-0.9zM372.5 252.6h0.9v0.9h-0.9zM374.5 246.4h0.9v0.9h-0.9zM377.9 252.3h0.9v0.9h-0.9zM372.0 257.3h0.9v0.9h-0.9zM376.1 247.7h0.9v0.9h-0.9zM372.3 258.7h0.9v0.9h-0.9zM373.7 258.6h0.9v0.9h-0.9zM375.0 250.5h0.9v0.9h-0.9zM377.2 258.0h0.9v0.9h-0.9zM370.7 244.5h0.9v0.9h-0.9zM375.1 251.7h0.9v0.9h-0.9zM373.3 254.8h0.9v0.9h-0.9zM365.7 256.5h0.9v0.9h-0.9zM372.9 253.8h0.9v0.9h-0.9zM377.7 253.6h0.9v0.9h-0.9zM368.8 250.6h0.9v0.9h-0.9zM362.4 251.6h0.9v0.9h-0.9zM372.2 255.9h0.9v0.9h-0.9zM368.0 257.4h0.9v0.9h-0.9zM380.5 257.8h0.9v0.9h-0.9zM371.0 259.9h0.9v0.9h-0.9zM371.1 261.0h0.9v0.9h-0.9zM368.1 243.8h0.9v0.9h-0.9zM372.4 251.1h0.9v0.9h-0.9zM368.4 253.2h0.9v0.9h-0.9zM366.7 250.4h0.9v0.9h-0.9zM370.9 260.2h0.9v0.9h-0.9zM367.2 258.5h0.9v0.9h-0.9zM377.7 253.5h0.9v0.9h-0.9zM365.4 254.9h0.9v0.9h-0.9zM370.8 261.4h0.9v0.9h-0.9zM367.8 252.2h0.9v0.9h-0.9zM364.4 252.3h0.9v0.9h-0.9zM379.3 259.4h0.9v0.9h-0.9zM360.8 256.9h0.9v0.9h-0.9zM378.3 262.3h0.9v0.9h-0.9zM364.2 256.3h0.9v0.9h-0.9zM371.6 258.5h0.9v0.9h-0.9zM382.3 251.0h0.9v0.9h-0.9zM360.7 248.7h0.9v0.9h-0.9zM364.4 254.1h0.9v0.9h-0.9zM377.6 238.9h0.9v0.9h-0.9zM372.0 256.5h0.9v0.9h-0.9zM368.5 259.7h0.9v0.9h-0.9zM371.0 254.6h0.9v0.9h-0.9zM366.4 252.9h0.9v0.9h-0.9zM371.8 260.4h0.9v0.9h-0.9zM378.5 253.9h0.9v0.9h-0.9zM369.3 259.8h0.9v0.9h-0.9zM377.1 258.3h0.9v0.9h-0.9zM380.9 259.5h0.9v0.9h-0.9zM368.3 257.0h0.9v0.9h-0.9zM372.7 255.6h0.9v0.9h-0.9zM368.4 255.7h0.9v0.9h-0.9zM368.0 254.5h0.9v0.9h-0.9zM369.2 260.4h0.9v0.9h-0.9zM368.1 244.9h0.9v0.9h-0.9zM362.7 252.6h0.9v0.9h-0.9zM361.4 257.9h0.9v0.9h-0.9zM367.6 249.3h0.9v0.9h-0.9zM371.8 253.6h0.9v0.9h-0.9zM377.1 250.2h0.9v0.9h-0.9zM368.6 256.7h0.9v0.9h-0.9zM370.4 259.1h0.9v0.9h-0.9zM374.4 262.5h0.9v0.9h-0.9zM374.8 257.0h0.9v0.9h-0.9zM370.6 250.0h0.9v0.9h-0.9zM370.9 255.6h0.9v0.9h-0.9zM380.4 257.4h0.9v0.9h-0.9zM369.5 262.3h0.9v0.9h-0.9zM368.8 241.9h0.9v0.9h-0.9zM363.2 256.3h0.9v0.9h-0.9zM373.3 243.7h0.9v0.9h-0.9zM369.9 258.3h0.9v0.9h-0.9zM380.5 256.7h0.9v0.9h-0.9zM369.5 257.0h0.9v0.9h-0.9zM375.2 259.2h0.9v0.9h-0.9zM375.7 256.4h0.9v0.9h-0.9zM379.2 250.5h0.9v0.9h-0.9zM364.8 256.2h0.9v0.9h-0.9zM378.8 261.0h0.9v0.9h-0.9zM371.2 253.5h0.9v0.9h-0.9zM370.7 254.3h0.9v0.9h-0.9zM369.7 247.2h0.9v0.9h-0.9zM369.2 260.8h0.9v0.9h-0.9zM369.5 251.3h0.9v0.9h-0.9zM373.7 251.6h0.9v0.9h-0.9zM371.5 249.2h0.9v0.9h-0.9zM366.5 252.7h0.9v0.9h-0.9zM370.9 261.5h0.9v0.9h-0.9zM382.4 258.7h0.9v0.9h-0.9zM373.0 262.3h0.9v0.9h-0.9zM369.3 262.7h0.9v0.9h-0.9zM379.5 249.0h0.9v0.9h-0.9zM367.3 256.9h0.9v0.9h-0.9zM370.4 262.7h0.9v0.9h-0.9zM370.0 246.1h0.9v0.9h-0.9zM374.7 246.0h0.9v0.9h-0.9zM374.0 256.8h0.9v0.9h-0.9zM367.6 252.2h0.9v0.9h-0.9zM370.5 248.5h0.9v0.9h-0.9zM371.6 256.3h0.9v0.9h-0.9zM369.2 249.6h0.9v0.9h-0.9zM371.0 241.2h0.9v0.9h-0.9zM367.6 254.0h0.9v0.9h-0.9zM367.6 254.9h0.9v0.9h-0.9zM371.4 257.8h0.9v0.9h-0.9zM366.1 259.5h0.9v0.9h-0.9zM373.2 255.2h0.9v0.9h-0.9zM370.2 252.8h0.9v0.9h-0.9zM366.7 250.3h0.9v0.9h-0.9zM368.2 244.7h0.9v0.9h-0.9zM368.8 251.6h0.9v0.9h-0.9zM370.4 259.9h0.9v0.9h-0.9zM371.7 257.9h0.9v0.9h-0.9zM366.9 253.3h0.9v0.9h-0.9zM378.1 243.9h0.9v0.9h-0.9zM375.6 258.9h0.9v0.9h-0.9zM371.7 260.1h0.9v0.9h-0.9zM375.8 247.4h0.9v0.9h-0.9zM372.7 244.9h0.9v0.9h-0.9zM369.9 255.0h0.9v0.9h-0.9zM371.6 258.2h0.9v0.9h-0.9zM384.1 247.7h0.9v0.9h-0.9zM376.0 252.2h0.9v0.9h-0.9zM376.2 249.7h0.9v0.9h-0.9zM369.2 247.4h0.9v0.9h-0.9zM374.1 246.6h0.9v0.9h-0.9zM382.1 254.9h0.9v0.9h-0.9zM373.2 252.0h0.9v0.9h-0.9zM376.4 250.3h0.9v0.9h-0.9zM377.3 239.2h0.9v0.9h-0.9zM378.8 248.7h0.9v0.9h-0.9zM372.3 253.3h0.9v0.9h-0.9zM373.6 247.6h0.9v0.9h-0.9zM368.1 256.3h0.9v0.9h-0.9zM384.0 245.5h0.9v0.9h-0.9zM372.6 254.6h0.9v0.9h-0.9zM371.7 253.0h0.9v0.9h-0.9zM377.9 259.4h0.9v0.9h-0.9zM368.8 247.8h0.9v0.9h-0.9zM371.1 250.4h0.9v0.9h-0.9zM367.4 252.7h0.9v0.9h-0.9zM369.3 245.6h0.9v0.9h-0.9zM373.8 255.8h0.9v0.9h-0.9zM370.5 250.3h0.9v0.9h-0.9zM368.2 255.9h0.9v0.9h-0.9zM369.7 257.8h0.9v0.9h-0.9zM370.6 254.9h0.9v0.9h-0.9zM368.7 255.6h0.9v0.9h-0.9zM375.7 255.7h0.9v0.9h-0.9zM374.4 250.7h0.9v0.9h-0.9zM371.8 252.8h0.9v0.9h-0.9zM365.4 244.6h0.9v0.9h-0.9zM373.6 252.0h0.9v0.9h-0.9zM365.0 249.7h0.9v0.9h-0.9zM372.0 252.6h0.9v0.9h-0.9zM371.4 258.3h0.9v0.9h-0.9zM368.3 256.2h0.9v0.9h-0.9zM367.1 256.8h0.9v0.9h-0.9zM367.8 260.4h0.9v0.9h-0.9zM381.1 240.4h0.9v0.9h-0.9zM369.9 256.5h0.9v0.9h-0.9zM370.1 253.9h0.9v0.9h-0.9zM375.8 253.5h0.9v0.9h-0.9zM373.2 246.6h0.9v0.9h-0.9zM376.2 257.2h0.9v0.9h-0.9zM365.2 260.6h0.9v0.9h-0.9zM365.9 259.9h0.9v0.9h-0.9zM387.2 253.6h0.9v0.9h-0.9zM370.9 257.7h0.9v0.9h-0.9zM369.7 259.3h0.9v0.9h-0.9zM375.9 261.1h0.9v0.9h-0.9zM365.4 254.9h0.9v0.9h-0.9zM372.5 254.6h0.9v0.9h-0.9zM371.0 255.0h0.9v0.9h-0.9zM374.4 255.3h0.9v0.9h-0.9zM372.0 251.2h0.9v0.9h-0.9zM368.6 258.5h0.9v0.9h-0.9z" fill="#000" fill-opacity="0.45"/>
<path d="M389.4 220.3h0.9v0.9h-0.9zM388.5 231.0h0.9v0.9h-0.9zM397.9 235.6h0.9v0.9h-0.9zM390.4 220.4h0.9v0.9h-0.9zM393.1 234.1h0.9v0.9h-0.9zM378.2 231.7h0.9v0.9h-0.9zM401.5 225.4h0.9v0.9h-0.9zM395.0 230.9h0.9v0.9h-0.9zM394.0 221.7h0.9v0.9h-0.9zM398.8 229.4h0.9v0.9h-0.9zM396.7 226.3h0.9v0.9h-0.9zM389.4 228.4h0.9v0.9h-0.9zM391.4 247.3h0.9v0.9h-0.9zM402.9 228.6h0.9v0.9h-0.9zM390.0 231.4h0.9v0.9h-0.9zM395.8 226.3h0.9v0.9h-0.9zM388.4 233.4h0.9v0.9h-0.9zM403.5 233.8h0.9v0.9h-0.9zM392.3 231.7h0.9v0.9h-0.9zM386.1 237.1h0.9v0.9h-0.9zM405.7 225.0h0.9v0.9h-0.9zM402.5 238.8h0.9v0.9h-0.9zM387.8 224.9h0.9v0.9h-0.9zM404.6 229.1h0.9v0.9h-0.9zM396.6 231.8h0.9v0.9h-0.9zM408.9 219.8h0.9v0.9h-0.9zM390.5 226.2h0.9v0.9h-0.9zM392.8 229.5h0.9v0.9h-0.9zM387.9 232.8h0.9v0.9h-0.9zM396.1 223.9h0.9v0.9h-0.9zM395.4 224.8h0.9v0.9h-0.9zM401.0 230.3h0.9v0.9h-0.9zM395.7 234.3h0.9v0.9h-0.9zM383.1 231.5h0.9v0.9h-0.9zM388.4 229.0h0.9v0.9h-0.9zM406.5 222.4h0.9v0.9h-0.9zM404.4 237.9h0.9v0.9h-0.9zM393.7 232.6h0.9v0.9h-0.9zM393.9 229.9h0.9v0.9h-0.9zM393.6 234.9h0.9v0.9h-0.9zM395.2 240.3h0.9v0.9h-0.9zM381.4 240.1h0.9v0.9h-0.9zM402.3 220.7h0.9v0.9h-0.9zM389.7 231.3h0.9v0.9h-0.9zM396.2 227.6h0.9v0.9h-0.9zM374.5 235.6h0.9v0.9h-0.9zM396.9 223.6h0.9v0.9h-0.9zM405.9 224.2h0.9v0.9h-0.9zM376.9 231.3h0.9v0.9h-0.9zM407.3 227.0h0.9v0.9h-0.9zM398.8 228.7h0.9v0.9h-0.9zM389.1 225.4h0.9v0.9h-0.9zM382.1 226.5h0.9v0.9h-0.9zM404.4 224.3h0.9v0.9h-0.9zM397.1 232.1h0.9v0.9h-0.9zM399.8 230.4h0.9v0.9h-0.9zM392.8 230.3h0.9v0.9h-0.9zM388.5 216.9h0.9v0.9h-0.9zM402.1 225.0h0.9v0.9h-0.9zM387.3 229.2h0.9v0.9h-0.9zM402.3 225.7h0.9v0.9h-0.9zM381.4 229.0h0.9v0.9h-0.9zM387.5 230.5h0.9v0.9h-0.9zM383.2 231.0h0.9v0.9h-0.9zM405.6 238.5h0.9v0.9h-0.9zM380.8 238.1h0.9v0.9h-0.9zM385.7 232.2h0.9v0.9h-0.9zM400.4 227.7h0.9v0.9h-0.9zM396.9 228.6h0.9v0.9h-0.9zM400.0 227.9h0.9v0.9h-0.9zM400.6 232.5h0.9v0.9h-0.9zM380.2 238.9h0.9v0.9h-0.9zM387.8 233.8h0.9v0.9h-0.9zM392.3 236.9h0.9v0.9h-0.9zM393.6 231.4h0.9v0.9h-0.9zM383.8 229.3h0.9v0.9h-0.9zM387.4 224.5h0.9v0.9h-0.9zM388.1 229.1h0.9v0.9h-0.9zM403.6 226.5h0.9v0.9h-0.9zM398.5 230.4h0.9v0.9h-0.9zM392.3 235.7h0.9v0.9h-0.9zM392.8 228.0h0.9v0.9h-0.9zM397.4 225.3h0.9v0.9h-0.9zM389.3 235.4h0.9v0.9h-0.9zM392.9 236.0h0.9v0.9h-0.9zM381.0 232.6h0.9v0.9h-0.9zM400.4 229.4h0.9v0.9h-0.9zM402.8 233.4h0.9v0.9h-0.9zM397.9 230.2h0.9v0.9h-0.9zM398.9 228.2h0.9v0.9h-0.9zM398.0 219.2h0.9v0.9h-0.9zM396.7 232.2h0.9v0.9h-0.9zM384.2 234.2h0.9v0.9h-0.9zM386.5 230.7h0.9v0.9h-0.9zM400.8 222.0h0.9v0.9h-0.9zM403.7 226.3h0.9v0.9h-0.9zM401.3 227.1h0.9v0.9h-0.9zM401.8 232.4h0.9v0.9h-0.9zM396.5 223.7h0.9v0.9h-0.9zM382.9 240.8h0.9v0.9h-0.9zM389.2 232.0h0.9v0.9h-0.9zM380.3 240.5h0.9v0.9h-0.9zM391.8 226.5h0.9v0.9h-0.9zM383.9 235.4h0.9v0.9h-0.9zM395.8 235.2h0.9v0.9h-0.9zM393.6 230.8h0.9v0.9h-0.9zM379.1 228.7h0.9v0.9h-0.9zM400.9 226.2h0.9v0.9h-0.9zM401.2 230.1h0.9v0.9h-0.9zM383.6 227.4h0.9v0.9h-0.9zM396.1 222.8h0.9v0.9h-0.9zM400.8 228.8h0.9v0.9h-0.9zM392.6 226.3h0.9v0.9h-0.9zM401.9 230.5h0.9v0.9h-0.9zM396.5 223.9h0.9v0.9h-0.9zM403.7 218.3h0.9v0.9h-0.9zM396.5 225.7h0.9v0.9h-0.9zM393.6 237.2h0.9v0.9h-0.9zM399.1 224.4h0.9v0.9h-0.9zM401.3 227.5h0.9v0.9h-0.9zM397.0 230.2h0.9v0.9h-0.9zM391.3 226.8h0.9v0.9h-0.9zM388.5 237.2h0.9v0.9h-0.9zM391.9 231.7h0.9v0.9h-0.9zM390.2 233.6h0.9v0.9h-0.9zM396.6 221.5h0.9v0.9h-0.9zM396.3 221.3h0.9v0.9h-0.9zM394.2 217.4h0.9v0.9h-0.9zM394.9 229.0h0.9v0.9h-0.9zM396.3 228.3h0.9v0.9h-0.9zM407.7 228.6h0.9v0.9h-0.9zM404.7 233.2h0.9v0.9h-0.9zM390.2 230.4h0.9v0.9h-0.9zM398.3 227.4h0.9v0.9h-0.9zM392.2 232.9h0.9v0.9h-0.9zM394.1 237.2h0.9v0.9h-0.9zM392.9 226.8h0.9v0.9h-0.9zM389.8 234.6h0.9v0.9h-0.9zM383.7 232.7h0.9v0.9h-0.9zM374.7 235.5h0.9v0.9h-0.9zM396.5 233.0h0.9v0.9h-0.9zM404.6 222.8h0.9v0.9h-0.9zM387.5 227.6h0.9v0.9h-0.9zM399.0 231.5h0.9v0.9h-0.9zM391.7 230.9h0.9v0.9h-0.9zM397.1 227.9h0.9v0.9h-0.9zM388.3 231.6h0.9v0.9h-0.9zM393.0 232.8h0.9v0.9h-0.9zM393.9 228.5h0.9v0.9h-0.9zM375.4 240.3h0.9v0.9h-0.9zM396.6 231.2h0.9v0.9h-0.9zM393.7 237.1h0.9v0.9h-0.9zM374.5 242.9h0.9v0.9h-0.9zM400.2 231.9h0.9v0.9h-0.9zM394.6 229.1h0.9v0.9h-0.9zM396.5 229.8h0.9v0.9h-0.9zM397.8 226.1h0.9v0.9h-0.9zM391.4 244.2h0.9v0.9h-0.9zM386.0 232.0h0.9v0.9h-0.9zM391.2 233.8h0.9v0.9h-0.9zM391.3 237.4h0.9v0.9h-0.9zM390.8 229.5h0.9v0.9h-0.9zM391.4 226.5h0.9v0.9h-0.9zM397.5 223.1h0.9v0.9h-0.9zM399.4 225.9h0.9v0.9h-0.9zM389.1 237.9h0.9v0.9h-0.9zM386.6 236.2h0.9v0.9h-0.9zM403.5 227.0h0.9v0.9h-0.9zM382.0 226.8h0.9v0.9h-0.9zM380.3 238.3h0.9v0.9h-0.9zM388.0 234.3h0.9v0.9h-0.9zM396.6 224.3h0.9v0.9h-0.9zM399.3 229.3h0.9v0.9h-0.9zM392.0 230.0h0.9v0.9h-0.9zM381.5 232.3h0.9v0.9h-0.9zM396.6 224.7h0.9v0.9h-0.9zM399.7 225.1h0.9v0.9h-0.9zM394.8 225.6h0.9v0.9h-0.9zM390.7 233.5h0.9v0.9h-0.9zM399.5 229.9h0.9v0.9h-0.9zM394.3 231.6h0.9v0.9h-0.9zM385.5 232.4h0.9v0.9h-0.9zM395.5 227.8h0.9v0.9h-0.9zM384.1 243.1h0.9v0.9h-0.9zM402.7 218.6h0.9v0.9h-0.9zM398.6 234.1h0.9v0.9h-0.9zM386.5 234.5h0.9v0.9h-0.9zM396.5 229.6h0.9v0.9h-0.9zM405.1 223.9h0.9v0.9h-0.9zM377.0 235.2h0.9v0.9h-0.9zM393.6 224.9h0.9v0.9h-0.9zM408.4 218.7h0.9v0.9h-0.9zM381.9 234.0h0.9v0.9h-0.9zM393.4 222.8h0.9v0.9h-0.9zM383.0 238.0h0.9v0.9h-0.9zM394.2 235.3h0.9v0.9h-0.9zM374.9 221.2h0.9v0.9h-0.9zM381.3 227.6h0.9v0.9h-0.9zM390.3 232.8h0.9v0.9h-0.9zM395.9 230.5h0.9v0.9h-0.9zM397.9 229.4h0.9v0.9h-0.9zM398.3 230.6h0.9v0.9h-0.9zM404.3 230.0h0.9v0.9h-0.9zM400.5 231.9h0.9v0.9h-0.9zM400.9 236.0h0.9v0.9h-0.9zM386.6 233.0h0.9v0.9h-0.9zM393.4 234.4h0.9v0.9h-0.9zM401.6 221.9h0.9v0.9h-0.9zM400.9 234.2h0.9v0.9h-0.9zM403.0 237.8h0.9v0.9h-0.9zM391.4 233.7h0.9v0.9h-0.9zM391.6 230.6h0.9v0.9h-0.9zM394.1 230.3h0.9v0.9h-0.9zM377.4 241.1h0.9v0.9h-0.9zM397.8 233.3h0.9v0.9h-0.9zM380.4 222.9h0.9v0.9h-0.9zM389.3 238.2h0.9v0.9h-0.9zM394.0 228.0h0.9v0.9h-0.9zM391.8 228.5h0.9v0.9h-0.9zM396.2 236.0h0.9v0.9h-0.9zM388.3 231.0h0.9v0.9h-0.9zM393.9 224.0h0.9v0.9h-0.9zM384.8 227.4h0.9v0.9h-0.9zM391.5 231.4h0.9v0.9h-0.9zM383.2 238.3h0.9v0.9h-0.9zM400.2 234.9h0.9v0.9h-0.9zM383.9 233.0h0.9v0.9h-0.9zM400.5 225.8h0.9v0.9h-0.9zM391.3 238.7h0.9v0.9h-0.9zM392.2 228.8h0.9v0.9h-0.9zM404.6 233.2h0.9v0.9h-0.9zM395.7 230.7h0.9v0.9h-0.9zM378.9 236.7h0.9v0.9h-0.9zM398.9 227.4h0.9v0.9h-0.9zM370.4 240.0h0.9v0.9h-0.9zM397.0 227.1h0.9v0.9h-0.9zM391.4 228.1h0.9v0.9h-0.9zM383.0 233.5h0.9v0.9h-0.9zM395.4 226.8h0.9v0.9h-0.9zM392.2 232.3h0.9v0.9h-0.9zM391.1 230.1h0.9v0.9h-0.9zM406.4 224.8h0.9v0.9h-0.9zM389.6 239.8h0.9v0.9h-0.9zM387.9 232.4h0.9v0.9h-0.9zM405.8 223.3h0.9v0.9h-0.9zM393.6 229.0h0.9v0.9h-0.9zM396.1 232.5h0.9v0.9h-0.9zM392.6 229.8h0.9v0.9h-0.9zM384.6 232.9h0.9v0.9h-0.9zM391.6 229.9h0.9v0.9h-0.9zM386.7 233.6h0.9v0.9h-0.9zM381.9 236.4h0.9v0.9h-0.9zM392.3 232.9h0.9v0.9h-0.9zM408.4 220.2h0.9v0.9h-0.9zM394.2 218.1h0.9v0.9h-0.9zM395.9 233.3h0.9v0.9h-0.9zM399.1 233.5h0.9v0.9h-0.9zM406.2 231.9h0.9v0.9h-0.9zM397.4 229.7h0.9v0.9h-0.9zM390.7 236.7h0.9v0.9h-0.9zM391.4 231.0h0.9v0.9h-0.9zM404.3 226.0h0.9v0.9h-0.9zM389.5 228.3h0.9v0.9h-0.9zM377.4 233.4h0.9v0.9h-0.9zM401.6 231.8h0.9v0.9h-0.9zM394.1 237.8h0.9v0.9h-0.9zM395.9 227.4h0.9v0.9h-0.9zM405.2 228.0h0.9v0.9h-0.9zM395.3 231.0h0.9v0.9h-0.9zM383.5 230.4h0.9v0.9h-0.9zM378.2 228.0h0.9v0.9h-0.9zM394.3 226.7h0.9v0.9h-0.9zM385.0 226.9h0.9v0.9h-0.9zM397.2 227.7h0.9v0.9h-0.9zM384.0 233.2h0.9v0.9h-0.9zM391.8 230.2h0.9v0.9h-0.9zM382.3 233.6h0.9v0.9h-0.9zM391.7 233.3h0.9v0.9h-0.9zM391.0 227.0h0.9v0.9h-0.9zM399.8 232.3h0.9v0.9h-0.9zM406.1 218.3h0.9v0.9h-0.9zM393.2 230.8h0.9v0.9h-0.9zM387.5 234.3h0.9v0.9h-0.9zM397.8 221.6h0.9v0.9h-0.9zM399.9 231.0h0.9v0.9h-0.9zM399.9 225.0h0.9v0.9h-0.9zM407.1 229.2h0.9v0.9h-0.9zM403.3 230.4h0.9v0.9h-0.9zM400.5 227.9h0.9v0.9h-0.9zM401.3 227.6h0.9v0.9h-0.9zM387.5 237.1h0.9v0.9h-0.9zM389.6 233.5h0.9v0.9h-0.9zM393.9 226.0h0.9v0.9h-0.9zM395.6 230.4h0.9v0.9h-0.9zM394.9 232.4h0.9v0.9h-0.9zM397.4 230.0h0.9v0.9h-0.9zM395.0 230.7h0.9v0.9h-0.9zM391.2 230.6h0.9v0.9h-0.9zM381.0 234.3h0.9v0.9h-0.9zM401.9 223.1h0.9v0.9h-0.9zM399.8 221.6h0.9v0.9h-0.9zM387.3 237.8h0.9v0.9h-0.9zM399.0 225.5h0.9v0.9h-0.9zM398.1 229.8h0.9v0.9h-0.9zM395.4 222.9h0.9v0.9h-0.9zM379.2 236.2h0.9v0.9h-0.9zM384.6 229.8h0.9v0.9h-0.9zM389.7 245.3h0.9v0.9h-0.9zM408.5 220.4h0.9v0.9h-0.9zM387.5 228.1h0.9v0.9h-0.9zM391.8 235.3h0.9v0.9h-0.9zM385.4 238.5h0.9v0.9h-0.9zM390.6 221.8h0.9v0.9h-0.9zM397.7 230.1h0.9v0.9h-0.9zM377.2 240.2h0.9v0.9h-0.9zM370.7 232.9h0.9v0.9h-0.9zM400.4 231.1h0.9v0.9h-0.9zM395.1 227.4h0.9v0.9h-0.9zM389.6 227.2h0.9v0.9h-0.9zM403.0 225.4h0.9v0.9h-0.9zM403.0 224.9h0.9v0.9h-0.9zM377.0 229.9h0.9v0.9h-0.9zM393.4 240.7h0.9v0.9h-0.9zM404.2 224.5h0.9v0.9h-0.9zM389.1 228.6h0.9v0.9h-0.9zM392.1 234.8h0.9v0.9h-0.9zM402.9 226.7h0.9v0.9h-0.9zM392.5 236.8h0.9v0.9h-0.9zM384.6 232.3h0.9v0.9h-0.9zM389.0 233.6h0.9v0.9h-0.9zM383.5 234.4h0.9v0.9h-0.9zM399.5 229.0h0.9v0.9h-0.9zM380.1 234.2h0.9v0.9h-0.9zM403.3 226.4h0.9v0.9h-0.9zM380.8 242.6h0.9v0.9h-0.9zM395.2 226.7h0.9v0.9h-0.9zM382.3 231.9h0.9v0.9h-0.9zM392.1 229.3h0.9v0.9h-0.9zM403.5 229.5h0.9v0.9h-0.9zM404.3 228.4h0.9v0.9h-0.9zM405.9 230.3h0.9v0.9h-0.9zM394.0 224.1h0.9v0.9h-0.9zM395.7 230.8h0.9v0.9h-0.9zM396.8 228.4h0.9v0.9h-0.9zM400.0 226.8h0.9v0.9h-0.9zM391.4 231.9h0.9v0.9h-0.9zM404.1 217.6h0.9v0.9h-0.9zM397.5 230.2h0.9v0.9h-0.9zM404.5 227.1h0.9v0.9h-0.9zM398.8 222.0h0.9v0.9h-0.9zM400.5 227.5h0.9v0.9h-0.9zM388.6 239.2h0.9v0.9h-0.9zM391.2 229.4h0.9v0.9h-0.9zM383.8 236.6h0.9v0.9h-0.9zM392.3 229.8h0.9v0.9h-0.9zM393.3 226.8h0.9v0.9h-0.9zM401.9 223.2h0.9v0.9h-0.9zM384.1 231.9h0.9v0.9h-0.9zM393.7 234.0h0.9v0.9h-0.9zM405.5 222.9h0.9v0.9h-0.9zM403.6 231.3h0.9v0.9h-0.9z" fill="#000" fill-opacity="0.45"/>
<path d="M379.1 244.6h0.9v0.9h-0.9zM375.7 240.9h0.9v0.9h-0.9zM382.4 237.9h0.9v0.9h-0.9zM374.4 246.4h0.9v0.9h-0.9zM370.5 231.7h0.9v0.9h-0.9zM387.5 230.3h0.9v0.9h-0.9zM369.0 243.6h0.9v0.9h-0.9zM383.0 236.4h0.9v0.9h-0.9zM370.8 237.2h0.9v0.9h-0.9zM379.7 243.6h0.9v0.9h-0.9zM378.7 240.2h0.9v0.9h-0.9zM377.2 234.3h0.9v0.9h-0.9zM366.9 239.2h0.9v0.9h-0.9zM379.2 241.3h0.9v0.9h-0.9zM379.6 244.6h0.9v0.9h-0.9zM374.5 232.4h0.9v0.9h-0.9zM379.4 239.1h0.9v0.9h-0.9zM385.7 235.2h0.9v0.9h-0.9zM375.6 233.0h0.9v0.9h-0.9zM381.4 237.1h0.9v0.9h-0.9zM373.0 234.2h0.9v0.9h-0.9zM382.1 235.6h0.9v0.9h-0.9zM383.6 242.9h0.9v0.9h-0.9zM394.5 236.1h0.9v0.9h-0.9zM385.2 239.5h0.9v0.9h-0.9zM382.4 239.6h0.9v0.9h-0.9zM388.2 237.2h0.9v0.9h-0.9zM374.0 243.2h0.9v0.9h-0.9zM386.2 232.3h0.9v0.9h-0.9zM376.6 237.7h0.9v0.9h-0.9zM376.2 242.2h0.9v0.9h-0.9zM386.3 233.8h0.9v0.9h-0.9zM381.2 236.2h0.9v0.9h-0.9zM387.7 240.4h0.9v0.9h-0.9zM371.3 245.9h0.9v0.9h-0.9zM381.5 235.6h0.9v0.9h-0.9zM376.7 236.1h0.9v0.9h-0.9zM378.3 240.7h0.9v0.9h-0.9zM368.6 242.1h0.9v0.9h-0.9zM385.4 234.3h0.9v0.9h-0.9zM381.1 240.0h0.9v0.9h-0.9zM374.0 241.7h0.9v0.9h-0.9zM371.9 240.6h0.9v0.9h-0.9zM374.7 250.1h0.9v0.9h-0.9zM388.1 240.8h0.9v0.9h-0.9zM379.3 241.2h0.9v0.9h-0.9zM377.9 242.4h0.9v0.9h-0.9zM382.8 248.0h0.9v0.9h-0.9zM380.0 242.1h0.9v0.9h-0.9zM381.3 235.2h0.9v0.9h-0.9zM384.3 238.2h0.9v0.9h-0.9zM381.9 237.9h0.9v0.9h-0.9zM385.1 234.8h0.9v0.9h-0.9zM372.9 241.0h0.9v0.9h-0.9zM380.3 239.0h0.9v0.9h-0.9zM377.8 238.5h0.9v0.9h-0.9zM380.5 236.3h0.9v0.9h-0.9zM379.7 241.2h0.9v0.9h-0.9zM376.2 233.5h0.9v0.9h-0.9zM377.9 241.7h0.9v0.9h-0.9zM385.5 236.7h0.9v0.9h-0.9zM376.7 240.0h0.9v0.9h-0.9zM372.6 231.6h0.9v0.9h-0.9zM383.4 243.3h0.9v0.9h-0.9zM385.7 230.4h0.9v0.9h-0.9zM378.4 235.5h0.9v0.9h-0.9zM380.7 240.3h0.9v0.9h-0.9zM375.0 237.3h0.9v0.9h-0.9zM378.8 237.0h0.9v0.9h-0.9zM386.5 228.4h0.9v0.9h-0.9zM384.7 235.3h0.9v0.9h-0.9zM380.8 238.7h0.9v0.9h-0.9zM378.3 241.0h0.9v0.9h-0.9zM370.4 239.7h0.9v0.9h-0.9zM381.8 238.5h0.9v0.9h-0.9zM382.7 239.0h0.9v0.9h-0.9zM386.2 234.1h0.9v0.9h-0.9zM391.8 232.3h0.9v0.9h-0.9zM382.2 244.6h0.9v0.9h-0.9zM385.6 233.6h0.9v0.9h-0.9zM373.4 244.3h0.9v0.9h-0.9zM387.1 236.5h0.9v0.9h-0.9zM385.1 242.1h0.9v0.9h-0.9zM388.0 233.7h0.9v0.9h-0.9zM384.0 239.0h0.9v0.9h-0.9zM382.7 238.6h0.9v0.9h-0.9zM388.7 235.0h0.9v0.9h-0.9zM376.1 240.3h0.9v0.9h-0.9zM383.8 234.4h0.9v0.9h-0.9zM386.4 236.2h0.9v0.9h-0.9zM375.4 238.0h0.9v0.9h-0.9zM373.3 242.7h0.9v0.9h-0.9zM382.6 237.2h0.9v0.9h-0.9zM380.8 233.0h0.9v0.9h-0.9zM383.6 235.9h0.9v0.9h-0.9zM383.8 236.8h0.9v0.9h-0.9zM375.5 236.1h0.9v0.9h-0.9zM382.0 242.4h0.9v0.9h-0.9zM386.6 237.8h0.9v0.9h-0.9zM378.0 241.7h0.9v0.9h-0.9zM378.4 235.9h0.9v0.9h-0.9zM373.5 238.5h0.9v0.9h-0.9zM384.8 240.5h0.9v0.9h-0.9zM391.5 230.0h0.9v0.9h-0.9zM372.0 241.6h0.9v0.9h-0.9zM384.5 237.3h0.9v0.9h-0.9zM385.3 234.9h0.9v0.9h-0.9zM376.8 239.3h0.9v0.9h-0.9zM377.9 234.9h0.9v0.9h-0.9zM374.0 240.6h0.9v0.9h-0.9zM375.5 235.0h0.9v0.9h-0.9zM381.0 233.3h0.9v0.9h-0.9zM383.9 242.2h0.9v0.9h-0.9zM380.8 235.4h0.9v0.9h-0.9zM385.1 229.2h0.9v0.9h-0.9zM381.3 241.3h0.9v0.9h-0.9zM373.3 237.2h0.9v0.9h-0.9zM388.6 223.2h0.9v0.9h-0.9zM387.0 236.1h0.9v0.9h-0.9zM375.9 242.6h0.9v0.9h-0.9z" fill="#000" fill-opacity="0.4"/>
<path d="M404.9 259.4h0.9v0.9h-0.9zM388.4 247.7h0.9v0.9h-0.9zM396.2 244.5h0.9v0.9h-0.9zM394.5 261.3h0.9v0.9h-0.9zM384.8 255.1h0.9v0.9h-0.9zM385.9 260.8h0.9v0.9h-0.9zM388.7 259.6h0.9v0.9h-0.9zM394.2 245.0h0.9v0.9h-0.9zM397.6 245.0h0.9v0.9h-0.9zM402.9 258.0h0.9v0.9h-0.9zM407.5 260.8h0.9v0.9h-0.9zM384.6 246.8h0.9v0.9h-0.9zM409.3 261.6h0.9v0.9h-0.9zM393.6 243.6h0.9v0.9h-0.9zM403.9 259.1h0.9v0.9h-0.9zM391.3 256.2h0.9v0.9h-0.9zM402.4 251.1h0.9v0.9h-0.9zM401.2 251.0h0.9v0.9h-0.9zM382.5 249.5h0.9v0.9h-0.9zM406.4 253.0h0.9v0.9h-0.9zM383.2 253.5h0.9v0.9h-0.9zM395.8 246.5h0.9v0.9h-0.9zM388.1 243.3h0.9v0.9h-0.9zM398.6 254.1h0.9v0.9h-0.9zM387.1 247.0h0.9v0.9h-0.9zM399.1 245.1h0.9v0.9h-0.9zM403.6 248.3h0.9v0.9h-0.9zM398.6 246.0h0.9v0.9h-0.9zM405.5 261.2h0.9v0.9h-0.9zM392.7 249.1h0.9v0.9h-0.9zM400.7 256.6h0.9v0.9h-0.9zM394.5 243.2h0.9v0.9h-0.9zM407.6 256.9h0.9v0.9h-0.9zM384.7 263.0h0.9v0.9h-0.9zM406.3 258.9h0.9v0.9h-0.9zM382.4 259.0h0.9v0.9h-0.9zM406.0 251.8h0.9v0.9h-0.9zM384.4 253.0h0.9v0.9h-0.9zM401.5 261.9h0.9v0.9h-0.9zM384.8 248.0h0.9v0.9h-0.9z" fill="#000" fill-opacity="0.3"/>
<path d="M370.6 220.7h0.9v0.9h-0.9zM374.9 223.1h0.9v0.9h-0.9zM367.4 224.1h0.9v0.9h-0.9zM370.0 220.1h0.9v0.9h-0.9zM361.7 226.7h0.9v0.9h-0.9zM374.0 234.8h0.9v0.9h-0.9zM364.2 228.0h0.9v0.9h-0.9zM365.9 219.2h0.9v0.9h-0.9zM365.3 233.3h0.9v0.9h-0.9zM374.6 239.1h0.9v0.9h-0.9zM368.6 226.9h0.9v0.9h-0.9zM379.9 218.5h0.9v0.9h-0.9zM376.2 233.3h0.9v0.9h-0.9zM378.5 228.5h0.9v0.9h-0.9zM374.1 235.2h0.9v0.9h-0.9z" fill="#000" fill-opacity="0.3"/>
<ellipse cx="370.5" cy="248" rx="3.5" ry="3.8" fill="#000" fill-opacity="0.55"/>
<line x1="311.80" y1="213.60" x2="311.80" y2="264.80" stroke="#222" stroke-width="1.5"/>
<line x1="291.40" y1="242.50" x2="341.20" y2="242.50" stroke="#222" stroke-width="1.5"/>
<line x1="381.50" y1="213.50" x2="381.50" y2="265.30" stroke="#222" stroke-width="1.5"/>
<line x1="360.00" y1="242.00" x2="411.00" y2="242.00" stroke="#222" stroke-width="1.5"/>
<rect x="291.4" y="213.6" width="49.8" height="51.2" fill="none" stroke="#000" stroke-width="1.2"/>
<rect x="360.0" y="213.5" width="51.0" height="51.8" fill="none" stroke="#000" stroke-width="1.2"/>
<text id="t_v4" x="336.48" y="223.64" font-size="8.47" text-anchor="middle">4</text>
<text id="t_v30" x="404.39" y="223.07" font-size="9.43" text-anchor="middle">30</text>
<text id="t_tnfa" x="289.36" y="241.11" font-size="9.36" text-anchor="middle" transform="rotate(-90 289.36 241.11)">TNF<tspan font-weight="normal" font-family="Liberation Serif" font-size="1.1em">α</tspan></text>
<line x1="296.20" y1="272.30" x2="372.60" y2="272.30" stroke="#000" stroke-width="1.5"/>
<path d="M371 269.1 L378.2 272.3 L371 275.5 Z" fill="#000"/>
<text id="t_ifng" x="380.91" y="275.14" font-size="9.19" text-anchor="start">IFN<tspan font-weight="normal" font-size="0.82em">γ</tspan></text>
<line x1="463.50" y1="262.00" x2="463.50" y2="197.80" stroke="#000" stroke-width="1.6"/>
<line x1="461.90" y1="253.52" x2="463.50" y2="253.52" stroke="#000" stroke-width="0.9"/>
<line x1="461.90" y1="237.77" x2="463.50" y2="237.77" stroke="#000" stroke-width="0.9"/>
<line x1="461.90" y1="222.02" x2="463.50" y2="222.02" stroke="#000" stroke-width="0.9"/>
<line x1="461.90" y1="206.28" x2="463.50" y2="206.28" stroke="#000" stroke-width="0.9"/>
<line x1="459.90" y1="261.40" x2="463.50" y2="261.40" stroke="#000" stroke-width="1.1"/>
<text x="457.50" y="265.06" font-size="9.1" text-anchor="end">0</text>
<line x1="459.90" y1="245.65" x2="463.50" y2="245.65" stroke="#000" stroke-width="1.1"/>
<text x="457.50" y="249.31" font-size="9.1" text-anchor="end">10</text>
<line x1="459.90" y1="229.90" x2="463.50" y2="229.90" stroke="#000" stroke-width="1.1"/>
<text x="457.50" y="233.56" font-size="9.1" text-anchor="end">20</text>
<line x1="459.90" y1="214.15" x2="463.50" y2="214.15" stroke="#000" stroke-width="1.1"/>
<text x="457.50" y="217.81" font-size="9.1" text-anchor="end">30</text>
<line x1="459.90" y1="198.40" x2="463.50" y2="198.40" stroke="#000" stroke-width="1.1"/>
<text x="457.50" y="202.06" font-size="9.1" text-anchor="end">40</text>
<line x1="462.90" y1="261.40" x2="502.30" y2="261.40" stroke="#000" stroke-width="1.6"/>
<line x1="473.10" y1="261.40" x2="473.10" y2="264.20" stroke="#000" stroke-width="1"/>
<rect x="467.10" y="256.83" width="12.00" height="4.57" fill="#fff" stroke="#000" stroke-width="1.2"/>
<line x1="473.10" y1="257.46" x2="473.10" y2="256.20" stroke="#000" stroke-width="1.4"/>
<line x1="469.50" y1="256.20" x2="476.70" y2="256.20" stroke="#000" stroke-width="1.5"/>
<line x1="493.00" y1="261.40" x2="493.00" y2="264.20" stroke="#000" stroke-width="1"/>
<rect x="487.10" y="212.57" width="11.80" height="48.82" fill="#111" stroke="#000" stroke-width="1.2"/>
<line x1="493.00" y1="218.87" x2="493.00" y2="206.28" stroke="#000" stroke-width="1.4"/>
<line x1="489.40" y1="206.28" x2="496.60" y2="206.28" stroke="#000" stroke-width="1.5"/>
<line x1="489.40" y1="218.87" x2="496.60" y2="218.87" stroke="#000" stroke-width="1.3"/>
<line x1="473.30" y1="198.70" x2="495.00" y2="198.70" stroke="#000" stroke-width="1.6"/>
<path d="M478.05 191.95L478.05 196.85M475.93 193.17L480.17 195.62M475.93 195.62L480.17 193.17M484.15 191.95L484.15 196.85M482.03 193.17L486.27 195.62M482.03 195.62L486.27 193.17M490.25 191.95L490.25 196.85M488.13 193.17L492.37 195.62M488.13 195.62L492.37 193.17" stroke="#333" stroke-width="1.35" fill="none"/>
<text id="t_ptnf" x="443.91" y="229.36" font-size="9.45" text-anchor="middle" transform="rotate(-90 443.91 229.36)">% TNF<tspan font-weight="normal" font-family="Liberation Serif" font-size="1.1em">α</tspan><tspan font-size="0.62em" dy="-0.55em">+</tspan><tspan dy="0.34em">IFN</tspan><tspan font-weight="normal" font-family="Liberation Serif" font-size="1.1em">γ</tspan><tspan font-size="0.62em" dy="-0.55em">+</tspan></text>
<text id="t_xa1" x="476.83" y="270.66" font-size="8.96" text-anchor="end" transform="rotate(-30 476.83 270.66)">CD4 only</text>
<text id="t_xa2" x="495.48" y="272.41" font-size="8.84" text-anchor="end" transform="rotate(-30 495.48 272.41)">Cy/CD4</text>
<text id="t_C" x="1.95" y="319.55" font-size="11.00" text-anchor="start">C</text>
<line x1="45.80" y1="410.20" x2="45.80" y2="331.20" stroke="#000" stroke-width="1.6"/>
<line x1="44.20" y1="404.41" x2="45.80" y2="404.41" stroke="#000" stroke-width="0.9"/>
<line x1="44.20" y1="399.23" x2="45.80" y2="399.23" stroke="#000" stroke-width="0.9"/>
<line x1="44.20" y1="394.04" x2="45.80" y2="394.04" stroke="#000" stroke-width="0.9"/>
<line x1="44.20" y1="388.85" x2="45.80" y2="388.85" stroke="#000" stroke-width="0.9"/>
<line x1="44.20" y1="378.48" x2="45.80" y2="378.48" stroke="#000" stroke-width="0.9"/>
<line x1="44.20" y1="373.29" x2="45.80" y2="373.29" stroke="#000" stroke-width="0.9"/>
<line x1="44.20" y1="368.11" x2="45.80" y2="368.11" stroke="#000" stroke-width="0.9"/>
<line x1="44.20" y1="362.92" x2="45.80" y2="362.92" stroke="#000" stroke-width="0.9"/>
<line x1="44.20" y1="352.55" x2="45.80" y2="352.55" stroke="#000" stroke-width="0.9"/>
<line x1="44.20" y1="347.36" x2="45.80" y2="347.36" stroke="#000" stroke-width="0.9"/>
<line x1="44.20" y1="342.17" x2="45.80" y2="342.17" stroke="#000" stroke-width="0.9"/>
<line x1="44.20" y1="336.99" x2="45.80" y2="336.99" stroke="#000" stroke-width="0.9"/>
<line x1="43.90" y1="409.60" x2="45.80" y2="409.60" stroke="#000" stroke-width="1.1"/>
<text x="40.60" y="413.01" font-size="8.4" text-anchor="end">0</text>
<line x1="43.90" y1="383.67" x2="45.80" y2="383.67" stroke="#000" stroke-width="1.1"/>
<text x="40.60" y="387.07" font-size="8.4" text-anchor="end">0.5</text>
<line x1="43.90" y1="357.73" x2="45.80" y2="357.73" stroke="#000" stroke-width="1.1"/>
<text x="40.60" y="361.14" font-size="8.4" text-anchor="end">1.0</text>
<line x1="43.90" y1="331.80" x2="45.80" y2="331.80" stroke="#000" stroke-width="1.1"/>
<text x="40.60" y="335.21" font-size="8.4" text-anchor="end">1.5</text>
<line x1="45.20" y1="409.60" x2="99.60" y2="409.60" stroke="#000" stroke-width="1.6"/>
<line x1="55.40" y1="409.60" x2="55.40" y2="412.40" stroke="#000" stroke-width="1"/>
<rect x="52.00" y="406.23" width="6.80" height="3.37" fill="#fff" stroke="#000" stroke-width="1.2"/>
<line x1="55.40" y1="406.49" x2="55.40" y2="405.97" stroke="#000" stroke-width="1.4"/>
<line x1="52.68" y1="405.97" x2="58.12" y2="405.97" stroke="#000" stroke-width="1.5"/>
<line x1="68.80" y1="409.60" x2="68.80" y2="412.40" stroke="#000" stroke-width="1"/>
<rect x="65.40" y="406.23" width="6.80" height="3.37" fill="url(#hatch)" stroke="#000" stroke-width="1.2"/>
<line x1="68.80" y1="406.49" x2="68.80" y2="405.97" stroke="#000" stroke-width="1.4"/>
<line x1="66.08" y1="405.97" x2="71.52" y2="405.97" stroke="#000" stroke-width="1.5"/>
<line x1="81.80" y1="409.60" x2="81.80" y2="412.40" stroke="#000" stroke-width="1"/>
<rect x="78.40" y="392.22" width="6.80" height="17.38" fill="#9a9a9a" stroke="#000" stroke-width="1.2"/>
<line x1="81.80" y1="392.48" x2="81.80" y2="391.97" stroke="#000" stroke-width="1.4"/>
<line x1="79.08" y1="391.97" x2="84.52" y2="391.97" stroke="#000" stroke-width="1.5"/>
<line x1="94.80" y1="409.60" x2="94.80" y2="412.40" stroke="#000" stroke-width="1"/>
<rect x="91.40" y="358.51" width="6.80" height="51.09" fill="#111" stroke="#000" stroke-width="1.2"/>
<line x1="94.80" y1="359.29" x2="94.80" y2="357.73" stroke="#000" stroke-width="1.4"/>
<line x1="92.08" y1="357.73" x2="97.52" y2="357.73" stroke="#000" stroke-width="1.5"/>
<line x1="66.60" y1="358.70" x2="81.40" y2="358.70" stroke="#000" stroke-width="1.6"/>
<path d="M74.00 351.95L74.00 356.85M71.88 353.17L76.12 355.62M71.88 355.62L76.12 353.17" stroke="#333" stroke-width="1.35" fill="none"/>
<line x1="81.40" y1="339.40" x2="97.00" y2="339.40" stroke="#000" stroke-width="1.6"/>
<path d="M86.15 332.65L86.15 337.55M84.03 333.87L88.27 336.32M84.03 336.32L88.27 333.87M92.25 332.65L92.25 337.55M90.13 333.87L94.37 336.32M90.13 336.32L94.37 333.87" stroke="#333" stroke-width="1.35" fill="none"/>
<text id="t_il6" x="73.14" y="322.33" font-size="9.35" text-anchor="middle">IL6</text>
<line x1="66.60" y1="324.00" x2="80.00" y2="324.00" stroke="#000" stroke-width="1.0"/>
<text id="t_relm" x="26.04" y="367.30" font-size="10.26" text-anchor="middle" transform="rotate(-90 26.04 367.30)">Relative mRNA</text>
<line x1="125.30" y1="410.60" x2="125.30" y2="332.00" stroke="#000" stroke-width="1.6"/>
<line x1="123.70" y1="406.13" x2="125.30" y2="406.13" stroke="#000" stroke-width="0.9"/>
<line x1="123.70" y1="402.26" x2="125.30" y2="402.26" stroke="#000" stroke-width="0.9"/>
<line x1="123.70" y1="398.39" x2="125.30" y2="398.39" stroke="#000" stroke-width="0.9"/>
<line x1="123.70" y1="394.52" x2="125.30" y2="394.52" stroke="#000" stroke-width="0.9"/>
<line x1="123.70" y1="386.78" x2="125.30" y2="386.78" stroke="#000" stroke-width="0.9"/>
<line x1="123.70" y1="382.91" x2="125.30" y2="382.91" stroke="#000" stroke-width="0.9"/>
<line x1="123.70" y1="379.04" x2="125.30" y2="379.04" stroke="#000" stroke-width="0.9"/>
<line x1="123.70" y1="375.17" x2="125.30" y2="375.17" stroke="#000" stroke-width="0.9"/>
<line x1="123.70" y1="367.43" x2="125.30" y2="367.43" stroke="#000" stroke-width="0.9"/>
<line x1="123.70" y1="363.56" x2="125.30" y2="363.56" stroke="#000" stroke-width="0.9"/>
<line x1="123.70" y1="359.69" x2="125.30" y2="359.69" stroke="#000" stroke-width="0.9"/>
<line x1="123.70" y1="355.82" x2="125.30" y2="355.82" stroke="#000" stroke-width="0.9"/>
<line x1="123.70" y1="348.08" x2="125.30" y2="348.08" stroke="#000" stroke-width="0.9"/>
<line x1="123.70" y1="344.21" x2="125.30" y2="344.21" stroke="#000" stroke-width="0.9"/>
<line x1="123.70" y1="340.34" x2="125.30" y2="340.34" stroke="#000" stroke-width="0.9"/>
<line x1="123.70" y1="336.47" x2="125.30" y2="336.47" stroke="#000" stroke-width="0.9"/>
<line x1="123.40" y1="410.00" x2="125.30" y2="410.00" stroke="#000" stroke-width="1.1"/>
<text x="120.10" y="413.41" font-size="8.4" text-anchor="end">0</text>
<line x1="123.40" y1="390.65" x2="125.30" y2="390.65" stroke="#000" stroke-width="1.1"/>
<text x="120.10" y="394.06" font-size="8.4" text-anchor="end">10</text>
<line x1="123.40" y1="371.30" x2="125.30" y2="371.30" stroke="#000" stroke-width="1.1"/>
<text x="120.10" y="374.71" font-size="8.4" text-anchor="end">20</text>
<line x1="123.40" y1="351.95" x2="125.30" y2="351.95" stroke="#000" stroke-width="1.1"/>
<text x="120.10" y="355.36" font-size="8.4" text-anchor="end">30</text>
<line x1="123.40" y1="332.60" x2="125.30" y2="332.60" stroke="#000" stroke-width="1.1"/>
<text x="120.10" y="336.01" font-size="8.4" text-anchor="end">40</text>
<line x1="124.70" y1="410.00" x2="178.60" y2="410.00" stroke="#000" stroke-width="1.6"/>
<line x1="134.90" y1="410.00" x2="134.90" y2="412.80" stroke="#000" stroke-width="1"/>
<rect x="131.50" y="405.55" width="6.80" height="4.45" fill="#fff" stroke="#000" stroke-width="1.2"/>
<line x1="134.90" y1="405.94" x2="134.90" y2="405.16" stroke="#000" stroke-width="1.4"/>
<line x1="132.18" y1="405.16" x2="137.62" y2="405.16" stroke="#000" stroke-width="1.5"/>
<line x1="148.30" y1="410.00" x2="148.30" y2="412.80" stroke="#000" stroke-width="1"/>
<rect x="144.90" y="405.55" width="6.80" height="4.45" fill="url(#hatch)" stroke="#000" stroke-width="1.2"/>
<line x1="148.30" y1="405.94" x2="148.30" y2="405.16" stroke="#000" stroke-width="1.4"/>
<line x1="145.58" y1="405.16" x2="151.02" y2="405.16" stroke="#000" stroke-width="1.5"/>
<line x1="161.30" y1="410.00" x2="161.30" y2="412.80" stroke="#000" stroke-width="1"/>
<rect x="157.90" y="397.23" width="6.80" height="12.77" fill="#9a9a9a" stroke="#000" stroke-width="1.2"/>
<line x1="161.30" y1="397.62" x2="161.30" y2="396.84" stroke="#000" stroke-width="1.4"/>
<line x1="158.58" y1="396.84" x2="164.02" y2="396.84" stroke="#000" stroke-width="1.5"/>
<line x1="174.30" y1="410.00" x2="174.30" y2="412.80" stroke="#000" stroke-width="1"/>
<rect x="170.90" y="344.79" width="6.80" height="65.21" fill="#111" stroke="#000" stroke-width="1.2"/>
<line x1="174.30" y1="345.76" x2="174.30" y2="343.82" stroke="#000" stroke-width="1.4"/>
<line x1="171.58" y1="343.82" x2="177.02" y2="343.82" stroke="#000" stroke-width="1.5"/>
<line x1="145.60" y1="358.70" x2="160.40" y2="358.70" stroke="#000" stroke-width="1.6"/>
<path d="M153.00 351.95L153.00 356.85M150.88 353.17L155.12 355.62M150.88 355.62L155.12 353.17" stroke="#333" stroke-width="1.35" fill="none"/>
<line x1="161.20" y1="339.90" x2="177.30" y2="339.90" stroke="#000" stroke-width="1.6"/>
<path d="M163.15 333.15L163.15 338.05M161.03 334.37L165.27 336.82M161.03 336.82L165.27 334.37M169.25 333.15L169.25 338.05M167.13 334.37L171.37 336.82M167.13 336.82L171.37 334.37M175.35 333.15L175.35 338.05M173.23 334.37L177.47 336.82M173.23 336.82L177.47 334.37" stroke="#333" stroke-width="1.35" fill="none"/>
<text id="t_il1b" x="148.09" y="322.78" font-size="10.11" text-anchor="middle">IL1<tspan font-weight="normal" font-family="Liberation Serif" font-size="1.1em">β</tspan></text>
<line x1="137.60" y1="325.90" x2="159.00" y2="325.90" stroke="#000" stroke-width="1.0"/>
<line x1="201.60" y1="410.60" x2="201.60" y2="332.60" stroke="#000" stroke-width="1.6"/>
<line x1="200.00" y1="406.93" x2="201.60" y2="406.93" stroke="#000" stroke-width="0.9"/>
<line x1="200.00" y1="403.86" x2="201.60" y2="403.86" stroke="#000" stroke-width="0.9"/>
<line x1="200.00" y1="400.78" x2="201.60" y2="400.78" stroke="#000" stroke-width="0.9"/>
<line x1="200.00" y1="397.71" x2="201.60" y2="397.71" stroke="#000" stroke-width="0.9"/>
<line x1="200.00" y1="391.57" x2="201.60" y2="391.57" stroke="#000" stroke-width="0.9"/>
<line x1="200.00" y1="388.50" x2="201.60" y2="388.50" stroke="#000" stroke-width="0.9"/>
<line x1="200.00" y1="385.42" x2="201.60" y2="385.42" stroke="#000" stroke-width="0.9"/>
<line x1="200.00" y1="382.35" x2="201.60" y2="382.35" stroke="#000" stroke-width="0.9"/>
<line x1="200.00" y1="376.21" x2="201.60" y2="376.21" stroke="#000" stroke-width="0.9"/>
<line x1="200.00" y1="373.14" x2="201.60" y2="373.14" stroke="#000" stroke-width="0.9"/>
<line x1="200.00" y1="370.06" x2="201.60" y2="370.06" stroke="#000" stroke-width="0.9"/>
<line x1="200.00" y1="366.99" x2="201.60" y2="366.99" stroke="#000" stroke-width="0.9"/>
<line x1="200.00" y1="360.85" x2="201.60" y2="360.85" stroke="#000" stroke-width="0.9"/>
<line x1="200.00" y1="357.78" x2="201.60" y2="357.78" stroke="#000" stroke-width="0.9"/>
<line x1="200.00" y1="354.70" x2="201.60" y2="354.70" stroke="#000" stroke-width="0.9"/>
<line x1="200.00" y1="351.63" x2="201.60" y2="351.63" stroke="#000" stroke-width="0.9"/>
<line x1="200.00" y1="345.49" x2="201.60" y2="345.49" stroke="#000" stroke-width="0.9"/>
<line x1="200.00" y1="342.42" x2="201.60" y2="342.42" stroke="#000" stroke-width="0.9"/>
<line x1="200.00" y1="339.34" x2="201.60" y2="339.34" stroke="#000" stroke-width="0.9"/>
<line x1="200.00" y1="336.27" x2="201.60" y2="336.27" stroke="#000" stroke-width="0.9"/>
<line x1="199.70" y1="410.00" x2="201.60" y2="410.00" stroke="#000" stroke-width="1.1"/>
<text x="196.40" y="413.41" font-size="8.4" text-anchor="end">0</text>
<line x1="199.70" y1="394.64" x2="201.60" y2="394.64" stroke="#000" stroke-width="1.1"/>
<text x="196.40" y="398.05" font-size="8.4" text-anchor="end">0.5</text>
<line x1="199.70" y1="379.28" x2="201.60" y2="379.28" stroke="#000" stroke-width="1.1"/>
<text x="196.40" y="382.69" font-size="8.4" text-anchor="end">1.0</text>
<line x1="199.70" y1="363.92" x2="201.60" y2="363.92" stroke="#000" stroke-width="1.1"/>
<text x="196.40" y="367.33" font-size="8.4" text-anchor="end">1.5</text>
<line x1="199.70" y1="348.56" x2="201.60" y2="348.56" stroke="#000" stroke-width="1.1"/>
<text x="196.40" y="351.97" font-size="8.4" text-anchor="end">2.0</text>
<line x1="199.70" y1="333.20" x2="201.60" y2="333.20" stroke="#000" stroke-width="1.1"/>
<text x="196.40" y="336.61" font-size="8.4" text-anchor="end">2.5</text>
<line x1="201.00" y1="410.00" x2="255.40" y2="410.00" stroke="#000" stroke-width="1.6"/>
<line x1="211.20" y1="410.00" x2="211.20" y2="412.80" stroke="#000" stroke-width="1"/>
<line x1="224.60" y1="410.00" x2="224.60" y2="412.80" stroke="#000" stroke-width="1"/>
<line x1="237.60" y1="410.00" x2="237.60" y2="412.80" stroke="#000" stroke-width="1"/>
<rect x="234.20" y="403.09" width="6.80" height="6.91" fill="#9a9a9a" stroke="#000" stroke-width="1.2"/>
<line x1="237.60" y1="403.55" x2="237.60" y2="402.63" stroke="#000" stroke-width="1.4"/>
<line x1="234.88" y1="402.63" x2="240.32" y2="402.63" stroke="#000" stroke-width="1.5"/>
<line x1="250.60" y1="410.00" x2="250.60" y2="412.80" stroke="#000" stroke-width="1"/>
<rect x="247.20" y="348.56" width="6.80" height="61.44" fill="#111" stroke="#000" stroke-width="1.2"/>
<line x1="250.60" y1="354.09" x2="250.60" y2="343.03" stroke="#000" stroke-width="1.4"/>
<line x1="247.88" y1="343.03" x2="253.32" y2="343.03" stroke="#000" stroke-width="1.5"/>
<line x1="247.88" y1="354.09" x2="253.32" y2="354.09" stroke="#000" stroke-width="1.3"/>
<line x1="236.90" y1="339.40" x2="253.80" y2="339.40" stroke="#000" stroke-width="1.6"/>
<path d="M239.25 332.65L239.25 337.55M237.13 333.87L241.37 336.32M237.13 336.32L241.37 333.87M245.35 332.65L245.35 337.55M243.23 333.87L247.47 336.32M243.23 336.32L247.47 333.87M251.45 332.65L251.45 337.55M249.33 333.87L253.57 336.32M249.33 336.32L253.57 333.87" stroke="#333" stroke-width="1.35" fill="none"/>
<text id="t_il17" x="227.53" y="322.57" font-size="10.06" text-anchor="middle">IL17</text>
<line x1="217.60" y1="324.00" x2="237.70" y2="324.00" stroke="#000" stroke-width="1.0"/>
<text x="205" y="408.4" font-size="8" font-style="italic" transform="rotate(-30 205 408.4)">n.d.</text>
<text x="218.4" y="408.4" font-size="8" font-style="italic" transform="rotate(-30 218.4 408.4)">n.d.</text>
<line x1="280.20" y1="410.80" x2="280.20" y2="332.10" stroke="#000" stroke-width="1.6"/>
<line x1="278.60" y1="407.10" x2="280.20" y2="407.10" stroke="#000" stroke-width="0.9"/>
<line x1="278.60" y1="404.00" x2="280.20" y2="404.00" stroke="#000" stroke-width="0.9"/>
<line x1="278.60" y1="400.90" x2="280.20" y2="400.90" stroke="#000" stroke-width="0.9"/>
<line x1="278.60" y1="397.80" x2="280.20" y2="397.80" stroke="#000" stroke-width="0.9"/>
<line x1="278.60" y1="391.60" x2="280.20" y2="391.60" stroke="#000" stroke-width="0.9"/>
<line x1="278.60" y1="388.50" x2="280.20" y2="388.50" stroke="#000" stroke-width="0.9"/>
<line x1="278.60" y1="385.40" x2="280.20" y2="385.40" stroke="#000" stroke-width="0.9"/>
<line x1="278.60" y1="382.30" x2="280.20" y2="382.30" stroke="#000" stroke-width="0.9"/>
<line x1="278.60" y1="376.10" x2="280.20" y2="376.10" stroke="#000" stroke-width="0.9"/>
<line x1="278.60" y1="373.00" x2="280.20" y2="373.00" stroke="#000" stroke-width="0.9"/>
<line x1="278.60" y1="369.90" x2="280.20" y2="369.90" stroke="#000" stroke-width="0.9"/>
<line x1="278.60" y1="366.80" x2="280.20" y2="366.80" stroke="#000" stroke-width="0.9"/>
<line x1="278.60" y1="360.60" x2="280.20" y2="360.60" stroke="#000" stroke-width="0.9"/>
<line x1="278.60" y1="357.50" x2="280.20" y2="357.50" stroke="#000" stroke-width="0.9"/>
<line x1="278.60" y1="354.40" x2="280.20" y2="354.40" stroke="#000" stroke-width="0.9"/>
<line x1="278.60" y1="351.30" x2="280.20" y2="351.30" stroke="#000" stroke-width="0.9"/>
<line x1="278.60" y1="345.10" x2="280.20" y2="345.10" stroke="#000" stroke-width="0.9"/>
<line x1="278.60" y1="342.00" x2="280.20" y2="342.00" stroke="#000" stroke-width="0.9"/>
<line x1="278.60" y1="338.90" x2="280.20" y2="338.90" stroke="#000" stroke-width="0.9"/>
<line x1="278.60" y1="335.80" x2="280.20" y2="335.80" stroke="#000" stroke-width="0.9"/>
<line x1="278.30" y1="410.20" x2="280.20" y2="410.20" stroke="#000" stroke-width="1.1"/>
<text x="275.00" y="413.61" font-size="8.4" text-anchor="end">0</text>
<line x1="278.30" y1="394.70" x2="280.20" y2="394.70" stroke="#000" stroke-width="1.1"/>
<text x="275.00" y="398.11" font-size="8.4" text-anchor="end">50</text>
<line x1="278.30" y1="379.20" x2="280.20" y2="379.20" stroke="#000" stroke-width="1.1"/>
<text x="275.00" y="382.61" font-size="8.4" text-anchor="end">100</text>
<line x1="278.30" y1="363.70" x2="280.20" y2="363.70" stroke="#000" stroke-width="1.1"/>
<text x="275.00" y="367.11" font-size="8.4" text-anchor="end">150</text>
<line x1="278.30" y1="348.20" x2="280.20" y2="348.20" stroke="#000" stroke-width="1.1"/>
<text x="275.00" y="351.61" font-size="8.4" text-anchor="end">200</text>
<line x1="278.30" y1="332.70" x2="280.20" y2="332.70" stroke="#000" stroke-width="1.1"/>
<text x="275.00" y="336.11" font-size="8.4" text-anchor="end">250</text>
<line x1="279.60" y1="410.20" x2="333.60" y2="410.20" stroke="#000" stroke-width="1.6"/>
<line x1="289.80" y1="410.20" x2="289.80" y2="413.00" stroke="#000" stroke-width="1"/>
<rect x="286.40" y="399.75" width="6.80" height="10.45" fill="#fff" stroke="#000" stroke-width="1.2"/>
<line x1="289.80" y1="400.00" x2="289.80" y2="399.50" stroke="#000" stroke-width="1.4"/>
<line x1="287.08" y1="399.50" x2="292.52" y2="399.50" stroke="#000" stroke-width="1.5"/>
<line x1="303.20" y1="410.20" x2="303.20" y2="413.00" stroke="#000" stroke-width="1"/>
<rect x="299.80" y="399.75" width="6.80" height="10.45" fill="url(#hatch)" stroke="#000" stroke-width="1.2"/>
<line x1="303.20" y1="400.00" x2="303.20" y2="399.50" stroke="#000" stroke-width="1.4"/>
<line x1="300.48" y1="399.50" x2="305.92" y2="399.50" stroke="#000" stroke-width="1.5"/>
<line x1="316.20" y1="410.20" x2="316.20" y2="413.00" stroke="#000" stroke-width="1"/>
<rect x="312.80" y="377.96" width="6.80" height="32.24" fill="#9a9a9a" stroke="#000" stroke-width="1.2"/>
<line x1="316.20" y1="378.58" x2="316.20" y2="377.34" stroke="#000" stroke-width="1.4"/>
<line x1="313.48" y1="377.34" x2="318.92" y2="377.34" stroke="#000" stroke-width="1.5"/>
<line x1="329.20" y1="410.20" x2="329.20" y2="413.00" stroke="#000" stroke-width="1"/>
<rect x="325.80" y="350.06" width="6.80" height="60.14" fill="#111" stroke="#000" stroke-width="1.2"/>
<line x1="329.20" y1="350.68" x2="329.20" y2="349.44" stroke="#000" stroke-width="1.4"/>
<line x1="326.48" y1="349.44" x2="331.92" y2="349.44" stroke="#000" stroke-width="1.5"/>
<line x1="299.30" y1="359.20" x2="313.50" y2="359.20" stroke="#000" stroke-width="1.6"/>
<path d="M306.40 352.45L306.40 357.35M304.28 353.67L308.52 356.12M304.28 356.12L308.52 353.67" stroke="#333" stroke-width="1.35" fill="none"/>
<line x1="313.50" y1="339.40" x2="328.00" y2="339.40" stroke="#000" stroke-width="1.6"/>
<path d="M317.70 332.65L317.70 337.55M315.58 333.87L319.82 336.32M315.58 336.32L319.82 333.87M323.80 332.65L323.80 337.55M321.68 333.87L325.92 336.32M321.68 336.32L325.92 333.87" stroke="#333" stroke-width="1.35" fill="none"/>
<text id="t_cxcl" x="304.70" y="322.53" font-size="10.15" text-anchor="middle">CXCL10</text>
<line x1="285.00" y1="324.00" x2="324.30" y2="324.00" stroke="#000" stroke-width="1.0"/>
<line x1="352.70" y1="411.80" x2="352.70" y2="331.40" stroke="#000" stroke-width="1.6"/>
<line x1="351.10" y1="409.22" x2="352.70" y2="409.22" stroke="#000" stroke-width="0.9"/>
<line x1="351.10" y1="407.24" x2="352.70" y2="407.24" stroke="#000" stroke-width="0.9"/>
<line x1="351.10" y1="405.26" x2="352.70" y2="405.26" stroke="#000" stroke-width="0.9"/>
<line x1="351.10" y1="403.28" x2="352.70" y2="403.28" stroke="#000" stroke-width="0.9"/>
<line x1="351.10" y1="401.30" x2="352.70" y2="401.30" stroke="#000" stroke-width="0.9"/>
<line x1="351.10" y1="399.32" x2="352.70" y2="399.32" stroke="#000" stroke-width="0.9"/>
<line x1="351.10" y1="397.34" x2="352.70" y2="397.34" stroke="#000" stroke-width="0.9"/>
<line x1="351.10" y1="393.38" x2="352.70" y2="393.38" stroke="#000" stroke-width="0.9"/>
<line x1="351.10" y1="391.40" x2="352.70" y2="391.40" stroke="#000" stroke-width="0.9"/>
<line x1="351.10" y1="389.42" x2="352.70" y2="389.42" stroke="#000" stroke-width="0.9"/>
<line x1="351.10" y1="387.44" x2="352.70" y2="387.44" stroke="#000" stroke-width="0.9"/>
<line x1="351.10" y1="385.46" x2="352.70" y2="385.46" stroke="#000" stroke-width="0.9"/>
<line x1="351.10" y1="383.48" x2="352.70" y2="383.48" stroke="#000" stroke-width="0.9"/>
<line x1="351.10" y1="381.50" x2="352.70" y2="381.50" stroke="#000" stroke-width="0.9"/>
<line x1="351.10" y1="377.54" x2="352.70" y2="377.54" stroke="#000" stroke-width="0.9"/>
<line x1="351.10" y1="375.56" x2="352.70" y2="375.56" stroke="#000" stroke-width="0.9"/>
<line x1="351.10" y1="373.58" x2="352.70" y2="373.58" stroke="#000" stroke-width="0.9"/>
<line x1="351.10" y1="371.60" x2="352.70" y2="371.60" stroke="#000" stroke-width="0.9"/>
<line x1="351.10" y1="369.62" x2="352.70" y2="369.62" stroke="#000" stroke-width="0.9"/>
<line x1="351.10" y1="367.64" x2="352.70" y2="367.64" stroke="#000" stroke-width="0.9"/>
<line x1="351.10" y1="365.66" x2="352.70" y2="365.66" stroke="#000" stroke-width="0.9"/>
<line x1="351.10" y1="361.70" x2="352.70" y2="361.70" stroke="#000" stroke-width="0.9"/>
<line x1="351.10" y1="359.72" x2="352.70" y2="359.72" stroke="#000" stroke-width="0.9"/>
<line x1="351.10" y1="357.74" x2="352.70" y2="357.74" stroke="#000" stroke-width="0.9"/>
<line x1="351.10" y1="355.76" x2="352.70" y2="355.76" stroke="#000" stroke-width="0.9"/>
<line x1="351.10" y1="353.78" x2="352.70" y2="353.78" stroke="#000" stroke-width="0.9"/>
<line x1="351.10" y1="351.80" x2="352.70" y2="351.80" stroke="#000" stroke-width="0.9"/>
<line x1="351.10" y1="349.82" x2="352.70" y2="349.82" stroke="#000" stroke-width="0.9"/>
<line x1="351.10" y1="345.86" x2="352.70" y2="345.86" stroke="#000" stroke-width="0.9"/>
<line x1="351.10" y1="343.88" x2="352.70" y2="343.88" stroke="#000" stroke-width="0.9"/>
<line x1="351.10" y1="341.90" x2="352.70" y2="341.90" stroke="#000" stroke-width="0.9"/>
<line x1="351.10" y1="339.92" x2="352.70" y2="339.92" stroke="#000" stroke-width="0.9"/>
<line x1="351.10" y1="337.94" x2="352.70" y2="337.94" stroke="#000" stroke-width="0.9"/>
<line x1="351.10" y1="335.96" x2="352.70" y2="335.96" stroke="#000" stroke-width="0.9"/>
<line x1="351.10" y1="333.98" x2="352.70" y2="333.98" stroke="#000" stroke-width="0.9"/>
<line x1="350.80" y1="411.20" x2="352.70" y2="411.20" stroke="#000" stroke-width="1.1"/>
<text x="347.50" y="414.61" font-size="8.4" text-anchor="end">0</text>
<line x1="350.80" y1="395.36" x2="352.70" y2="395.36" stroke="#000" stroke-width="1.1"/>
<text x="347.50" y="398.77" font-size="8.4" text-anchor="end">2</text>
<line x1="350.80" y1="379.52" x2="352.70" y2="379.52" stroke="#000" stroke-width="1.1"/>
<text x="347.50" y="382.93" font-size="8.4" text-anchor="end">4</text>
<line x1="350.80" y1="363.68" x2="352.70" y2="363.68" stroke="#000" stroke-width="1.1"/>
<text x="347.50" y="367.09" font-size="8.4" text-anchor="end">6</text>
<line x1="350.80" y1="347.84" x2="352.70" y2="347.84" stroke="#000" stroke-width="1.1"/>
<text x="347.50" y="351.25" font-size="8.4" text-anchor="end">8</text>
<line x1="350.80" y1="332.00" x2="352.70" y2="332.00" stroke="#000" stroke-width="1.1"/>
<text x="347.50" y="335.41" font-size="8.4" text-anchor="end">10</text>
<line x1="352.10" y1="411.20" x2="406.60" y2="411.20" stroke="#000" stroke-width="1.6"/>
<line x1="362.30" y1="411.20" x2="362.30" y2="414.00" stroke="#000" stroke-width="1"/>
<rect x="358.90" y="409.22" width="6.80" height="1.98" fill="#fff" stroke="#000" stroke-width="1.2"/>
<line x1="362.30" y1="409.62" x2="362.30" y2="408.82" stroke="#000" stroke-width="1.4"/>
<line x1="359.58" y1="408.82" x2="365.02" y2="408.82" stroke="#000" stroke-width="1.5"/>
<line x1="375.70" y1="411.20" x2="375.70" y2="414.00" stroke="#000" stroke-width="1"/>
<rect x="372.30" y="408.43" width="6.80" height="2.77" fill="url(#hatch)" stroke="#000" stroke-width="1.2"/>
<line x1="375.70" y1="408.82" x2="375.70" y2="408.03" stroke="#000" stroke-width="1.4"/>
<line x1="372.98" y1="408.03" x2="378.42" y2="408.03" stroke="#000" stroke-width="1.5"/>
<line x1="388.70" y1="411.20" x2="388.70" y2="414.00" stroke="#000" stroke-width="1"/>
<rect x="385.30" y="385.06" width="6.80" height="26.14" fill="#9a9a9a" stroke="#000" stroke-width="1.2"/>
<line x1="388.70" y1="386.65" x2="388.70" y2="383.48" stroke="#000" stroke-width="1.4"/>
<line x1="385.98" y1="383.48" x2="391.42" y2="383.48" stroke="#000" stroke-width="1.5"/>
<line x1="385.98" y1="386.65" x2="391.42" y2="386.65" stroke="#000" stroke-width="1.3"/>
<line x1="401.70" y1="411.20" x2="401.70" y2="414.00" stroke="#000" stroke-width="1"/>
<rect x="398.30" y="347.05" width="6.80" height="64.15" fill="#111" stroke="#000" stroke-width="1.2"/>
<line x1="401.70" y1="350.22" x2="401.70" y2="343.88" stroke="#000" stroke-width="1.4"/>
<line x1="398.98" y1="343.88" x2="404.42" y2="343.88" stroke="#000" stroke-width="1.5"/>
<line x1="398.98" y1="350.22" x2="404.42" y2="350.22" stroke="#000" stroke-width="1.3"/>
<line x1="373.50" y1="359.20" x2="388.50" y2="359.20" stroke="#000" stroke-width="1.6"/>
<path d="M374.90 352.45L374.90 357.35M372.78 353.67L377.02 356.12M372.78 356.12L377.02 353.67M381.00 352.45L381.00 357.35M378.88 353.67L383.12 356.12M378.88 356.12L383.12 353.67M387.10 352.45L387.10 357.35M384.98 353.67L389.22 356.12M384.98 356.12L389.22 353.67" stroke="#333" stroke-width="1.35" fill="none"/>
<line x1="387.70" y1="339.90" x2="402.00" y2="339.90" stroke="#000" stroke-width="1.6"/>
<path d="M391.80 333.15L391.80 338.05M389.68 334.37L393.92 336.82M389.68 336.82L393.92 334.37M397.90 333.15L397.90 338.05M395.78 334.37L400.02 336.82M395.78 336.82L400.02 334.37" stroke="#333" stroke-width="1.35" fill="none"/>
<text id="t_gmcsf" x="379.34" y="322.34" font-size="9.76" text-anchor="middle">GMCSF</text>
<line x1="361.70" y1="324.00" x2="397.10" y2="324.00" stroke="#000" stroke-width="1.0"/>
<rect x="433.8" y="337.4" width="12" height="6.6" fill="#fff" stroke="#000" stroke-width="1.1"/>
<text id="t_leg0" x="453.62" y="344.83" font-size="10.28" text-anchor="start">No treatment</text>
<rect x="433.8" y="351.1" width="12" height="6.6" fill="url(#hatch)" stroke="#000" stroke-width="1.1"/>
<text id="t_leg1" x="453.80" y="358.70" font-size="10.20" text-anchor="start">CD4 only</text>
<rect x="433.8" y="364.1" width="12" height="6.6" fill="#9a9a9a" stroke="#000" stroke-width="1.1"/>
<text id="t_leg2" x="453.80" y="371.70" font-size="10.20" text-anchor="start">Cy only</text>
<rect x="433.8" y="377.4" width="12" height="6.6" fill="#111" stroke="#000" stroke-width="1.1"/>
<text id="t_leg3" x="453.80" y="385.00" font-size="10.20" text-anchor="start">Cy/CD4</text>
</svg>
</body></html>
